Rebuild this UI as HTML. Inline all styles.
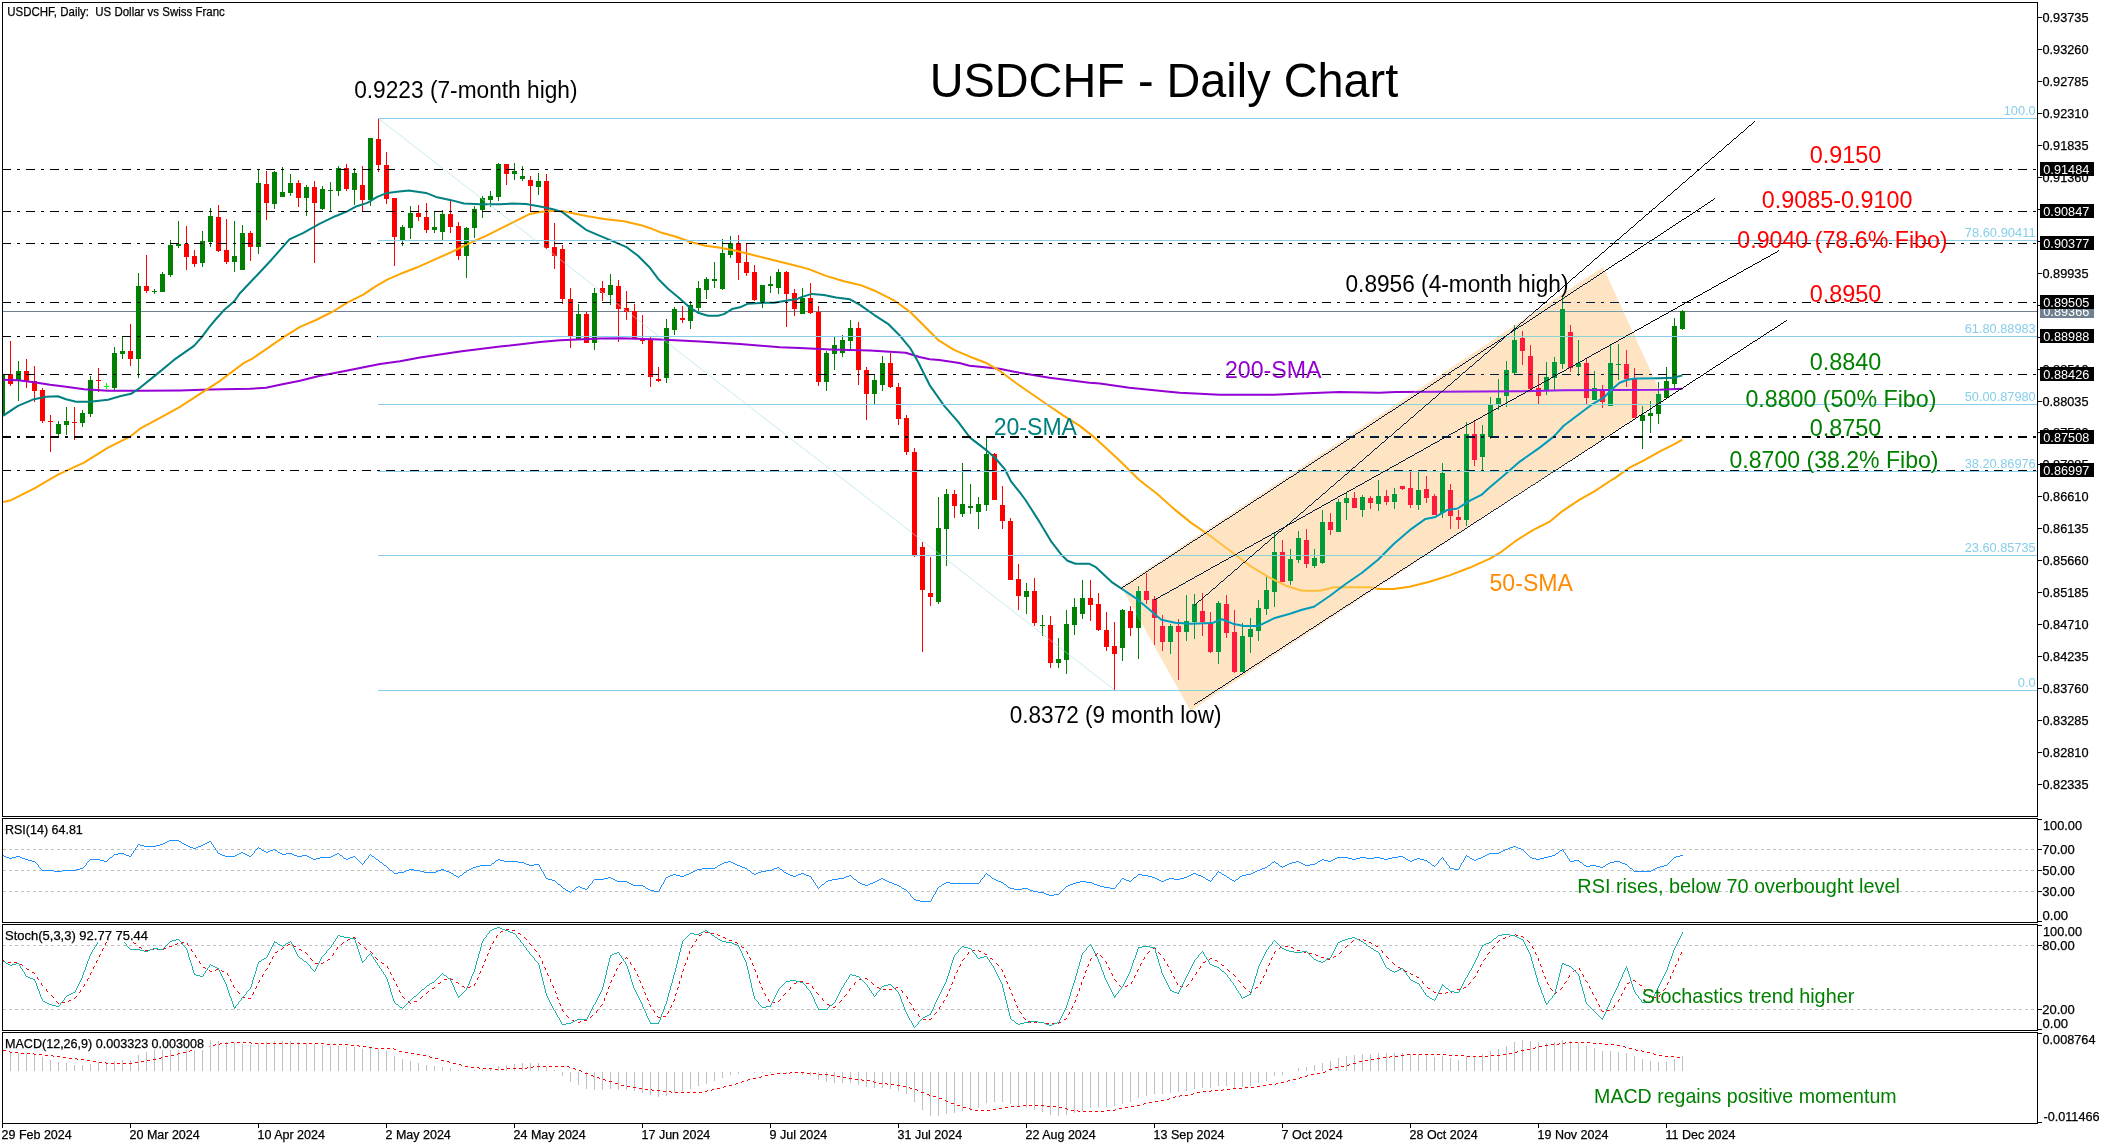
<!DOCTYPE html><html><head><meta charset="utf-8"><title>USDCHF - Daily Chart</title>
<style>html,body{margin:0;padding:0;background:#fff;}body{width:2107px;height:1147px;overflow:hidden;}svg{display:block;will-change:transform;}text{font-family:"Liberation Sans",sans-serif;}.m{stroke:#000;stroke-width:0.25px;}</style></head><body>
<svg width="2107" height="1147" viewBox="0 0 2107 1147">
<rect x="0" y="0" width="2107" height="1147" fill="#ffffff"/>
<defs><clipPath id="cm"><rect x="3" y="3" width="2034" height="813"/></clipPath>
<clipPath id="cr"><rect x="3" y="819" width="2034" height="103"/></clipPath>
<clipPath id="cs"><rect x="3" y="925" width="2034" height="105"/></clipPath>
<clipPath id="cd"><rect x="3" y="1033" width="2034" height="90"/></clipPath></defs>
<defs><clipPath id="cp"><polygon points="1121.0,586.5 1603.0,267.0 1663.5,399.0 1190.5,711.0"/></clipPath></defs>
<g clip-path="url(#cm)">
<rect x="3" y="311" width="2034" height="1" fill="#708090" shape-rendering="crispEdges"/>
<g shape-rendering="crispEdges">
<rect x="3" y="375" width="2" height="41" fill="#008000"/>
<path fill="#ff0000" d="M10 341h1v45h-1zM8 374h5v10h-5z"/>
<path fill="#008000" d="M18 361h1v40h-1zM16 371h5v10h-5z"/>
<path fill="#ff0000" d="M26 359h1v29h-1zM24 371h5v10h-5z"/>
<path fill="#ff0000" d="M34 366h1v36h-1zM32 381h5v10h-5z"/>
<path fill="#ff0000" d="M42 388h1v35h-1zM40 390h5v31h-5z"/>
<path fill="#ff0000" d="M50 415h1v37h-1zM48 421h5v1h-5z"/>
<path fill="#008000" d="M58 421h1v16h-1zM56 424h5v10h-5z"/>
<path fill="#008000" d="M66 407h1v28h-1zM64 421h5v4h-5z"/>
<path fill="#ff0000" d="M74 407h1v33h-1zM72 422h5v1h-5z"/>
<path fill="#008000" d="M82 410h1v17h-1zM80 413h5v10h-5z"/>
<path fill="#008000" d="M90 376h1v41h-1zM88 380h5v34h-5z"/>
<path fill="#ff0000" d="M98 368h1v24h-1zM96 380h5v1h-5z"/>
<path fill="#00ff00" d="M106 383h1v6h-1zM104 386h5v1h-5z"/>
<path fill="#008000" d="M114 347h1v43h-1zM112 353h5v35h-5z"/>
<path fill="#008000" d="M122 336h1v23h-1zM120 351h5v3h-5z"/>
<path fill="#ff0000" d="M130 324h1v42h-1zM128 351h5v8h-5z"/>
<path fill="#008000" d="M138 273h1v105h-1zM136 286h5v73h-5z"/>
<path fill="#ff0000" d="M146 255h1v38h-1zM144 286h5v5h-5z"/>
<path fill="#008000" d="M154 289h1v5h-1zM152 291h5v1h-5z"/>
<path fill="#008000" d="M162 272h1v20h-1zM160 274h5v18h-5z"/>
<path fill="#008000" d="M170 240h1v37h-1zM168 245h5v30h-5z"/>
<path fill="#008000" d="M178 221h1v27h-1zM176 244h5v2h-5z"/>
<path fill="#ff0000" d="M186 226h1v44h-1zM184 244h5v13h-5z"/>
<path fill="#ff0000" d="M194 250h1v17h-1zM192 256h5v8h-5z"/>
<path fill="#008000" d="M202 231h1v36h-1zM200 241h5v22h-5z"/>
<path fill="#008000" d="M210 208h1v39h-1zM208 216h5v26h-5z"/>
<path fill="#ff0000" d="M218 205h1v47h-1zM216 217h5v34h-5z"/>
<path fill="#ff0000" d="M226 219h1v45h-1zM224 250h5v12h-5z"/>
<path fill="#008000" d="M234 221h1v51h-1zM232 256h5v6h-5z"/>
<path fill="#008000" d="M242 225h1v45h-1zM240 233h5v37h-5z"/>
<path fill="#ff0000" d="M250 231h1v30h-1zM248 233h5v14h-5z"/>
<path fill="#008000" d="M258 170h1v84h-1zM256 183h5v64h-5z"/>
<path fill="#ff0000" d="M266 171h1v49h-1zM264 184h5v19h-5z"/>
<path fill="#008000" d="M274 171h1v38h-1zM272 172h5v32h-5z"/>
<path fill="#008000" d="M282 167h1v30h-1zM280 192h5v5h-5z"/>
<path fill="#008000" d="M290 174h1v22h-1zM288 183h5v10h-5z"/>
<path fill="#ff0000" d="M298 180h1v27h-1zM296 183h5v15h-5z"/>
<path fill="#008000" d="M306 185h1v31h-1zM304 187h5v11h-5z"/>
<path fill="#ff0000" d="M314 181h1v82h-1zM312 187h5v16h-5z"/>
<path fill="#008000" d="M322 186h1v24h-1zM320 189h5v20h-5z"/>
<path fill="#008000" d="M330 182h1v29h-1zM328 190h5v1h-5z"/>
<path fill="#008000" d="M338 166h1v30h-1zM336 168h5v23h-5z"/>
<path fill="#ff0000" d="M346 164h1v27h-1zM344 168h5v21h-5z"/>
<path fill="#008000" d="M354 168h1v37h-1zM352 173h5v17h-5z"/>
<path fill="#ff0000" d="M362 166h1v45h-1zM360 185h5v15h-5z"/>
<path fill="#008000" d="M370 138h1v68h-1zM368 138h5v62h-5z"/>
<path fill="#ff0000" d="M378 119h1v53h-1zM376 139h5v26h-5z"/>
<path fill="#ff0000" d="M386 152h1v52h-1zM384 165h5v34h-5z"/>
<path fill="#ff0000" d="M394 198h1v68h-1zM392 198h5v39h-5z"/>
<path fill="#008000" d="M402 225h1v21h-1zM400 227h5v13h-5z"/>
<path fill="#008000" d="M410 206h1v33h-1zM408 213h5v15h-5z"/>
<path fill="#ff0000" d="M418 205h1v16h-1zM416 213h5v4h-5z"/>
<path fill="#ff0000" d="M426 203h1v30h-1zM424 217h5v13h-5z"/>
<path fill="#008000" d="M434 211h1v22h-1zM432 227h5v3h-5z"/>
<path fill="#008000" d="M442 210h1v30h-1zM440 214h5v18h-5z"/>
<path fill="#ff0000" d="M450 201h1v32h-1zM448 214h5v13h-5z"/>
<path fill="#ff0000" d="M458 222h1v38h-1zM456 226h5v30h-5z"/>
<path fill="#008000" d="M466 227h1v51h-1zM464 228h5v28h-5z"/>
<path fill="#008000" d="M474 206h1v32h-1zM472 209h5v19h-5z"/>
<path fill="#008000" d="M482 196h1v22h-1zM480 198h5v12h-5z"/>
<path fill="#008000" d="M490 191h1v16h-1zM488 196h5v4h-5z"/>
<path fill="#008000" d="M498 163h1v38h-1zM496 164h5v33h-5z"/>
<path fill="#ff0000" d="M506 164h1v21h-1zM504 164h5v10h-5z"/>
<path fill="#008000" d="M514 163h1v17h-1zM512 171h5v3h-5z"/>
<path fill="#008000" d="M522 166h1v15h-1zM520 176h5v3h-5z"/>
<path fill="#ff0000" d="M530 176h1v35h-1zM528 180h5v6h-5z"/>
<path fill="#008000" d="M538 173h1v22h-1zM536 181h5v6h-5z"/>
<path fill="#ff0000" d="M546 174h1v75h-1zM544 181h5v67h-5z"/>
<path fill="#ff0000" d="M554 223h1v46h-1zM552 247h5v9h-5z"/>
<path fill="#ff0000" d="M562 245h1v59h-1zM560 249h5v50h-5z"/>
<path fill="#ff0000" d="M570 288h1v60h-1zM568 299h5v37h-5z"/>
<path fill="#008000" d="M578 304h1v35h-1zM576 314h5v25h-5z"/>
<path fill="#ff0000" d="M586 312h1v31h-1zM584 314h5v29h-5z"/>
<path fill="#008000" d="M594 288h1v62h-1zM592 293h5v50h-5z"/>
<path fill="#ff0000" d="M602 281h1v20h-1zM600 288h5v5h-5z"/>
<path fill="#008000" d="M610 274h1v31h-1zM608 285h5v10h-5z"/>
<path fill="#ff0000" d="M618 280h1v62h-1zM616 286h5v23h-5z"/>
<path fill="#ff0000" d="M626 291h1v29h-1zM624 308h5v4h-5z"/>
<path fill="#ff0000" d="M634 304h1v35h-1zM632 311h5v28h-5z"/>
<path fill="#ff0000" d="M642 315h1v29h-1zM640 339h5v2h-5z"/>
<path fill="#ff0000" d="M650 337h1v50h-1zM648 340h5v37h-5z"/>
<path fill="#ff0000" d="M658 367h1v15h-1zM656 379h5v2h-5z"/>
<path fill="#008000" d="M666 319h1v64h-1zM664 328h5v50h-5z"/>
<path fill="#008000" d="M674 307h1v28h-1zM672 309h5v21h-5z"/>
<path fill="#ff0000" d="M682 306h1v17h-1zM680 318h5v2h-5z"/>
<path fill="#008000" d="M690 301h1v28h-1zM688 305h5v16h-5z"/>
<path fill="#008000" d="M698 281h1v30h-1zM696 288h5v20h-5z"/>
<path fill="#008000" d="M706 277h1v22h-1zM704 279h5v11h-5z"/>
<path fill="#008000" d="M714 262h1v26h-1zM712 279h5v2h-5z"/>
<path fill="#008000" d="M722 239h1v51h-1zM720 253h5v36h-5z"/>
<path fill="#008000" d="M730 236h1v22h-1zM728 243h5v12h-5z"/>
<path fill="#ff0000" d="M738 235h1v45h-1zM736 243h5v20h-5z"/>
<path fill="#ff0000" d="M746 243h1v33h-1zM744 262h5v11h-5z"/>
<path fill="#ff0000" d="M754 265h1v36h-1zM752 272h5v28h-5z"/>
<path fill="#008000" d="M762 285h1v23h-1zM760 285h5v18h-5z"/>
<path fill="#008000" d="M770 276h1v17h-1zM768 284h5v2h-5z"/>
<path fill="#008000" d="M778 269h1v25h-1zM776 272h5v16h-5z"/>
<path fill="#ff0000" d="M786 271h1v56h-1zM784 272h5v22h-5z"/>
<path fill="#ff0000" d="M794 289h1v27h-1zM792 293h5v16h-5z"/>
<path fill="#008000" d="M802 288h1v26h-1zM800 298h5v16h-5z"/>
<path fill="#ff0000" d="M810 283h1v31h-1zM808 298h5v15h-5z"/>
<path fill="#ff0000" d="M818 306h1v80h-1zM816 312h5v70h-5z"/>
<path fill="#008000" d="M826 351h1v40h-1zM824 353h5v29h-5z"/>
<path fill="#008000" d="M834 337h1v33h-1zM832 345h5v9h-5z"/>
<path fill="#008000" d="M842 335h1v22h-1zM840 340h5v13h-5z"/>
<path fill="#008000" d="M850 320h1v29h-1zM848 328h5v13h-5z"/>
<path fill="#ff0000" d="M858 322h1v63h-1zM856 328h5v42h-5z"/>
<path fill="#ff0000" d="M866 367h1v53h-1zM864 370h5v24h-5z"/>
<path fill="#008000" d="M874 374h1v30h-1zM872 380h5v14h-5z"/>
<path fill="#008000" d="M882 356h1v35h-1zM880 363h5v22h-5z"/>
<path fill="#ff0000" d="M890 353h1v35h-1zM888 363h5v24h-5z"/>
<path fill="#ff0000" d="M898 383h1v42h-1zM896 387h5v32h-5z"/>
<path fill="#ff0000" d="M906 415h1v40h-1zM904 418h5v34h-5z"/>
<path fill="#ff0000" d="M914 448h1v109h-1zM912 452h5v103h-5z"/>
<path fill="#ff0000" d="M922 542h1v110h-1zM920 547h5v43h-5z"/>
<path fill="#ff0000" d="M930 557h1v49h-1zM928 593h5v4h-5z"/>
<path fill="#008000" d="M938 497h1v107h-1zM936 528h5v74h-5z"/>
<path fill="#008000" d="M946 489h1v77h-1zM944 494h5v35h-5z"/>
<path fill="#ff0000" d="M954 490h1v28h-1zM952 494h5v12h-5z"/>
<path fill="#008000" d="M962 463h1v54h-1zM960 504h5v10h-5z"/>
<path fill="#008000" d="M970 484h1v30h-1zM968 506h5v2h-5z"/>
<path fill="#008000" d="M978 497h1v32h-1zM976 504h5v8h-5z"/>
<path fill="#008000" d="M986 437h1v74h-1zM984 454h5v51h-5z"/>
<path fill="#ff0000" d="M994 453h1v47h-1zM992 454h5v46h-5z"/>
<path fill="#ff0000" d="M1002 486h1v43h-1zM1000 505h5v16h-5z"/>
<path fill="#ff0000" d="M1010 518h1v62h-1zM1008 521h5v59h-5z"/>
<path fill="#ff0000" d="M1018 564h1v46h-1zM1016 579h5v17h-5z"/>
<path fill="#008000" d="M1026 583h1v31h-1zM1024 591h5v6h-5z"/>
<path fill="#ff0000" d="M1034 578h1v48h-1zM1032 591h5v32h-5z"/>
<path fill="#008000" d="M1042 615h1v21h-1zM1040 625h5v1h-5z"/>
<path fill="#ff0000" d="M1050 616h1v52h-1zM1048 625h5v38h-5z"/>
<path fill="#008000" d="M1058 638h1v30h-1zM1056 659h5v4h-5z"/>
<path fill="#008000" d="M1066 610h1v64h-1zM1064 624h5v36h-5z"/>
<path fill="#008000" d="M1074 598h1v37h-1zM1072 607h5v18h-5z"/>
<path fill="#008000" d="M1082 580h1v39h-1zM1080 598h5v16h-5z"/>
<path fill="#ff0000" d="M1090 580h1v41h-1zM1088 598h5v7h-5z"/>
<path fill="#ff0000" d="M1098 593h1v38h-1zM1096 604h5v26h-5z"/>
<path fill="#ff0000" d="M1106 612h1v39h-1zM1104 630h5v17h-5z"/>
<path fill="#ff0000" d="M1114 622h1v68h-1zM1112 646h5v8h-5z"/>
<path fill="#008000" d="M1122 609h1v52h-1zM1120 610h5v38h-5z"/>
<path fill="#ff0000" d="M1130 606h1v30h-1zM1128 611h5v17h-5z"/>
<path fill="#008000" d="M1138 586h1v73h-1zM1136 591h5v37h-5z"/>
<path fill="#ff0000" d="M1146 573h1v31h-1zM1144 591h5v9h-5z"/>
<path fill="#ff0000" d="M1154 596h1v49h-1zM1152 599h5v19h-5z"/>
<path fill="#ff0000" d="M1162 615h1v36h-1zM1160 626h5v16h-5z"/>
<path fill="#008000" d="M1170 624h1v30h-1zM1168 626h5v16h-5z"/>
<path fill="#ff0000" d="M1178 619h1v61h-1zM1176 626h5v6h-5z"/>
<path fill="#008000" d="M1186 595h1v46h-1zM1184 621h5v11h-5z"/>
<path fill="#008000" d="M1194 594h1v45h-1zM1192 604h5v18h-5z"/>
<path fill="#ff0000" d="M1202 593h1v43h-1zM1200 611h5v11h-5z"/>
<path fill="#ff0000" d="M1210 612h1v41h-1zM1208 623h5v29h-5z"/>
<path fill="#008000" d="M1218 601h1v63h-1zM1216 603h5v49h-5z"/>
<path fill="#ff0000" d="M1226 595h1v43h-1zM1224 604h5v29h-5z"/>
<path fill="#ff0000" d="M1234 610h1v63h-1zM1232 632h5v40h-5z"/>
<path fill="#008000" d="M1242 623h1v49h-1zM1240 636h5v36h-5z"/>
<path fill="#008000" d="M1250 618h1v35h-1zM1248 629h5v8h-5z"/>
<path fill="#008000" d="M1258 600h1v41h-1zM1256 608h5v23h-5z"/>
<path fill="#008000" d="M1266 577h1v38h-1zM1264 590h5v19h-5z"/>
<path fill="#008000" d="M1274 533h1v74h-1zM1272 552h5v40h-5z"/>
<path fill="#ff0000" d="M1282 540h1v42h-1zM1280 552h5v30h-5z"/>
<path fill="#008000" d="M1290 549h1v36h-1zM1288 559h5v22h-5z"/>
<path fill="#008000" d="M1298 531h1v32h-1zM1296 538h5v22h-5z"/>
<path fill="#ff0000" d="M1306 529h1v39h-1zM1304 540h5v24h-5z"/>
<path fill="#008000" d="M1314 549h1v19h-1zM1312 558h5v8h-5z"/>
<path fill="#008000" d="M1322 510h1v54h-1zM1320 522h5v41h-5z"/>
<path fill="#ff0000" d="M1330 513h1v22h-1zM1328 522h5v8h-5z"/>
<path fill="#008000" d="M1338 499h1v33h-1zM1336 502h5v30h-5z"/>
<path fill="#008000" d="M1346 492h1v28h-1zM1344 498h5v5h-5z"/>
<path fill="#ff0000" d="M1354 492h1v16h-1zM1352 498h5v10h-5z"/>
<path fill="#008000" d="M1362 495h1v22h-1zM1360 497h5v13h-5z"/>
<path fill="#ff0000" d="M1370 496h1v13h-1zM1368 498h5v5h-5z"/>
<path fill="#008000" d="M1378 480h1v31h-1zM1376 496h5v8h-5z"/>
<path fill="#ff0000" d="M1386 490h1v15h-1zM1384 496h5v6h-5z"/>
<path fill="#008000" d="M1394 488h1v21h-1zM1392 494h5v8h-5z"/>
<path fill="#ff0000" d="M1402 486h1v4h-1zM1400 486h5v3h-5z"/>
<path fill="#ff0000" d="M1410 472h1v36h-1zM1408 488h5v17h-5z"/>
<path fill="#008000" d="M1418 472h1v38h-1zM1416 490h5v15h-5z"/>
<path fill="#ff0000" d="M1426 476h1v27h-1zM1424 489h5v9h-5z"/>
<path fill="#ff0000" d="M1434 494h1v21h-1zM1432 496h5v19h-5z"/>
<path fill="#008000" d="M1442 463h1v55h-1zM1440 473h5v40h-5z"/>
<path fill="#ff0000" d="M1450 484h1v45h-1zM1448 490h5v26h-5z"/>
<path fill="#ff0000" d="M1458 510h1v19h-1zM1456 517h5v3h-5z"/>
<path fill="#008000" d="M1466 422h1v104h-1zM1464 434h5v86h-5z"/>
<path fill="#ff0000" d="M1474 421h1v45h-1zM1472 434h5v26h-5z"/>
<path fill="#008000" d="M1482 425h1v46h-1zM1480 434h5v23h-5z"/>
<path fill="#008000" d="M1490 397h1v42h-1zM1488 405h5v32h-5z"/>
<path fill="#008000" d="M1498 379h1v31h-1zM1496 398h5v7h-5z"/>
<path fill="#008000" d="M1506 361h1v46h-1zM1504 370h5v26h-5z"/>
<path fill="#008000" d="M1514 325h1v49h-1zM1512 340h5v33h-5z"/>
<path fill="#ff0000" d="M1522 331h1v34h-1zM1520 338h5v13h-5z"/>
<path fill="#ff0000" d="M1530 345h1v44h-1zM1528 356h5v33h-5z"/>
<path fill="#ff0000" d="M1538 374h1v30h-1zM1536 388h5v8h-5z"/>
<path fill="#008000" d="M1546 362h1v33h-1zM1544 377h5v13h-5z"/>
<path fill="#008000" d="M1554 357h1v33h-1zM1552 362h5v16h-5z"/>
<path fill="#008000" d="M1562 297h1v72h-1zM1560 309h5v55h-5z"/>
<path fill="#ff0000" d="M1570 325h1v47h-1zM1568 332h5v36h-5z"/>
<path fill="#008000" d="M1578 340h1v36h-1zM1576 363h5v4h-5z"/>
<path fill="#ff0000" d="M1586 358h1v47h-1zM1584 363h5v35h-5z"/>
<path fill="#008000" d="M1594 371h1v29h-1zM1592 388h5v12h-5z"/>
<path fill="#ff0000" d="M1602 385h1v23h-1zM1600 390h5v12h-5z"/>
<path fill="#008000" d="M1610 344h1v62h-1zM1608 363h5v43h-5z"/>
<path fill="#008000" d="M1618 344h1v36h-1zM1616 364h5v1h-5z"/>
<path fill="#ff0000" d="M1626 350h1v37h-1zM1624 364h5v15h-5z"/>
<path fill="#ff0000" d="M1634 368h1v50h-1zM1632 378h5v40h-5z"/>
<path fill="#008000" d="M1642 406h1v43h-1zM1640 415h5v6h-5z"/>
<path fill="#008000" d="M1650 401h1v32h-1zM1648 413h5v3h-5z"/>
<path fill="#008000" d="M1658 382h1v42h-1zM1656 394h5v20h-5z"/>
<path fill="#008000" d="M1666 367h1v32h-1zM1664 381h5v17h-5z"/>
<path fill="#008000" d="M1674 318h1v71h-1zM1672 326h5v58h-5z"/>
<path fill="#008000" d="M1682 310h1v20h-1zM1680 311h5v18h-5z"/>
</g>
<polyline points="3.0,379.8 18.0,380.2 34.0,382.2 50.0,384.8 66.0,386.8 84.0,389.2 108.0,390.8 140.0,390.8 180.0,390.4 210.0,389.6 250.0,388.8 266.0,387.8 280.0,384.8 300.0,380.8 320.0,375.8 340.0,371.9 360.0,367.9 380.0,363.9 400.0,361.2 420.0,357.6 460.0,351.6 500.0,346.6 540.0,342.0 560.0,340.2 600.0,338.6 620.0,338.2 660.0,339.6 700.0,341.6 740.0,344.0 780.0,347.2 800.0,348.0 830.0,349.4 870.0,350.4 905.8,352.8 919.4,357.0 929.7,359.3 939.3,360.0 959.3,363.0 969.6,365.7 999.6,368.7 1019.5,372.7 1049.5,377.7 1089.4,382.7 1100.0,383.5 1129.3,387.7 1169.2,391.7 1179.8,392.7 1219.8,394.7 1273.7,394.7 1307.6,393.3 1339.5,392.1 1379.4,392.7 1395.4,392.1 1520.0,391.3 1563.7,390.3 1659.5,389.7 1682.4,388.7" fill="none" stroke="#9400d3" stroke-width="2" stroke-linejoin="round" />
<polyline points="3.0,502.0 10.0,500.6 34.0,488.6 58.0,474.7 84.0,462.7 108.0,447.7 130.0,436.7 140.0,428.7 160.0,417.8 180.0,406.8 200.0,393.8 220.0,380.8 244.0,362.9 252.0,358.9 268.0,347.9 284.0,336.9 300.0,326.9 316.0,320.0 332.0,312.0 347.3,302.7 363.3,294.7 375.2,286.7 387.2,279.7 403.2,272.7 416.0,267.8 434.0,259.8 452.0,251.8 468.0,243.8 486.0,235.8 502.0,227.8 518.0,219.9 530.0,213.9 540.0,211.9 550.0,210.9 562.0,210.9 574.0,213.5 588.0,216.3 604.0,218.9 624.0,221.3 640.0,224.9 652.0,228.8 660.0,232.2 676.0,236.8 690.0,241.8 704.0,245.4 720.0,247.8 736.0,250.8 752.0,254.8 768.0,258.8 780.0,261.8 794.0,265.2 808.0,268.9 826.0,275.9 844.0,281.3 860.0,284.9 876.0,291.3 894.0,300.3 910.0,311.8 926.0,327.8 938.0,339.8 954.0,349.8 970.0,356.7 985.6,362.7 999.6,370.7 1015.6,382.7 1031.5,393.7 1047.5,404.7 1063.5,415.6 1079.4,425.6 1093.4,436.6 1105.4,447.6 1117.4,458.5 1139.3,480.0 1157.3,494.0 1175.2,509.9 1191.2,522.9 1210.0,535.8 1230.0,550.8 1250.0,565.8 1270.0,577.8 1286.0,585.7 1302.0,590.7 1320.0,590.7 1334.0,587.3 1369.6,587.3 1379.6,589.1 1393.6,589.1 1409.6,586.7 1429.5,581.8 1449.5,575.4 1469.4,567.8 1489.4,558.8 1501.4,551.8 1517.3,539.8 1533.3,529.9 1549.3,521.9 1561.3,511.9 1579.2,499.9 1595.2,490.9 1610.0,481.0 1615.6,477.6 1629.5,467.6 1643.5,460.6 1659.5,451.6 1673.5,444.6 1682.4,439.6" fill="none" stroke="#ffa500" stroke-width="2" stroke-linejoin="round" />
<polyline points="3.0,415.8 18.0,405.8 34.0,399.2 46.0,396.8 58.0,396.2 66.0,399.2 76.0,401.8 90.0,401.8 108.0,399.8 120.0,396.2 131.0,393.8 140.0,387.8 156.0,374.9 174.0,359.9 194.0,345.9 202.0,336.9 209.6,326.6 216.0,319.0 223.6,310.6 234.5,301.0 239.5,293.7 257.5,274.7 271.5,259.7 289.4,239.4 303.4,232.8 319.4,223.8 335.3,216.2 347.3,211.4 355.3,206.8 367.3,202.9 377.2,196.9 387.2,192.9 399.2,191.5 409.2,190.5 412.0,190.9 426.0,192.9 436.0,196.9 450.0,199.9 464.0,203.5 480.0,204.3 500.0,204.3 512.0,203.5 526.0,203.9 540.0,206.5 552.0,208.9 562.0,211.9 574.0,220.9 586.0,229.8 600.0,235.8 612.0,240.8 626.0,246.8 638.0,255.8 650.0,267.8 658.0,278.7 668.0,288.7 680.0,298.7 690.0,307.7 698.0,312.7 708.0,315.7 718.0,315.7 724.0,314.1 732.0,309.1 740.0,307.3 748.0,303.7 760.0,302.9 774.0,302.7 786.0,300.7 798.0,298.7 802.0,296.9 812.0,293.9 824.0,294.9 836.0,297.5 850.0,299.3 860.0,304.9 874.0,314.8 888.0,323.8 900.0,335.8 910.0,347.8 918.0,361.7 924.0,373.7 930.0,385.7 944.0,405.6 958.0,421.6 970.0,437.6 985.6,449.6 995.6,458.5 1005.2,469.7 1011.2,481.7 1020.0,492.7 1025.5,500.0 1039.5,521.9 1051.5,541.9 1061.5,554.9 1067.5,560.8 1075.4,563.8 1089.4,563.8 1095.4,566.8 1111.4,581.8 1123.4,589.8 1135.3,597.8 1147.3,607.7 1161.3,619.7 1175.2,622.7 1191.2,623.7 1212.0,623.1 1222.0,619.3 1234.0,624.1 1244.0,626.1 1258.0,626.1 1274.0,618.3 1290.0,613.7 1302.0,609.7 1314.0,606.7 1330.0,595.7 1346.0,583.8 1362.0,572.8 1378.0,559.8 1394.0,543.8 1410.0,529.9 1425.5,518.9 1435.5,516.9 1447.5,509.9 1457.5,508.5 1469.4,500.9 1481.4,494.9 1487.8,489.0 1503.8,475.6 1519.8,461.6 1539.7,447.6 1553.7,436.6 1563.7,425.7 1579.6,413.7 1591.6,404.7 1603.6,397.7 1611.6,389.7 1619.6,382.8 1627.5,379.8 1635.5,378.4 1659.5,378.2 1673.5,377.8 1682.4,375.4" fill="none" stroke="#008080" stroke-width="2" stroke-linejoin="round" />
<g stroke="#000000" shape-rendering="crispEdges" stroke-dasharray="9 6 3 6">
<line x1="2" y1="169.5" x2="2037" y2="169.5" stroke-width="1"/>
<line x1="2" y1="211.5" x2="2037" y2="211.5" stroke-width="1"/>
<line x1="2" y1="243.5" x2="2037" y2="243.5" stroke-width="1"/>
<line x1="2" y1="302.5" x2="2037" y2="302.5" stroke-width="1"/>
<line x1="2" y1="336.5" x2="2037" y2="336.5" stroke-width="1"/>
<line x1="2" y1="374.5" x2="2037" y2="374.5" stroke-width="1"/>
<line x1="2" y1="470.5" x2="2037" y2="470.5" stroke-width="1"/>
<line x1="2" y1="437" x2="2037" y2="437" stroke-width="2"/>
</g>
<g shape-rendering="crispEdges" fill="#87ceeb">
<rect x="378" y="118" width="1659" height="1"/>
<rect x="378" y="240" width="1659" height="1"/>
<rect x="378" y="336" width="1659" height="1"/>
<rect x="378" y="404" width="1659" height="1"/>
<rect x="378" y="471" width="1659" height="1"/>
<rect x="378" y="555" width="1659" height="1"/>
<rect x="378" y="690" width="1659" height="1"/>
</g>
<line x1="378.5" y1="118.5" x2="1114.5" y2="690" stroke="#a8dce8" stroke-width="1" opacity="0.6"/>
<path shape-rendering="crispEdges" fill="#000000" d="M1121 588h1v1h-1zM1122 587h1v1h-1zM1123 586h2v1h-2zM1125 585h1v1h-1zM1126 584h2v1h-2zM1128 583h2v1h-2zM1130 582h1v1h-1zM1131 581h2v1h-2zM1133 580h1v1h-1zM1134 579h2v1h-2zM1136 578h1v1h-1zM1137 577h2v1h-2zM1139 576h1v1h-1zM1140 575h2v1h-2zM1142 574h1v1h-1zM1143 573h2v1h-2zM1145 572h1v1h-1zM1146 571h2v1h-2zM1148 570h1v1h-1zM1149 569h2v1h-2zM1151 568h1v1h-1zM1152 567h2v1h-2zM1154 566h1v1h-1zM1155 565h2v1h-2zM1157 564h1v1h-1zM1158 563h2v1h-2zM1160 562h2v1h-2zM1162 561h1v1h-1zM1163 560h2v1h-2zM1165 559h1v1h-1zM1166 558h2v1h-2zM1168 557h1v1h-1zM1169 556h2v1h-2zM1171 555h1v1h-1zM1172 554h2v1h-2zM1174 553h1v1h-1zM1175 552h2v1h-2zM1177 551h1v1h-1zM1178 550h2v1h-2zM1180 549h1v1h-1zM1181 548h2v1h-2zM1183 547h1v1h-1zM1184 546h2v1h-2zM1186 545h1v1h-1zM1187 544h2v1h-2zM1189 543h1v1h-1zM1190 542h2v1h-2zM1192 541h1v1h-1zM1193 540h2v1h-2zM1195 539h2v1h-2zM1197 538h1v1h-1zM1198 537h2v1h-2zM1200 536h1v1h-1zM1201 535h2v1h-2zM1203 534h1v1h-1zM1204 533h2v1h-2zM1206 532h1v1h-1zM1207 531h2v1h-2zM1209 530h1v1h-1zM1210 529h2v1h-2zM1212 528h1v1h-1zM1213 527h2v1h-2zM1215 526h1v1h-1zM1216 525h2v1h-2zM1218 524h1v1h-1zM1219 523h2v1h-2zM1221 522h1v1h-1zM1222 521h2v1h-2zM1224 520h1v1h-1zM1225 519h2v1h-2zM1227 518h2v1h-2zM1229 517h1v1h-1zM1230 516h2v1h-2zM1232 515h1v1h-1zM1233 514h2v1h-2zM1235 513h1v1h-1zM1236 512h2v1h-2zM1238 511h1v1h-1zM1239 510h2v1h-2zM1241 509h1v1h-1zM1242 508h2v1h-2zM1244 507h1v1h-1zM1245 506h2v1h-2zM1247 505h1v1h-1zM1248 504h2v1h-2zM1250 503h1v1h-1zM1251 502h2v1h-2zM1253 501h1v1h-1zM1254 500h2v1h-2zM1256 499h1v1h-1zM1257 498h2v1h-2zM1259 497h2v1h-2zM1261 496h1v1h-1zM1262 495h2v1h-2zM1264 494h1v1h-1zM1265 493h2v1h-2zM1267 492h1v1h-1zM1268 491h2v1h-2zM1270 490h1v1h-1zM1271 489h2v1h-2zM1273 488h1v1h-1zM1274 487h2v1h-2zM1276 486h1v1h-1zM1277 485h2v1h-2zM1279 484h1v1h-1zM1280 483h2v1h-2zM1282 482h1v1h-1zM1283 481h2v1h-2zM1285 480h1v1h-1zM1286 479h2v1h-2zM1288 478h1v1h-1zM1289 477h2v1h-2zM1291 476h2v1h-2zM1293 475h1v1h-1zM1294 474h2v1h-2zM1296 473h1v1h-1zM1297 472h2v1h-2zM1299 471h1v1h-1zM1300 470h2v1h-2zM1302 469h1v1h-1zM1303 468h2v1h-2zM1305 467h1v1h-1zM1306 466h2v1h-2zM1308 465h1v1h-1zM1309 464h2v1h-2zM1311 463h1v1h-1zM1312 462h2v1h-2zM1314 461h1v1h-1zM1315 460h2v1h-2zM1317 459h1v1h-1zM1318 458h2v1h-2zM1320 457h1v1h-1zM1321 456h2v1h-2zM1323 455h1v1h-1zM1324 454h2v1h-2zM1326 453h2v1h-2zM1328 452h1v1h-1zM1329 451h2v1h-2zM1331 450h1v1h-1zM1332 449h2v1h-2zM1334 448h1v1h-1zM1335 447h2v1h-2zM1337 446h1v1h-1zM1338 445h2v1h-2zM1340 444h1v1h-1zM1341 443h2v1h-2zM1343 442h1v1h-1zM1344 441h2v1h-2zM1346 440h1v1h-1zM1347 439h2v1h-2zM1349 438h1v1h-1zM1350 437h2v1h-2zM1352 436h1v1h-1zM1353 435h2v1h-2zM1355 434h1v1h-1zM1356 433h2v1h-2zM1358 432h2v1h-2zM1360 431h1v1h-1zM1361 430h2v1h-2zM1363 429h1v1h-1zM1364 428h2v1h-2zM1366 427h1v1h-1zM1367 426h2v1h-2zM1369 425h1v1h-1zM1370 424h2v1h-2zM1372 423h1v1h-1zM1373 422h2v1h-2zM1375 421h1v1h-1zM1376 420h2v1h-2zM1378 419h1v1h-1zM1379 418h2v1h-2zM1381 417h1v1h-1zM1382 416h2v1h-2zM1384 415h1v1h-1zM1385 414h2v1h-2zM1387 413h1v1h-1zM1388 412h2v1h-2zM1390 411h2v1h-2zM1392 410h1v1h-1zM1393 409h2v1h-2zM1395 408h1v1h-1zM1396 407h2v1h-2zM1398 406h1v1h-1zM1399 405h2v1h-2zM1401 404h1v1h-1zM1402 403h2v1h-2zM1404 402h1v1h-1zM1405 401h2v1h-2zM1407 400h1v1h-1zM1408 399h2v1h-2zM1410 398h1v1h-1zM1411 397h2v1h-2zM1413 396h1v1h-1zM1414 395h2v1h-2zM1416 394h1v1h-1zM1417 393h2v1h-2zM1419 392h1v1h-1zM1420 391h2v1h-2zM1422 390h2v1h-2zM1424 389h1v1h-1zM1425 388h2v1h-2zM1427 387h1v1h-1zM1428 386h2v1h-2zM1430 385h1v1h-1zM1431 384h2v1h-2zM1433 383h1v1h-1zM1434 382h2v1h-2zM1436 381h1v1h-1zM1437 380h2v1h-2zM1439 379h1v1h-1zM1440 378h2v1h-2zM1442 377h1v1h-1zM1443 376h2v1h-2zM1445 375h1v1h-1zM1446 374h2v1h-2zM1448 373h1v1h-1zM1449 372h2v1h-2zM1451 371h1v1h-1zM1452 370h2v1h-2zM1454 369h1v1h-1zM1455 368h2v1h-2zM1457 367h2v1h-2zM1459 366h1v1h-1zM1460 365h2v1h-2zM1462 364h1v1h-1zM1463 363h2v1h-2zM1465 362h1v1h-1zM1466 361h2v1h-2zM1468 360h1v1h-1zM1469 359h2v1h-2zM1471 358h1v1h-1zM1472 357h2v1h-2zM1474 356h1v1h-1zM1475 355h2v1h-2zM1477 354h1v1h-1zM1478 353h2v1h-2zM1480 352h1v1h-1zM1481 351h2v1h-2zM1483 350h1v1h-1zM1484 349h2v1h-2zM1486 348h1v1h-1zM1487 347h2v1h-2zM1489 346h2v1h-2zM1491 345h1v1h-1zM1492 344h2v1h-2zM1494 343h1v1h-1zM1495 342h2v1h-2zM1497 341h1v1h-1zM1498 340h2v1h-2zM1500 339h1v1h-1zM1501 338h2v1h-2zM1503 337h1v1h-1zM1504 336h2v1h-2zM1506 335h1v1h-1zM1507 334h2v1h-2zM1509 333h1v1h-1zM1510 332h2v1h-2zM1512 331h1v1h-1zM1513 330h2v1h-2zM1515 329h1v1h-1zM1516 328h2v1h-2zM1518 327h1v1h-1zM1519 326h2v1h-2zM1521 325h2v1h-2zM1523 324h1v1h-1zM1524 323h2v1h-2zM1526 322h1v1h-1zM1527 321h2v1h-2zM1529 320h1v1h-1zM1530 319h2v1h-2zM1532 318h1v1h-1zM1533 317h2v1h-2zM1535 316h1v1h-1zM1536 315h2v1h-2zM1538 314h1v1h-1zM1539 313h2v1h-2zM1541 312h1v1h-1zM1542 311h2v1h-2zM1544 310h1v1h-1zM1545 309h2v1h-2zM1547 308h1v1h-1zM1548 307h2v1h-2zM1550 306h1v1h-1zM1551 305h2v1h-2zM1553 304h2v1h-2zM1555 303h1v1h-1zM1556 302h2v1h-2zM1558 301h1v1h-1zM1559 300h2v1h-2zM1561 299h1v1h-1zM1562 298h2v1h-2zM1564 297h1v1h-1zM1565 296h2v1h-2zM1567 295h1v1h-1zM1568 294h2v1h-2zM1570 293h1v1h-1zM1571 292h2v1h-2zM1573 291h1v1h-1zM1574 290h2v1h-2zM1576 289h1v1h-1zM1577 288h2v1h-2zM1579 287h1v1h-1zM1580 286h2v1h-2zM1582 285h1v1h-1zM1583 284h2v1h-2zM1585 283h2v1h-2zM1587 282h1v1h-1zM1588 281h2v1h-2zM1590 280h1v1h-1zM1591 279h2v1h-2zM1593 278h1v1h-1zM1594 277h2v1h-2zM1596 276h1v1h-1zM1597 275h2v1h-2zM1599 274h1v1h-1zM1600 273h2v1h-2zM1602 272h1v1h-1zM1603 271h2v1h-2zM1605 270h1v1h-1zM1606 269h2v1h-2zM1608 268h1v1h-1zM1609 267h2v1h-2zM1611 266h1v1h-1zM1612 265h2v1h-2zM1614 264h1v1h-1zM1615 263h2v1h-2zM1617 262h1v1h-1zM1618 261h2v1h-2zM1620 260h2v1h-2zM1622 259h1v1h-1zM1623 258h2v1h-2zM1625 257h1v1h-1zM1626 256h2v1h-2zM1628 255h1v1h-1zM1629 254h2v1h-2zM1631 253h1v1h-1zM1632 252h2v1h-2zM1634 251h1v1h-1zM1635 250h2v1h-2zM1637 249h1v1h-1zM1638 248h2v1h-2zM1640 247h1v1h-1zM1641 246h2v1h-2zM1643 245h1v1h-1zM1644 244h2v1h-2zM1646 243h1v1h-1zM1647 242h2v1h-2zM1649 241h1v1h-1zM1650 240h2v1h-2zM1652 239h2v1h-2zM1654 238h1v1h-1zM1655 237h2v1h-2zM1657 236h1v1h-1zM1658 235h2v1h-2zM1660 234h1v1h-1zM1661 233h2v1h-2zM1663 232h1v1h-1zM1664 231h2v1h-2zM1666 230h1v1h-1zM1667 229h2v1h-2zM1669 228h1v1h-1zM1670 227h2v1h-2zM1672 226h1v1h-1zM1673 225h2v1h-2zM1675 224h1v1h-1zM1676 223h2v1h-2zM1678 222h1v1h-1zM1679 221h2v1h-2zM1681 220h1v1h-1zM1682 219h2v1h-2zM1684 218h2v1h-2zM1686 217h1v1h-1zM1687 216h2v1h-2zM1689 215h1v1h-1zM1690 214h2v1h-2zM1692 213h1v1h-1zM1693 212h2v1h-2zM1695 211h1v1h-1zM1696 210h2v1h-2zM1698 209h1v1h-1zM1699 208h2v1h-2zM1701 207h1v1h-1zM1702 206h2v1h-2zM1704 205h1v1h-1zM1705 204h2v1h-2zM1707 203h1v1h-1zM1708 202h2v1h-2zM1710 201h1v1h-1zM1711 200h2v1h-2zM1713 199h1v1h-1zM1714 198h1v1h-1zM1154 599h2v1h-2zM1156 598h2v1h-2zM1158 597h2v1h-2zM1160 596h1v1h-1zM1161 595h2v1h-2zM1163 594h2v1h-2zM1165 593h2v1h-2zM1167 592h2v1h-2zM1169 591h1v1h-1zM1170 590h2v1h-2zM1172 589h2v1h-2zM1174 588h2v1h-2zM1176 587h2v1h-2zM1178 586h1v1h-1zM1179 585h2v1h-2zM1181 584h2v1h-2zM1183 583h2v1h-2zM1185 582h1v1h-1zM1186 581h2v1h-2zM1188 580h2v1h-2zM1190 579h2v1h-2zM1192 578h2v1h-2zM1194 577h1v1h-1zM1195 576h2v1h-2zM1197 575h2v1h-2zM1199 574h2v1h-2zM1201 573h2v1h-2zM1203 572h1v1h-1zM1204 571h2v1h-2zM1206 570h2v1h-2zM1208 569h2v1h-2zM1210 568h1v1h-1zM1211 567h2v1h-2zM1213 566h2v1h-2zM1215 565h2v1h-2zM1217 564h2v1h-2zM1219 563h1v1h-1zM1220 562h2v1h-2zM1222 561h2v1h-2zM1224 560h2v1h-2zM1226 559h2v1h-2zM1228 558h1v1h-1zM1229 557h2v1h-2zM1231 556h2v1h-2zM1233 555h2v1h-2zM1235 554h2v1h-2zM1237 553h1v1h-1zM1238 552h2v1h-2zM1240 551h2v1h-2zM1242 550h2v1h-2zM1244 549h1v1h-1zM1245 548h2v1h-2zM1247 547h2v1h-2zM1249 546h2v1h-2zM1251 545h2v1h-2zM1253 544h1v1h-1zM1254 543h2v1h-2zM1256 542h2v1h-2zM1258 541h2v1h-2zM1260 540h2v1h-2zM1262 539h1v1h-1zM1263 538h2v1h-2zM1265 537h2v1h-2zM1267 536h2v1h-2zM1269 535h2v1h-2zM1271 534h1v1h-1zM1272 533h2v1h-2zM1274 532h2v1h-2zM1276 531h2v1h-2zM1278 530h1v1h-1zM1279 529h2v1h-2zM1281 528h2v1h-2zM1283 527h2v1h-2zM1285 526h2v1h-2zM1287 525h1v1h-1zM1288 524h2v1h-2zM1290 523h2v1h-2zM1292 522h2v1h-2zM1294 521h2v1h-2zM1296 520h1v1h-1zM1297 519h2v1h-2zM1299 518h2v1h-2zM1301 517h2v1h-2zM1303 516h2v1h-2zM1305 515h1v1h-1zM1306 514h2v1h-2zM1308 513h2v1h-2zM1310 512h2v1h-2zM1312 511h1v1h-1zM1313 510h2v1h-2zM1315 509h2v1h-2zM1317 508h2v1h-2zM1319 507h2v1h-2zM1321 506h1v1h-1zM1322 505h2v1h-2zM1324 504h2v1h-2zM1326 503h2v1h-2zM1328 502h2v1h-2zM1330 501h1v1h-1zM1331 500h2v1h-2zM1333 499h2v1h-2zM1335 498h2v1h-2zM1337 497h1v1h-1zM1338 496h2v1h-2zM1340 495h2v1h-2zM1342 494h2v1h-2zM1344 493h2v1h-2zM1346 492h1v1h-1zM1347 491h2v1h-2zM1349 490h2v1h-2zM1351 489h2v1h-2zM1353 488h2v1h-2zM1355 487h1v1h-1zM1356 486h2v1h-2zM1358 485h2v1h-2zM1360 484h2v1h-2zM1362 483h2v1h-2zM1364 482h1v1h-1zM1365 481h2v1h-2zM1367 480h2v1h-2zM1369 479h2v1h-2zM1371 478h1v1h-1zM1372 477h2v1h-2zM1374 476h2v1h-2zM1376 475h2v1h-2zM1378 474h2v1h-2zM1380 473h1v1h-1zM1381 472h2v1h-2zM1383 471h2v1h-2zM1385 470h2v1h-2zM1387 469h2v1h-2zM1389 468h1v1h-1zM1390 467h2v1h-2zM1392 466h2v1h-2zM1394 465h2v1h-2zM1396 464h2v1h-2zM1398 463h1v1h-1zM1399 462h2v1h-2zM1401 461h2v1h-2zM1403 460h2v1h-2zM1405 459h1v1h-1zM1406 458h2v1h-2zM1408 457h2v1h-2zM1410 456h2v1h-2zM1412 455h2v1h-2zM1414 454h1v1h-1zM1415 453h2v1h-2zM1417 452h2v1h-2zM1419 451h2v1h-2zM1421 450h2v1h-2zM1423 449h1v1h-1zM1424 448h2v1h-2zM1426 447h2v1h-2zM1428 446h2v1h-2zM1430 445h1v1h-1zM1431 444h2v1h-2zM1433 443h2v1h-2zM1435 442h2v1h-2zM1437 441h2v1h-2zM1439 440h1v1h-1zM1440 439h2v1h-2zM1442 438h2v1h-2zM1444 437h2v1h-2zM1446 436h2v1h-2zM1448 435h1v1h-1zM1449 434h2v1h-2zM1451 433h2v1h-2zM1453 432h2v1h-2zM1455 431h2v1h-2zM1457 430h1v1h-1zM1458 429h2v1h-2zM1460 428h2v1h-2zM1462 427h2v1h-2zM1464 426h1v1h-1zM1465 425h2v1h-2zM1467 424h2v1h-2zM1469 423h2v1h-2zM1471 422h2v1h-2zM1473 421h1v1h-1zM1474 420h2v1h-2zM1476 419h2v1h-2zM1478 418h2v1h-2zM1480 417h2v1h-2zM1482 416h1v1h-1zM1483 415h2v1h-2zM1485 414h2v1h-2zM1487 413h2v1h-2zM1489 412h2v1h-2zM1491 411h1v1h-1zM1492 410h2v1h-2zM1494 409h2v1h-2zM1496 408h2v1h-2zM1498 407h1v1h-1zM1499 406h2v1h-2zM1501 405h2v1h-2zM1503 404h2v1h-2zM1505 403h2v1h-2zM1507 402h1v1h-1zM1508 401h2v1h-2zM1510 400h2v1h-2zM1512 399h2v1h-2zM1514 398h2v1h-2zM1516 397h1v1h-1zM1517 396h2v1h-2zM1519 395h2v1h-2zM1521 394h2v1h-2zM1523 393h2v1h-2zM1525 392h1v1h-1zM1526 391h2v1h-2zM1528 390h2v1h-2zM1530 389h2v1h-2zM1532 388h1v1h-1zM1533 387h2v1h-2zM1535 386h2v1h-2zM1537 385h2v1h-2zM1539 384h2v1h-2zM1541 383h1v1h-1zM1542 382h2v1h-2zM1544 381h2v1h-2zM1546 380h2v1h-2zM1548 379h2v1h-2zM1550 378h1v1h-1zM1551 377h2v1h-2zM1553 376h2v1h-2zM1555 375h2v1h-2zM1557 374h1v1h-1zM1558 373h2v1h-2zM1560 372h2v1h-2zM1562 371h2v1h-2zM1564 370h2v1h-2zM1566 369h1v1h-1zM1567 368h2v1h-2zM1569 367h2v1h-2zM1571 366h2v1h-2zM1573 365h2v1h-2zM1575 364h1v1h-1zM1576 363h2v1h-2zM1578 362h2v1h-2zM1580 361h2v1h-2zM1582 360h2v1h-2zM1584 359h1v1h-1zM1585 358h2v1h-2zM1587 357h2v1h-2zM1589 356h2v1h-2zM1591 355h1v1h-1zM1592 354h2v1h-2zM1594 353h2v1h-2zM1596 352h2v1h-2zM1598 351h2v1h-2zM1600 350h1v1h-1zM1601 349h2v1h-2zM1603 348h2v1h-2zM1605 347h2v1h-2zM1607 346h2v1h-2zM1609 345h1v1h-1zM1610 344h2v1h-2zM1612 343h2v1h-2zM1614 342h2v1h-2zM1616 341h2v1h-2zM1618 340h1v1h-1zM1619 339h2v1h-2zM1621 338h2v1h-2zM1623 337h2v1h-2zM1625 336h1v1h-1zM1626 335h2v1h-2zM1628 334h2v1h-2zM1630 333h2v1h-2zM1632 332h2v1h-2zM1634 331h1v1h-1zM1635 330h2v1h-2zM1637 329h2v1h-2zM1639 328h2v1h-2zM1641 327h2v1h-2zM1643 326h1v1h-1zM1644 325h2v1h-2zM1646 324h2v1h-2zM1648 323h2v1h-2zM1650 322h1v1h-1zM1651 321h2v1h-2zM1653 320h2v1h-2zM1655 319h2v1h-2zM1657 318h2v1h-2zM1659 317h1v1h-1zM1660 316h2v1h-2zM1662 315h2v1h-2zM1664 314h2v1h-2zM1666 313h2v1h-2zM1668 312h1v1h-1zM1669 311h2v1h-2zM1671 310h2v1h-2zM1673 309h2v1h-2zM1675 308h2v1h-2zM1677 307h1v1h-1zM1678 306h2v1h-2zM1680 305h2v1h-2zM1682 304h2v1h-2zM1684 303h1v1h-1zM1685 302h2v1h-2zM1687 301h2v1h-2zM1689 300h2v1h-2zM1691 299h2v1h-2zM1693 298h1v1h-1zM1694 297h2v1h-2zM1696 296h2v1h-2zM1698 295h2v1h-2zM1700 294h2v1h-2zM1702 293h1v1h-1zM1703 292h2v1h-2zM1705 291h2v1h-2zM1707 290h2v1h-2zM1709 289h2v1h-2zM1711 288h1v1h-1zM1712 287h2v1h-2zM1714 286h2v1h-2zM1716 285h2v1h-2zM1718 284h1v1h-1zM1719 283h2v1h-2zM1721 282h2v1h-2zM1723 281h2v1h-2zM1725 280h2v1h-2zM1727 279h1v1h-1zM1728 278h2v1h-2zM1730 277h2v1h-2zM1732 276h2v1h-2zM1734 275h2v1h-2zM1736 274h1v1h-1zM1737 273h2v1h-2zM1739 272h2v1h-2zM1741 271h2v1h-2zM1743 270h1v1h-1zM1744 269h2v1h-2zM1746 268h2v1h-2zM1748 267h2v1h-2zM1750 266h2v1h-2zM1752 265h1v1h-1zM1753 264h2v1h-2zM1755 263h2v1h-2zM1757 262h2v1h-2zM1759 261h2v1h-2zM1761 260h1v1h-1zM1762 259h2v1h-2zM1764 258h2v1h-2zM1766 257h2v1h-2zM1768 256h2v1h-2zM1770 255h1v1h-1zM1771 254h2v1h-2zM1773 253h2v1h-2zM1775 252h2v1h-2zM1777 251h1v1h-1zM1778 250h1v1h-1zM1194 605h1v1h-1zM1195 604h1v1h-1zM1196 603h1v1h-1zM1197 602h1v1h-1zM1198 601h1v1h-1zM1199 600h2v1h-2zM1201 599h1v1h-1zM1202 598h1v1h-1zM1203 597h1v1h-1zM1204 596h1v1h-1zM1205 595h1v1h-1zM1206 594h2v1h-2zM1208 593h1v1h-1zM1209 592h1v1h-1zM1210 591h1v1h-1zM1211 590h1v1h-1zM1212 589h1v1h-1zM1213 588h2v1h-2zM1215 587h1v1h-1zM1216 586h1v1h-1zM1217 585h1v1h-1zM1218 584h1v1h-1zM1219 583h1v1h-1zM1220 582h1v1h-1zM1221 581h2v1h-2zM1223 580h1v1h-1zM1224 579h1v1h-1zM1225 578h1v1h-1zM1226 577h1v1h-1zM1227 576h1v1h-1zM1228 575h2v1h-2zM1230 574h1v1h-1zM1231 573h1v1h-1zM1232 572h1v1h-1zM1233 571h1v1h-1zM1234 570h1v1h-1zM1235 569h2v1h-2zM1237 568h1v1h-1zM1238 567h1v1h-1zM1239 566h1v1h-1zM1240 565h1v1h-1zM1241 564h1v1h-1zM1242 563h1v1h-1zM1243 562h2v1h-2zM1245 561h1v1h-1zM1246 560h1v1h-1zM1247 559h1v1h-1zM1248 558h1v1h-1zM1249 557h1v1h-1zM1250 556h2v1h-2zM1252 555h1v1h-1zM1253 554h1v1h-1zM1254 553h1v1h-1zM1255 552h1v1h-1zM1256 551h1v1h-1zM1257 550h2v1h-2zM1259 549h1v1h-1zM1260 548h1v1h-1zM1261 547h1v1h-1zM1262 546h1v1h-1zM1263 545h1v1h-1zM1264 544h1v1h-1zM1265 543h2v1h-2zM1267 542h1v1h-1zM1268 541h1v1h-1zM1269 540h1v1h-1zM1270 539h1v1h-1zM1271 538h1v1h-1zM1272 537h2v1h-2zM1274 536h1v1h-1zM1275 535h1v1h-1zM1276 534h1v1h-1zM1277 533h1v1h-1zM1278 532h1v1h-1zM1279 531h2v1h-2zM1281 530h1v1h-1zM1282 529h1v1h-1zM1283 528h1v1h-1zM1284 527h1v1h-1zM1285 526h1v1h-1zM1286 525h1v1h-1zM1287 524h2v1h-2zM1289 523h1v1h-1zM1290 522h1v1h-1zM1291 521h1v1h-1zM1292 520h1v1h-1zM1293 519h1v1h-1zM1294 518h2v1h-2zM1296 517h1v1h-1zM1297 516h1v1h-1zM1298 515h1v1h-1zM1299 514h1v1h-1zM1300 513h1v1h-1zM1301 512h2v1h-2zM1303 511h1v1h-1zM1304 510h1v1h-1zM1305 509h1v1h-1zM1306 508h1v1h-1zM1307 507h1v1h-1zM1308 506h1v1h-1zM1309 505h2v1h-2zM1311 504h1v1h-1zM1312 503h1v1h-1zM1313 502h1v1h-1zM1314 501h1v1h-1zM1315 500h1v1h-1zM1316 499h2v1h-2zM1318 498h1v1h-1zM1319 497h1v1h-1zM1320 496h1v1h-1zM1321 495h1v1h-1zM1322 494h1v1h-1zM1323 493h2v1h-2zM1325 492h1v1h-1zM1326 491h1v1h-1zM1327 490h1v1h-1zM1328 489h1v1h-1zM1329 488h1v1h-1zM1330 487h1v1h-1zM1331 486h2v1h-2zM1333 485h1v1h-1zM1334 484h1v1h-1zM1335 483h1v1h-1zM1336 482h1v1h-1zM1337 481h1v1h-1zM1338 480h2v1h-2zM1340 479h1v1h-1zM1341 478h1v1h-1zM1342 477h1v1h-1zM1343 476h1v1h-1zM1344 475h1v1h-1zM1345 474h2v1h-2zM1347 473h1v1h-1zM1348 472h1v1h-1zM1349 471h1v1h-1zM1350 470h1v1h-1zM1351 469h1v1h-1zM1352 468h1v1h-1zM1353 467h2v1h-2zM1355 466h1v1h-1zM1356 465h1v1h-1zM1357 464h1v1h-1zM1358 463h1v1h-1zM1359 462h1v1h-1zM1360 461h2v1h-2zM1362 460h1v1h-1zM1363 459h1v1h-1zM1364 458h1v1h-1zM1365 457h1v1h-1zM1366 456h1v1h-1zM1367 455h2v1h-2zM1369 454h1v1h-1zM1370 453h1v1h-1zM1371 452h1v1h-1zM1372 451h1v1h-1zM1373 450h1v1h-1zM1374 449h1v1h-1zM1375 448h2v1h-2zM1377 447h1v1h-1zM1378 446h1v1h-1zM1379 445h1v1h-1zM1380 444h1v1h-1zM1381 443h1v1h-1zM1382 442h2v1h-2zM1384 441h1v1h-1zM1385 440h1v1h-1zM1386 439h1v1h-1zM1387 438h1v1h-1zM1388 437h1v1h-1zM1389 436h2v1h-2zM1391 435h1v1h-1zM1392 434h1v1h-1zM1393 433h1v1h-1zM1394 432h1v1h-1zM1395 431h1v1h-1zM1396 430h1v1h-1zM1397 429h2v1h-2zM1399 428h1v1h-1zM1400 427h1v1h-1zM1401 426h1v1h-1zM1402 425h1v1h-1zM1403 424h1v1h-1zM1404 423h2v1h-2zM1406 422h1v1h-1zM1407 421h1v1h-1zM1408 420h1v1h-1zM1409 419h1v1h-1zM1410 418h1v1h-1zM1411 417h2v1h-2zM1413 416h1v1h-1zM1414 415h1v1h-1zM1415 414h1v1h-1zM1416 413h1v1h-1zM1417 412h1v1h-1zM1418 411h1v1h-1zM1419 410h2v1h-2zM1421 409h1v1h-1zM1422 408h1v1h-1zM1423 407h1v1h-1zM1424 406h1v1h-1zM1425 405h1v1h-1zM1426 404h2v1h-2zM1428 403h1v1h-1zM1429 402h1v1h-1zM1430 401h1v1h-1zM1431 400h1v1h-1zM1432 399h1v1h-1zM1433 398h2v1h-2zM1435 397h1v1h-1zM1436 396h1v1h-1zM1437 395h1v1h-1zM1438 394h1v1h-1zM1439 393h1v1h-1zM1440 392h1v1h-1zM1441 391h2v1h-2zM1443 390h1v1h-1zM1444 389h1v1h-1zM1445 388h1v1h-1zM1446 387h1v1h-1zM1447 386h1v1h-1zM1448 385h2v1h-2zM1450 384h1v1h-1zM1451 383h1v1h-1zM1452 382h1v1h-1zM1453 381h1v1h-1zM1454 380h1v1h-1zM1455 379h2v1h-2zM1457 378h1v1h-1zM1458 377h1v1h-1zM1459 376h1v1h-1zM1460 375h1v1h-1zM1461 374h1v1h-1zM1462 373h1v1h-1zM1463 372h2v1h-2zM1465 371h1v1h-1zM1466 370h1v1h-1zM1467 369h1v1h-1zM1468 368h1v1h-1zM1469 367h1v1h-1zM1470 366h2v1h-2zM1472 365h1v1h-1zM1473 364h1v1h-1zM1474 363h1v1h-1zM1475 362h1v1h-1zM1476 361h1v1h-1zM1477 360h2v1h-2zM1479 359h1v1h-1zM1480 358h1v1h-1zM1481 357h1v1h-1zM1482 356h1v1h-1zM1483 355h1v1h-1zM1484 354h1v1h-1zM1485 353h2v1h-2zM1487 352h1v1h-1zM1488 351h1v1h-1zM1489 350h1v1h-1zM1490 349h1v1h-1zM1491 348h1v1h-1zM1492 347h2v1h-2zM1494 346h1v1h-1zM1495 345h1v1h-1zM1496 344h1v1h-1zM1497 343h1v1h-1zM1498 342h1v1h-1zM1499 341h2v1h-2zM1501 340h1v1h-1zM1502 339h1v1h-1zM1503 338h1v1h-1zM1504 337h1v1h-1zM1505 336h1v1h-1zM1506 335h1v1h-1zM1507 334h2v1h-2zM1509 333h1v1h-1zM1510 332h1v1h-1zM1511 331h1v1h-1zM1512 330h1v1h-1zM1513 329h1v1h-1zM1514 328h2v1h-2zM1516 327h1v1h-1zM1517 326h1v1h-1zM1518 325h1v1h-1zM1519 324h1v1h-1zM1520 323h1v1h-1zM1521 322h2v1h-2zM1523 321h1v1h-1zM1524 320h1v1h-1zM1525 319h1v1h-1zM1526 318h1v1h-1zM1527 317h1v1h-1zM1528 316h1v1h-1zM1529 315h2v1h-2zM1531 314h1v1h-1zM1532 313h1v1h-1zM1533 312h1v1h-1zM1534 311h1v1h-1zM1535 310h1v1h-1zM1536 309h2v1h-2zM1538 308h1v1h-1zM1539 307h1v1h-1zM1540 306h1v1h-1zM1541 305h1v1h-1zM1542 304h1v1h-1zM1543 303h2v1h-2zM1545 302h1v1h-1zM1546 301h1v1h-1zM1547 300h1v1h-1zM1548 299h1v1h-1zM1549 298h1v1h-1zM1550 297h1v1h-1zM1551 296h2v1h-2zM1553 295h1v1h-1zM1554 294h1v1h-1zM1555 293h1v1h-1zM1556 292h1v1h-1zM1557 291h1v1h-1zM1558 290h2v1h-2zM1560 289h1v1h-1zM1561 288h1v1h-1zM1562 287h1v1h-1zM1563 286h1v1h-1zM1564 285h1v1h-1zM1565 284h2v1h-2zM1567 283h1v1h-1zM1568 282h1v1h-1zM1569 281h1v1h-1zM1570 280h1v1h-1zM1571 279h1v1h-1zM1572 278h1v1h-1zM1573 277h2v1h-2zM1575 276h1v1h-1zM1576 275h1v1h-1zM1577 274h1v1h-1zM1578 273h1v1h-1zM1579 272h1v1h-1zM1580 271h2v1h-2zM1582 270h1v1h-1zM1583 269h1v1h-1zM1584 268h1v1h-1zM1585 267h1v1h-1zM1586 266h1v1h-1zM1587 265h2v1h-2zM1589 264h1v1h-1zM1590 263h1v1h-1zM1591 262h1v1h-1zM1592 261h1v1h-1zM1593 260h1v1h-1zM1594 259h1v1h-1zM1595 258h2v1h-2zM1597 257h1v1h-1zM1598 256h1v1h-1zM1599 255h1v1h-1zM1600 254h1v1h-1zM1601 253h1v1h-1zM1602 252h2v1h-2zM1604 251h1v1h-1zM1605 250h1v1h-1zM1606 249h1v1h-1zM1607 248h1v1h-1zM1608 247h1v1h-1zM1609 246h2v1h-2zM1611 245h1v1h-1zM1612 244h1v1h-1zM1613 243h1v1h-1zM1614 242h1v1h-1zM1615 241h1v1h-1zM1616 240h1v1h-1zM1617 239h2v1h-2zM1619 238h1v1h-1zM1620 237h1v1h-1zM1621 236h1v1h-1zM1622 235h1v1h-1zM1623 234h1v1h-1zM1624 233h2v1h-2zM1626 232h1v1h-1zM1627 231h1v1h-1zM1628 230h1v1h-1zM1629 229h1v1h-1zM1630 228h1v1h-1zM1631 227h2v1h-2zM1633 226h1v1h-1zM1634 225h1v1h-1zM1635 224h1v1h-1zM1636 223h1v1h-1zM1637 222h1v1h-1zM1638 221h1v1h-1zM1639 220h2v1h-2zM1641 219h1v1h-1zM1642 218h1v1h-1zM1643 217h1v1h-1zM1644 216h1v1h-1zM1645 215h1v1h-1zM1646 214h2v1h-2zM1648 213h1v1h-1zM1649 212h1v1h-1zM1650 211h1v1h-1zM1651 210h1v1h-1zM1652 209h1v1h-1zM1653 208h2v1h-2zM1655 207h1v1h-1zM1656 206h1v1h-1zM1657 205h1v1h-1zM1658 204h1v1h-1zM1659 203h1v1h-1zM1660 202h1v1h-1zM1661 201h2v1h-2zM1663 200h1v1h-1zM1664 199h1v1h-1zM1665 198h1v1h-1zM1666 197h1v1h-1zM1667 196h1v1h-1zM1668 195h2v1h-2zM1670 194h1v1h-1zM1671 193h1v1h-1zM1672 192h1v1h-1zM1673 191h1v1h-1zM1674 190h1v1h-1zM1675 189h2v1h-2zM1677 188h1v1h-1zM1678 187h1v1h-1zM1679 186h1v1h-1zM1680 185h1v1h-1zM1681 184h1v1h-1zM1682 183h1v1h-1zM1683 182h2v1h-2zM1685 181h1v1h-1zM1686 180h1v1h-1zM1687 179h1v1h-1zM1688 178h1v1h-1zM1689 177h1v1h-1zM1690 176h2v1h-2zM1692 175h1v1h-1zM1693 174h1v1h-1zM1694 173h1v1h-1zM1695 172h1v1h-1zM1696 171h1v1h-1zM1697 170h2v1h-2zM1699 169h1v1h-1zM1700 168h1v1h-1zM1701 167h1v1h-1zM1702 166h1v1h-1zM1703 165h1v1h-1zM1704 164h1v1h-1zM1705 163h2v1h-2zM1707 162h1v1h-1zM1708 161h1v1h-1zM1709 160h1v1h-1zM1710 159h1v1h-1zM1711 158h1v1h-1zM1712 157h2v1h-2zM1714 156h1v1h-1zM1715 155h1v1h-1zM1716 154h1v1h-1zM1717 153h1v1h-1zM1718 152h1v1h-1zM1719 151h2v1h-2zM1721 150h1v1h-1zM1722 149h1v1h-1zM1723 148h1v1h-1zM1724 147h1v1h-1zM1725 146h1v1h-1zM1726 145h1v1h-1zM1727 144h2v1h-2zM1729 143h1v1h-1zM1730 142h1v1h-1zM1731 141h1v1h-1zM1732 140h1v1h-1zM1733 139h1v1h-1zM1734 138h2v1h-2zM1736 137h1v1h-1zM1737 136h1v1h-1zM1738 135h1v1h-1zM1739 134h1v1h-1zM1740 133h1v1h-1zM1741 132h2v1h-2zM1743 131h1v1h-1zM1744 130h1v1h-1zM1745 129h1v1h-1zM1746 128h1v1h-1zM1747 127h1v1h-1zM1748 126h1v1h-1zM1749 125h2v1h-2zM1751 124h1v1h-1zM1752 123h1v1h-1zM1753 122h1v1h-1zM1754 121h1v1h-1zM1194 704h1v1h-1zM1195 703h2v1h-2zM1197 702h1v1h-1zM1198 701h2v1h-2zM1200 700h2v1h-2zM1202 699h1v1h-1zM1203 698h2v1h-2zM1205 697h1v1h-1zM1206 696h2v1h-2zM1208 695h1v1h-1zM1209 694h2v1h-2zM1211 693h1v1h-1zM1212 692h2v1h-2zM1214 691h1v1h-1zM1215 690h2v1h-2zM1217 689h1v1h-1zM1218 688h2v1h-2zM1220 687h2v1h-2zM1222 686h1v1h-1zM1223 685h2v1h-2zM1225 684h1v1h-1zM1226 683h2v1h-2zM1228 682h1v1h-1zM1229 681h2v1h-2zM1231 680h1v1h-1zM1232 679h2v1h-2zM1234 678h1v1h-1zM1235 677h2v1h-2zM1237 676h2v1h-2zM1239 675h1v1h-1zM1240 674h2v1h-2zM1242 673h1v1h-1zM1243 672h2v1h-2zM1245 671h1v1h-1zM1246 670h2v1h-2zM1248 669h1v1h-1zM1249 668h2v1h-2zM1251 667h1v1h-1zM1252 666h2v1h-2zM1254 665h1v1h-1zM1255 664h2v1h-2zM1257 663h2v1h-2zM1259 662h1v1h-1zM1260 661h2v1h-2zM1262 660h1v1h-1zM1263 659h2v1h-2zM1265 658h1v1h-1zM1266 657h2v1h-2zM1268 656h1v1h-1zM1269 655h2v1h-2zM1271 654h1v1h-1zM1272 653h2v1h-2zM1274 652h2v1h-2zM1276 651h1v1h-1zM1277 650h2v1h-2zM1279 649h1v1h-1zM1280 648h2v1h-2zM1282 647h1v1h-1zM1283 646h2v1h-2zM1285 645h1v1h-1zM1286 644h2v1h-2zM1288 643h1v1h-1zM1289 642h2v1h-2zM1291 641h1v1h-1zM1292 640h2v1h-2zM1294 639h2v1h-2zM1296 638h1v1h-1zM1297 637h2v1h-2zM1299 636h1v1h-1zM1300 635h2v1h-2zM1302 634h1v1h-1zM1303 633h2v1h-2zM1305 632h1v1h-1zM1306 631h2v1h-2zM1308 630h1v1h-1zM1309 629h2v1h-2zM1311 628h2v1h-2zM1313 627h1v1h-1zM1314 626h2v1h-2zM1316 625h1v1h-1zM1317 624h2v1h-2zM1319 623h1v1h-1zM1320 622h2v1h-2zM1322 621h1v1h-1zM1323 620h2v1h-2zM1325 619h1v1h-1zM1326 618h2v1h-2zM1328 617h1v1h-1zM1329 616h2v1h-2zM1331 615h2v1h-2zM1333 614h1v1h-1zM1334 613h2v1h-2zM1336 612h1v1h-1zM1337 611h2v1h-2zM1339 610h1v1h-1zM1340 609h2v1h-2zM1342 608h1v1h-1zM1343 607h2v1h-2zM1345 606h1v1h-1zM1346 605h2v1h-2zM1348 604h2v1h-2zM1350 603h1v1h-1zM1351 602h2v1h-2zM1353 601h1v1h-1zM1354 600h2v1h-2zM1356 599h1v1h-1zM1357 598h2v1h-2zM1359 597h1v1h-1zM1360 596h2v1h-2zM1362 595h1v1h-1zM1363 594h2v1h-2zM1365 593h1v1h-1zM1366 592h2v1h-2zM1368 591h2v1h-2zM1370 590h1v1h-1zM1371 589h2v1h-2zM1373 588h1v1h-1zM1374 587h2v1h-2zM1376 586h1v1h-1zM1377 585h2v1h-2zM1379 584h1v1h-1zM1380 583h2v1h-2zM1382 582h1v1h-1zM1383 581h2v1h-2zM1385 580h2v1h-2zM1387 579h1v1h-1zM1388 578h2v1h-2zM1390 577h1v1h-1zM1391 576h2v1h-2zM1393 575h1v1h-1zM1394 574h2v1h-2zM1396 573h1v1h-1zM1397 572h2v1h-2zM1399 571h1v1h-1zM1400 570h2v1h-2zM1402 569h1v1h-1zM1403 568h2v1h-2zM1405 567h2v1h-2zM1407 566h1v1h-1zM1408 565h2v1h-2zM1410 564h1v1h-1zM1411 563h2v1h-2zM1413 562h1v1h-1zM1414 561h2v1h-2zM1416 560h1v1h-1zM1417 559h2v1h-2zM1419 558h1v1h-1zM1420 557h2v1h-2zM1422 556h2v1h-2zM1424 555h1v1h-1zM1425 554h2v1h-2zM1427 553h1v1h-1zM1428 552h2v1h-2zM1430 551h1v1h-1zM1431 550h2v1h-2zM1433 549h1v1h-1zM1434 548h2v1h-2zM1436 547h1v1h-1zM1437 546h2v1h-2zM1439 545h1v1h-1zM1440 544h2v1h-2zM1442 543h2v1h-2zM1444 542h1v1h-1zM1445 541h2v1h-2zM1447 540h1v1h-1zM1448 539h2v1h-2zM1450 538h1v1h-1zM1451 537h2v1h-2zM1453 536h1v1h-1zM1454 535h2v1h-2zM1456 534h1v1h-1zM1457 533h2v1h-2zM1459 532h2v1h-2zM1461 531h1v1h-1zM1462 530h2v1h-2zM1464 529h1v1h-1zM1465 528h2v1h-2zM1467 527h1v1h-1zM1468 526h2v1h-2zM1470 525h1v1h-1zM1471 524h2v1h-2zM1473 523h1v1h-1zM1474 522h2v1h-2zM1476 521h1v1h-1zM1477 520h2v1h-2zM1479 519h2v1h-2zM1481 518h1v1h-1zM1482 517h2v1h-2zM1484 516h1v1h-1zM1485 515h2v1h-2zM1487 514h1v1h-1zM1488 513h2v1h-2zM1490 512h1v1h-1zM1491 511h2v1h-2zM1493 510h1v1h-1zM1494 509h2v1h-2zM1496 508h2v1h-2zM1498 507h1v1h-1zM1499 506h2v1h-2zM1501 505h1v1h-1zM1502 504h2v1h-2zM1504 503h1v1h-1zM1505 502h2v1h-2zM1507 501h1v1h-1zM1508 500h2v1h-2zM1510 499h1v1h-1zM1511 498h2v1h-2zM1513 497h1v1h-1zM1514 496h2v1h-2zM1516 495h2v1h-2zM1518 494h1v1h-1zM1519 493h2v1h-2zM1521 492h1v1h-1zM1522 491h2v1h-2zM1524 490h1v1h-1zM1525 489h2v1h-2zM1527 488h1v1h-1zM1528 487h2v1h-2zM1530 486h1v1h-1zM1531 485h2v1h-2zM1533 484h2v1h-2zM1535 483h1v1h-1zM1536 482h2v1h-2zM1538 481h1v1h-1zM1539 480h2v1h-2zM1541 479h1v1h-1zM1542 478h2v1h-2zM1544 477h1v1h-1zM1545 476h2v1h-2zM1547 475h1v1h-1zM1548 474h2v1h-2zM1550 473h1v1h-1zM1551 472h2v1h-2zM1553 471h2v1h-2zM1555 470h1v1h-1zM1556 469h2v1h-2zM1558 468h1v1h-1zM1559 467h2v1h-2zM1561 466h1v1h-1zM1562 465h2v1h-2zM1564 464h1v1h-1zM1565 463h2v1h-2zM1567 462h1v1h-1zM1568 461h2v1h-2zM1570 460h2v1h-2zM1572 459h1v1h-1zM1573 458h2v1h-2zM1575 457h1v1h-1zM1576 456h2v1h-2zM1578 455h1v1h-1zM1579 454h2v1h-2zM1581 453h1v1h-1zM1582 452h2v1h-2zM1584 451h1v1h-1zM1585 450h2v1h-2zM1587 449h1v1h-1zM1588 448h2v1h-2zM1590 447h2v1h-2zM1592 446h1v1h-1zM1593 445h2v1h-2zM1595 444h1v1h-1zM1596 443h2v1h-2zM1598 442h1v1h-1zM1599 441h2v1h-2zM1601 440h1v1h-1zM1602 439h2v1h-2zM1604 438h1v1h-1zM1605 437h2v1h-2zM1607 436h2v1h-2zM1609 435h1v1h-1zM1610 434h2v1h-2zM1612 433h1v1h-1zM1613 432h2v1h-2zM1615 431h1v1h-1zM1616 430h2v1h-2zM1618 429h1v1h-1zM1619 428h2v1h-2zM1621 427h1v1h-1zM1622 426h2v1h-2zM1624 425h1v1h-1zM1625 424h2v1h-2zM1627 423h2v1h-2zM1629 422h1v1h-1zM1630 421h2v1h-2zM1632 420h1v1h-1zM1633 419h2v1h-2zM1635 418h1v1h-1zM1636 417h2v1h-2zM1638 416h1v1h-1zM1639 415h2v1h-2zM1641 414h1v1h-1zM1642 413h2v1h-2zM1644 412h2v1h-2zM1646 411h1v1h-1zM1647 410h2v1h-2zM1649 409h1v1h-1zM1650 408h2v1h-2zM1652 407h1v1h-1zM1653 406h2v1h-2zM1655 405h1v1h-1zM1656 404h2v1h-2zM1658 403h1v1h-1zM1659 402h2v1h-2zM1661 401h2v1h-2zM1663 400h1v1h-1zM1664 399h2v1h-2zM1666 398h1v1h-1zM1667 397h2v1h-2zM1669 396h1v1h-1zM1670 395h2v1h-2zM1672 394h1v1h-1zM1673 393h2v1h-2zM1675 392h1v1h-1zM1676 391h2v1h-2zM1678 390h1v1h-1zM1679 389h2v1h-2zM1681 388h2v1h-2zM1683 387h1v1h-1zM1684 386h2v1h-2zM1686 385h1v1h-1zM1687 384h2v1h-2zM1689 383h1v1h-1zM1690 382h2v1h-2zM1692 381h1v1h-1zM1693 380h2v1h-2zM1695 379h1v1h-1zM1696 378h2v1h-2zM1698 377h2v1h-2zM1700 376h1v1h-1zM1701 375h2v1h-2zM1703 374h1v1h-1zM1704 373h2v1h-2zM1706 372h1v1h-1zM1707 371h2v1h-2zM1709 370h1v1h-1zM1710 369h2v1h-2zM1712 368h1v1h-1zM1713 367h2v1h-2zM1715 366h1v1h-1zM1716 365h2v1h-2zM1718 364h2v1h-2zM1720 363h1v1h-1zM1721 362h2v1h-2zM1723 361h1v1h-1zM1724 360h2v1h-2zM1726 359h1v1h-1zM1727 358h2v1h-2zM1729 357h1v1h-1zM1730 356h2v1h-2zM1732 355h1v1h-1zM1733 354h2v1h-2zM1735 353h2v1h-2zM1737 352h1v1h-1zM1738 351h2v1h-2zM1740 350h1v1h-1zM1741 349h2v1h-2zM1743 348h1v1h-1zM1744 347h2v1h-2zM1746 346h1v1h-1zM1747 345h2v1h-2zM1749 344h1v1h-1zM1750 343h2v1h-2zM1752 342h1v1h-1zM1753 341h2v1h-2zM1755 340h2v1h-2zM1757 339h1v1h-1zM1758 338h2v1h-2zM1760 337h1v1h-1zM1761 336h2v1h-2zM1763 335h1v1h-1zM1764 334h2v1h-2zM1766 333h1v1h-1zM1767 332h2v1h-2zM1769 331h1v1h-1zM1770 330h2v1h-2zM1772 329h2v1h-2zM1774 328h1v1h-1zM1775 327h2v1h-2zM1777 326h1v1h-1zM1778 325h2v1h-2zM1780 324h1v1h-1zM1781 323h2v1h-2zM1783 322h1v1h-1zM1784 321h2v1h-2zM1786 320h1v1h-1z"/>
<g clip-path="url(#cp)">
<rect x="1100" y="250" width="600" height="480" fill="#ffe4c4"/>
<rect x="3" y="311" width="2034" height="1" fill="#709bab" shape-rendering="crispEdges"/>
<g shape-rendering="crispEdges">
<rect x="3" y="375" width="2" height="41" fill="#009b3b"/>
<path fill="#ff1b3b" d="M10 341h1v45h-1zM8 374h5v10h-5z"/>
<path fill="#009b3b" d="M18 361h1v40h-1zM16 371h5v10h-5z"/>
<path fill="#ff1b3b" d="M26 359h1v29h-1zM24 371h5v10h-5z"/>
<path fill="#ff1b3b" d="M34 366h1v36h-1zM32 381h5v10h-5z"/>
<path fill="#ff1b3b" d="M42 388h1v35h-1zM40 390h5v31h-5z"/>
<path fill="#ff1b3b" d="M50 415h1v37h-1zM48 421h5v1h-5z"/>
<path fill="#009b3b" d="M58 421h1v16h-1zM56 424h5v10h-5z"/>
<path fill="#009b3b" d="M66 407h1v28h-1zM64 421h5v4h-5z"/>
<path fill="#ff1b3b" d="M74 407h1v33h-1zM72 422h5v1h-5z"/>
<path fill="#009b3b" d="M82 410h1v17h-1zM80 413h5v10h-5z"/>
<path fill="#009b3b" d="M90 376h1v41h-1zM88 380h5v34h-5z"/>
<path fill="#ff1b3b" d="M98 368h1v24h-1zM96 380h5v1h-5z"/>
<path fill="#00e43b" d="M106 383h1v6h-1zM104 386h5v1h-5z"/>
<path fill="#009b3b" d="M114 347h1v43h-1zM112 353h5v35h-5z"/>
<path fill="#009b3b" d="M122 336h1v23h-1zM120 351h5v3h-5z"/>
<path fill="#ff1b3b" d="M130 324h1v42h-1zM128 351h5v8h-5z"/>
<path fill="#009b3b" d="M138 273h1v105h-1zM136 286h5v73h-5z"/>
<path fill="#ff1b3b" d="M146 255h1v38h-1zM144 286h5v5h-5z"/>
<path fill="#009b3b" d="M154 289h1v5h-1zM152 291h5v1h-5z"/>
<path fill="#009b3b" d="M162 272h1v20h-1zM160 274h5v18h-5z"/>
<path fill="#009b3b" d="M170 240h1v37h-1zM168 245h5v30h-5z"/>
<path fill="#009b3b" d="M178 221h1v27h-1zM176 244h5v2h-5z"/>
<path fill="#ff1b3b" d="M186 226h1v44h-1zM184 244h5v13h-5z"/>
<path fill="#ff1b3b" d="M194 250h1v17h-1zM192 256h5v8h-5z"/>
<path fill="#009b3b" d="M202 231h1v36h-1zM200 241h5v22h-5z"/>
<path fill="#009b3b" d="M210 208h1v39h-1zM208 216h5v26h-5z"/>
<path fill="#ff1b3b" d="M218 205h1v47h-1zM216 217h5v34h-5z"/>
<path fill="#ff1b3b" d="M226 219h1v45h-1zM224 250h5v12h-5z"/>
<path fill="#009b3b" d="M234 221h1v51h-1zM232 256h5v6h-5z"/>
<path fill="#009b3b" d="M242 225h1v45h-1zM240 233h5v37h-5z"/>
<path fill="#ff1b3b" d="M250 231h1v30h-1zM248 233h5v14h-5z"/>
<path fill="#009b3b" d="M258 170h1v84h-1zM256 183h5v64h-5z"/>
<path fill="#ff1b3b" d="M266 171h1v49h-1zM264 184h5v19h-5z"/>
<path fill="#009b3b" d="M274 171h1v38h-1zM272 172h5v32h-5z"/>
<path fill="#009b3b" d="M282 167h1v30h-1zM280 192h5v5h-5z"/>
<path fill="#009b3b" d="M290 174h1v22h-1zM288 183h5v10h-5z"/>
<path fill="#ff1b3b" d="M298 180h1v27h-1zM296 183h5v15h-5z"/>
<path fill="#009b3b" d="M306 185h1v31h-1zM304 187h5v11h-5z"/>
<path fill="#ff1b3b" d="M314 181h1v82h-1zM312 187h5v16h-5z"/>
<path fill="#009b3b" d="M322 186h1v24h-1zM320 189h5v20h-5z"/>
<path fill="#009b3b" d="M330 182h1v29h-1zM328 190h5v1h-5z"/>
<path fill="#009b3b" d="M338 166h1v30h-1zM336 168h5v23h-5z"/>
<path fill="#ff1b3b" d="M346 164h1v27h-1zM344 168h5v21h-5z"/>
<path fill="#009b3b" d="M354 168h1v37h-1zM352 173h5v17h-5z"/>
<path fill="#ff1b3b" d="M362 166h1v45h-1zM360 185h5v15h-5z"/>
<path fill="#009b3b" d="M370 138h1v68h-1zM368 138h5v62h-5z"/>
<path fill="#ff1b3b" d="M378 119h1v53h-1zM376 139h5v26h-5z"/>
<path fill="#ff1b3b" d="M386 152h1v52h-1zM384 165h5v34h-5z"/>
<path fill="#ff1b3b" d="M394 198h1v68h-1zM392 198h5v39h-5z"/>
<path fill="#009b3b" d="M402 225h1v21h-1zM400 227h5v13h-5z"/>
<path fill="#009b3b" d="M410 206h1v33h-1zM408 213h5v15h-5z"/>
<path fill="#ff1b3b" d="M418 205h1v16h-1zM416 213h5v4h-5z"/>
<path fill="#ff1b3b" d="M426 203h1v30h-1zM424 217h5v13h-5z"/>
<path fill="#009b3b" d="M434 211h1v22h-1zM432 227h5v3h-5z"/>
<path fill="#009b3b" d="M442 210h1v30h-1zM440 214h5v18h-5z"/>
<path fill="#ff1b3b" d="M450 201h1v32h-1zM448 214h5v13h-5z"/>
<path fill="#ff1b3b" d="M458 222h1v38h-1zM456 226h5v30h-5z"/>
<path fill="#009b3b" d="M466 227h1v51h-1zM464 228h5v28h-5z"/>
<path fill="#009b3b" d="M474 206h1v32h-1zM472 209h5v19h-5z"/>
<path fill="#009b3b" d="M482 196h1v22h-1zM480 198h5v12h-5z"/>
<path fill="#009b3b" d="M490 191h1v16h-1zM488 196h5v4h-5z"/>
<path fill="#009b3b" d="M498 163h1v38h-1zM496 164h5v33h-5z"/>
<path fill="#ff1b3b" d="M506 164h1v21h-1zM504 164h5v10h-5z"/>
<path fill="#009b3b" d="M514 163h1v17h-1zM512 171h5v3h-5z"/>
<path fill="#009b3b" d="M522 166h1v15h-1zM520 176h5v3h-5z"/>
<path fill="#ff1b3b" d="M530 176h1v35h-1zM528 180h5v6h-5z"/>
<path fill="#009b3b" d="M538 173h1v22h-1zM536 181h5v6h-5z"/>
<path fill="#ff1b3b" d="M546 174h1v75h-1zM544 181h5v67h-5z"/>
<path fill="#ff1b3b" d="M554 223h1v46h-1zM552 247h5v9h-5z"/>
<path fill="#ff1b3b" d="M562 245h1v59h-1zM560 249h5v50h-5z"/>
<path fill="#ff1b3b" d="M570 288h1v60h-1zM568 299h5v37h-5z"/>
<path fill="#009b3b" d="M578 304h1v35h-1zM576 314h5v25h-5z"/>
<path fill="#ff1b3b" d="M586 312h1v31h-1zM584 314h5v29h-5z"/>
<path fill="#009b3b" d="M594 288h1v62h-1zM592 293h5v50h-5z"/>
<path fill="#ff1b3b" d="M602 281h1v20h-1zM600 288h5v5h-5z"/>
<path fill="#009b3b" d="M610 274h1v31h-1zM608 285h5v10h-5z"/>
<path fill="#ff1b3b" d="M618 280h1v62h-1zM616 286h5v23h-5z"/>
<path fill="#ff1b3b" d="M626 291h1v29h-1zM624 308h5v4h-5z"/>
<path fill="#ff1b3b" d="M634 304h1v35h-1zM632 311h5v28h-5z"/>
<path fill="#ff1b3b" d="M642 315h1v29h-1zM640 339h5v2h-5z"/>
<path fill="#ff1b3b" d="M650 337h1v50h-1zM648 340h5v37h-5z"/>
<path fill="#ff1b3b" d="M658 367h1v15h-1zM656 379h5v2h-5z"/>
<path fill="#009b3b" d="M666 319h1v64h-1zM664 328h5v50h-5z"/>
<path fill="#009b3b" d="M674 307h1v28h-1zM672 309h5v21h-5z"/>
<path fill="#ff1b3b" d="M682 306h1v17h-1zM680 318h5v2h-5z"/>
<path fill="#009b3b" d="M690 301h1v28h-1zM688 305h5v16h-5z"/>
<path fill="#009b3b" d="M698 281h1v30h-1zM696 288h5v20h-5z"/>
<path fill="#009b3b" d="M706 277h1v22h-1zM704 279h5v11h-5z"/>
<path fill="#009b3b" d="M714 262h1v26h-1zM712 279h5v2h-5z"/>
<path fill="#009b3b" d="M722 239h1v51h-1zM720 253h5v36h-5z"/>
<path fill="#009b3b" d="M730 236h1v22h-1zM728 243h5v12h-5z"/>
<path fill="#ff1b3b" d="M738 235h1v45h-1zM736 243h5v20h-5z"/>
<path fill="#ff1b3b" d="M746 243h1v33h-1zM744 262h5v11h-5z"/>
<path fill="#ff1b3b" d="M754 265h1v36h-1zM752 272h5v28h-5z"/>
<path fill="#009b3b" d="M762 285h1v23h-1zM760 285h5v18h-5z"/>
<path fill="#009b3b" d="M770 276h1v17h-1zM768 284h5v2h-5z"/>
<path fill="#009b3b" d="M778 269h1v25h-1zM776 272h5v16h-5z"/>
<path fill="#ff1b3b" d="M786 271h1v56h-1zM784 272h5v22h-5z"/>
<path fill="#ff1b3b" d="M794 289h1v27h-1zM792 293h5v16h-5z"/>
<path fill="#009b3b" d="M802 288h1v26h-1zM800 298h5v16h-5z"/>
<path fill="#ff1b3b" d="M810 283h1v31h-1zM808 298h5v15h-5z"/>
<path fill="#ff1b3b" d="M818 306h1v80h-1zM816 312h5v70h-5z"/>
<path fill="#009b3b" d="M826 351h1v40h-1zM824 353h5v29h-5z"/>
<path fill="#009b3b" d="M834 337h1v33h-1zM832 345h5v9h-5z"/>
<path fill="#009b3b" d="M842 335h1v22h-1zM840 340h5v13h-5z"/>
<path fill="#009b3b" d="M850 320h1v29h-1zM848 328h5v13h-5z"/>
<path fill="#ff1b3b" d="M858 322h1v63h-1zM856 328h5v42h-5z"/>
<path fill="#ff1b3b" d="M866 367h1v53h-1zM864 370h5v24h-5z"/>
<path fill="#009b3b" d="M874 374h1v30h-1zM872 380h5v14h-5z"/>
<path fill="#009b3b" d="M882 356h1v35h-1zM880 363h5v22h-5z"/>
<path fill="#ff1b3b" d="M890 353h1v35h-1zM888 363h5v24h-5z"/>
<path fill="#ff1b3b" d="M898 383h1v42h-1zM896 387h5v32h-5z"/>
<path fill="#ff1b3b" d="M906 415h1v40h-1zM904 418h5v34h-5z"/>
<path fill="#ff1b3b" d="M914 448h1v109h-1zM912 452h5v103h-5z"/>
<path fill="#ff1b3b" d="M922 542h1v110h-1zM920 547h5v43h-5z"/>
<path fill="#ff1b3b" d="M930 557h1v49h-1zM928 593h5v4h-5z"/>
<path fill="#009b3b" d="M938 497h1v107h-1zM936 528h5v74h-5z"/>
<path fill="#009b3b" d="M946 489h1v77h-1zM944 494h5v35h-5z"/>
<path fill="#ff1b3b" d="M954 490h1v28h-1zM952 494h5v12h-5z"/>
<path fill="#009b3b" d="M962 463h1v54h-1zM960 504h5v10h-5z"/>
<path fill="#009b3b" d="M970 484h1v30h-1zM968 506h5v2h-5z"/>
<path fill="#009b3b" d="M978 497h1v32h-1zM976 504h5v8h-5z"/>
<path fill="#009b3b" d="M986 437h1v74h-1zM984 454h5v51h-5z"/>
<path fill="#ff1b3b" d="M994 453h1v47h-1zM992 454h5v46h-5z"/>
<path fill="#ff1b3b" d="M1002 486h1v43h-1zM1000 505h5v16h-5z"/>
<path fill="#ff1b3b" d="M1010 518h1v62h-1zM1008 521h5v59h-5z"/>
<path fill="#ff1b3b" d="M1018 564h1v46h-1zM1016 579h5v17h-5z"/>
<path fill="#009b3b" d="M1026 583h1v31h-1zM1024 591h5v6h-5z"/>
<path fill="#ff1b3b" d="M1034 578h1v48h-1zM1032 591h5v32h-5z"/>
<path fill="#009b3b" d="M1042 615h1v21h-1zM1040 625h5v1h-5z"/>
<path fill="#ff1b3b" d="M1050 616h1v52h-1zM1048 625h5v38h-5z"/>
<path fill="#009b3b" d="M1058 638h1v30h-1zM1056 659h5v4h-5z"/>
<path fill="#009b3b" d="M1066 610h1v64h-1zM1064 624h5v36h-5z"/>
<path fill="#009b3b" d="M1074 598h1v37h-1zM1072 607h5v18h-5z"/>
<path fill="#009b3b" d="M1082 580h1v39h-1zM1080 598h5v16h-5z"/>
<path fill="#ff1b3b" d="M1090 580h1v41h-1zM1088 598h5v7h-5z"/>
<path fill="#ff1b3b" d="M1098 593h1v38h-1zM1096 604h5v26h-5z"/>
<path fill="#ff1b3b" d="M1106 612h1v39h-1zM1104 630h5v17h-5z"/>
<path fill="#ff1b3b" d="M1114 622h1v68h-1zM1112 646h5v8h-5z"/>
<path fill="#009b3b" d="M1122 609h1v52h-1zM1120 610h5v38h-5z"/>
<path fill="#ff1b3b" d="M1130 606h1v30h-1zM1128 611h5v17h-5z"/>
<path fill="#009b3b" d="M1138 586h1v73h-1zM1136 591h5v37h-5z"/>
<path fill="#ff1b3b" d="M1146 573h1v31h-1zM1144 591h5v9h-5z"/>
<path fill="#ff1b3b" d="M1154 596h1v49h-1zM1152 599h5v19h-5z"/>
<path fill="#ff1b3b" d="M1162 615h1v36h-1zM1160 626h5v16h-5z"/>
<path fill="#009b3b" d="M1170 624h1v30h-1zM1168 626h5v16h-5z"/>
<path fill="#ff1b3b" d="M1178 619h1v61h-1zM1176 626h5v6h-5z"/>
<path fill="#009b3b" d="M1186 595h1v46h-1zM1184 621h5v11h-5z"/>
<path fill="#009b3b" d="M1194 594h1v45h-1zM1192 604h5v18h-5z"/>
<path fill="#ff1b3b" d="M1202 593h1v43h-1zM1200 611h5v11h-5z"/>
<path fill="#ff1b3b" d="M1210 612h1v41h-1zM1208 623h5v29h-5z"/>
<path fill="#009b3b" d="M1218 601h1v63h-1zM1216 603h5v49h-5z"/>
<path fill="#ff1b3b" d="M1226 595h1v43h-1zM1224 604h5v29h-5z"/>
<path fill="#ff1b3b" d="M1234 610h1v63h-1zM1232 632h5v40h-5z"/>
<path fill="#009b3b" d="M1242 623h1v49h-1zM1240 636h5v36h-5z"/>
<path fill="#009b3b" d="M1250 618h1v35h-1zM1248 629h5v8h-5z"/>
<path fill="#009b3b" d="M1258 600h1v41h-1zM1256 608h5v23h-5z"/>
<path fill="#009b3b" d="M1266 577h1v38h-1zM1264 590h5v19h-5z"/>
<path fill="#009b3b" d="M1274 533h1v74h-1zM1272 552h5v40h-5z"/>
<path fill="#ff1b3b" d="M1282 540h1v42h-1zM1280 552h5v30h-5z"/>
<path fill="#009b3b" d="M1290 549h1v36h-1zM1288 559h5v22h-5z"/>
<path fill="#009b3b" d="M1298 531h1v32h-1zM1296 538h5v22h-5z"/>
<path fill="#ff1b3b" d="M1306 529h1v39h-1zM1304 540h5v24h-5z"/>
<path fill="#009b3b" d="M1314 549h1v19h-1zM1312 558h5v8h-5z"/>
<path fill="#009b3b" d="M1322 510h1v54h-1zM1320 522h5v41h-5z"/>
<path fill="#ff1b3b" d="M1330 513h1v22h-1zM1328 522h5v8h-5z"/>
<path fill="#009b3b" d="M1338 499h1v33h-1zM1336 502h5v30h-5z"/>
<path fill="#009b3b" d="M1346 492h1v28h-1zM1344 498h5v5h-5z"/>
<path fill="#ff1b3b" d="M1354 492h1v16h-1zM1352 498h5v10h-5z"/>
<path fill="#009b3b" d="M1362 495h1v22h-1zM1360 497h5v13h-5z"/>
<path fill="#ff1b3b" d="M1370 496h1v13h-1zM1368 498h5v5h-5z"/>
<path fill="#009b3b" d="M1378 480h1v31h-1zM1376 496h5v8h-5z"/>
<path fill="#ff1b3b" d="M1386 490h1v15h-1zM1384 496h5v6h-5z"/>
<path fill="#009b3b" d="M1394 488h1v21h-1zM1392 494h5v8h-5z"/>
<path fill="#ff1b3b" d="M1402 486h1v4h-1zM1400 486h5v3h-5z"/>
<path fill="#ff1b3b" d="M1410 472h1v36h-1zM1408 488h5v17h-5z"/>
<path fill="#009b3b" d="M1418 472h1v38h-1zM1416 490h5v15h-5z"/>
<path fill="#ff1b3b" d="M1426 476h1v27h-1zM1424 489h5v9h-5z"/>
<path fill="#ff1b3b" d="M1434 494h1v21h-1zM1432 496h5v19h-5z"/>
<path fill="#009b3b" d="M1442 463h1v55h-1zM1440 473h5v40h-5z"/>
<path fill="#ff1b3b" d="M1450 484h1v45h-1zM1448 490h5v26h-5z"/>
<path fill="#ff1b3b" d="M1458 510h1v19h-1zM1456 517h5v3h-5z"/>
<path fill="#009b3b" d="M1466 422h1v104h-1zM1464 434h5v86h-5z"/>
<path fill="#ff1b3b" d="M1474 421h1v45h-1zM1472 434h5v26h-5z"/>
<path fill="#009b3b" d="M1482 425h1v46h-1zM1480 434h5v23h-5z"/>
<path fill="#009b3b" d="M1490 397h1v42h-1zM1488 405h5v32h-5z"/>
<path fill="#009b3b" d="M1498 379h1v31h-1zM1496 398h5v7h-5z"/>
<path fill="#009b3b" d="M1506 361h1v46h-1zM1504 370h5v26h-5z"/>
<path fill="#009b3b" d="M1514 325h1v49h-1zM1512 340h5v33h-5z"/>
<path fill="#ff1b3b" d="M1522 331h1v34h-1zM1520 338h5v13h-5z"/>
<path fill="#ff1b3b" d="M1530 345h1v44h-1zM1528 356h5v33h-5z"/>
<path fill="#ff1b3b" d="M1538 374h1v30h-1zM1536 388h5v8h-5z"/>
<path fill="#009b3b" d="M1546 362h1v33h-1zM1544 377h5v13h-5z"/>
<path fill="#009b3b" d="M1554 357h1v33h-1zM1552 362h5v16h-5z"/>
<path fill="#009b3b" d="M1562 297h1v72h-1zM1560 309h5v55h-5z"/>
<path fill="#ff1b3b" d="M1570 325h1v47h-1zM1568 332h5v36h-5z"/>
<path fill="#009b3b" d="M1578 340h1v36h-1zM1576 363h5v4h-5z"/>
<path fill="#ff1b3b" d="M1586 358h1v47h-1zM1584 363h5v35h-5z"/>
<path fill="#009b3b" d="M1594 371h1v29h-1zM1592 388h5v12h-5z"/>
<path fill="#ff1b3b" d="M1602 385h1v23h-1zM1600 390h5v12h-5z"/>
<path fill="#009b3b" d="M1610 344h1v62h-1zM1608 363h5v43h-5z"/>
<path fill="#009b3b" d="M1618 344h1v36h-1zM1616 364h5v1h-5z"/>
<path fill="#ff1b3b" d="M1626 350h1v37h-1zM1624 364h5v15h-5z"/>
<path fill="#ff1b3b" d="M1634 368h1v50h-1zM1632 378h5v40h-5z"/>
<path fill="#009b3b" d="M1642 406h1v43h-1zM1640 415h5v6h-5z"/>
<path fill="#009b3b" d="M1650 401h1v32h-1zM1648 413h5v3h-5z"/>
<path fill="#009b3b" d="M1658 382h1v42h-1zM1656 394h5v20h-5z"/>
<path fill="#009b3b" d="M1666 367h1v32h-1zM1664 381h5v17h-5z"/>
<path fill="#009b3b" d="M1674 318h1v71h-1zM1672 326h5v58h-5z"/>
<path fill="#009b3b" d="M1682 310h1v20h-1zM1680 311h5v18h-5z"/>
</g>
<polyline points="3.0,379.8 18.0,380.2 34.0,382.2 50.0,384.8 66.0,386.8 84.0,389.2 108.0,390.8 140.0,390.8 180.0,390.4 210.0,389.6 250.0,388.8 266.0,387.8 280.0,384.8 300.0,380.8 320.0,375.8 340.0,371.9 360.0,367.9 380.0,363.9 400.0,361.2 420.0,357.6 460.0,351.6 500.0,346.6 540.0,342.0 560.0,340.2 600.0,338.6 620.0,338.2 660.0,339.6 700.0,341.6 740.0,344.0 780.0,347.2 800.0,348.0 830.0,349.4 870.0,350.4 905.8,352.8 919.4,357.0 929.7,359.3 939.3,360.0 959.3,363.0 969.6,365.7 999.6,368.7 1019.5,372.7 1049.5,377.7 1089.4,382.7 1100.0,383.5 1129.3,387.7 1169.2,391.7 1179.8,392.7 1219.8,394.7 1273.7,394.7 1307.6,393.3 1339.5,392.1 1379.4,392.7 1395.4,392.1 1520.0,391.3 1563.7,390.3 1659.5,389.7 1682.4,388.7" fill="none" stroke="#941be8" stroke-width="2" stroke-linejoin="round" />
<polyline points="3.0,502.0 10.0,500.6 34.0,488.6 58.0,474.7 84.0,462.7 108.0,447.7 130.0,436.7 140.0,428.7 160.0,417.8 180.0,406.8 200.0,393.8 220.0,380.8 244.0,362.9 252.0,358.9 268.0,347.9 284.0,336.9 300.0,326.9 316.0,320.0 332.0,312.0 347.3,302.7 363.3,294.7 375.2,286.7 387.2,279.7 403.2,272.7 416.0,267.8 434.0,259.8 452.0,251.8 468.0,243.8 486.0,235.8 502.0,227.8 518.0,219.9 530.0,213.9 540.0,211.9 550.0,210.9 562.0,210.9 574.0,213.5 588.0,216.3 604.0,218.9 624.0,221.3 640.0,224.9 652.0,228.8 660.0,232.2 676.0,236.8 690.0,241.8 704.0,245.4 720.0,247.8 736.0,250.8 752.0,254.8 768.0,258.8 780.0,261.8 794.0,265.2 808.0,268.9 826.0,275.9 844.0,281.3 860.0,284.9 876.0,291.3 894.0,300.3 910.0,311.8 926.0,327.8 938.0,339.8 954.0,349.8 970.0,356.7 985.6,362.7 999.6,370.7 1015.6,382.7 1031.5,393.7 1047.5,404.7 1063.5,415.6 1079.4,425.6 1093.4,436.6 1105.4,447.6 1117.4,458.5 1139.3,480.0 1157.3,494.0 1175.2,509.9 1191.2,522.9 1210.0,535.8 1230.0,550.8 1250.0,565.8 1270.0,577.8 1286.0,585.7 1302.0,590.7 1320.0,590.7 1334.0,587.3 1369.6,587.3 1379.6,589.1 1393.6,589.1 1409.6,586.7 1429.5,581.8 1449.5,575.4 1469.4,567.8 1489.4,558.8 1501.4,551.8 1517.3,539.8 1533.3,529.9 1549.3,521.9 1561.3,511.9 1579.2,499.9 1595.2,490.9 1610.0,481.0 1615.6,477.6 1629.5,467.6 1643.5,460.6 1659.5,451.6 1673.5,444.6 1682.4,439.6" fill="none" stroke="#ffbe3b" stroke-width="2" stroke-linejoin="round" />
<polyline points="3.0,415.8 18.0,405.8 34.0,399.2 46.0,396.8 58.0,396.2 66.0,399.2 76.0,401.8 90.0,401.8 108.0,399.8 120.0,396.2 131.0,393.8 140.0,387.8 156.0,374.9 174.0,359.9 194.0,345.9 202.0,336.9 209.6,326.6 216.0,319.0 223.6,310.6 234.5,301.0 239.5,293.7 257.5,274.7 271.5,259.7 289.4,239.4 303.4,232.8 319.4,223.8 335.3,216.2 347.3,211.4 355.3,206.8 367.3,202.9 377.2,196.9 387.2,192.9 399.2,191.5 409.2,190.5 412.0,190.9 426.0,192.9 436.0,196.9 450.0,199.9 464.0,203.5 480.0,204.3 500.0,204.3 512.0,203.5 526.0,203.9 540.0,206.5 552.0,208.9 562.0,211.9 574.0,220.9 586.0,229.8 600.0,235.8 612.0,240.8 626.0,246.8 638.0,255.8 650.0,267.8 658.0,278.7 668.0,288.7 680.0,298.7 690.0,307.7 698.0,312.7 708.0,315.7 718.0,315.7 724.0,314.1 732.0,309.1 740.0,307.3 748.0,303.7 760.0,302.9 774.0,302.7 786.0,300.7 798.0,298.7 802.0,296.9 812.0,293.9 824.0,294.9 836.0,297.5 850.0,299.3 860.0,304.9 874.0,314.8 888.0,323.8 900.0,335.8 910.0,347.8 918.0,361.7 924.0,373.7 930.0,385.7 944.0,405.6 958.0,421.6 970.0,437.6 985.6,449.6 995.6,458.5 1005.2,469.7 1011.2,481.7 1020.0,492.7 1025.5,500.0 1039.5,521.9 1051.5,541.9 1061.5,554.9 1067.5,560.8 1075.4,563.8 1089.4,563.8 1095.4,566.8 1111.4,581.8 1123.4,589.8 1135.3,597.8 1147.3,607.7 1161.3,619.7 1175.2,622.7 1191.2,623.7 1212.0,623.1 1222.0,619.3 1234.0,624.1 1244.0,626.1 1258.0,626.1 1274.0,618.3 1290.0,613.7 1302.0,609.7 1314.0,606.7 1330.0,595.7 1346.0,583.8 1362.0,572.8 1378.0,559.8 1394.0,543.8 1410.0,529.9 1425.5,518.9 1435.5,516.9 1447.5,509.9 1457.5,508.5 1469.4,500.9 1481.4,494.9 1487.8,489.0 1503.8,475.6 1519.8,461.6 1539.7,447.6 1553.7,436.6 1563.7,425.7 1579.6,413.7 1591.6,404.7 1603.6,397.7 1611.6,389.7 1619.6,382.8 1627.5,379.8 1635.5,378.4 1659.5,378.2 1673.5,377.8 1682.4,375.4" fill="none" stroke="#009bbb" stroke-width="2" stroke-linejoin="round" />
<g stroke="#001b3b" shape-rendering="crispEdges" stroke-dasharray="9 6 3 6">
<line x1="2" y1="169.5" x2="2037" y2="169.5" stroke-width="1"/>
<line x1="2" y1="211.5" x2="2037" y2="211.5" stroke-width="1"/>
<line x1="2" y1="243.5" x2="2037" y2="243.5" stroke-width="1"/>
<line x1="2" y1="302.5" x2="2037" y2="302.5" stroke-width="1"/>
<line x1="2" y1="336.5" x2="2037" y2="336.5" stroke-width="1"/>
<line x1="2" y1="374.5" x2="2037" y2="374.5" stroke-width="1"/>
<line x1="2" y1="470.5" x2="2037" y2="470.5" stroke-width="1"/>
<line x1="2" y1="437" x2="2037" y2="437" stroke-width="2"/>
</g>
<g shape-rendering="crispEdges" fill="#87d5d0">
<rect x="378" y="118" width="1659" height="1"/>
<rect x="378" y="240" width="1659" height="1"/>
<rect x="378" y="336" width="1659" height="1"/>
<rect x="378" y="404" width="1659" height="1"/>
<rect x="378" y="471" width="1659" height="1"/>
<rect x="378" y="555" width="1659" height="1"/>
<rect x="378" y="690" width="1659" height="1"/>
</g>
<line x1="378.5" y1="118.5" x2="1114.5" y2="690" stroke="#a8c7d3" stroke-width="1" opacity="0.6"/>
<path shape-rendering="crispEdges" fill="#001b3b" d="M1121 588h1v1h-1zM1122 587h1v1h-1zM1123 586h2v1h-2zM1125 585h1v1h-1zM1126 584h2v1h-2zM1128 583h2v1h-2zM1130 582h1v1h-1zM1131 581h2v1h-2zM1133 580h1v1h-1zM1134 579h2v1h-2zM1136 578h1v1h-1zM1137 577h2v1h-2zM1139 576h1v1h-1zM1140 575h2v1h-2zM1142 574h1v1h-1zM1143 573h2v1h-2zM1145 572h1v1h-1zM1146 571h2v1h-2zM1148 570h1v1h-1zM1149 569h2v1h-2zM1151 568h1v1h-1zM1152 567h2v1h-2zM1154 566h1v1h-1zM1155 565h2v1h-2zM1157 564h1v1h-1zM1158 563h2v1h-2zM1160 562h2v1h-2zM1162 561h1v1h-1zM1163 560h2v1h-2zM1165 559h1v1h-1zM1166 558h2v1h-2zM1168 557h1v1h-1zM1169 556h2v1h-2zM1171 555h1v1h-1zM1172 554h2v1h-2zM1174 553h1v1h-1zM1175 552h2v1h-2zM1177 551h1v1h-1zM1178 550h2v1h-2zM1180 549h1v1h-1zM1181 548h2v1h-2zM1183 547h1v1h-1zM1184 546h2v1h-2zM1186 545h1v1h-1zM1187 544h2v1h-2zM1189 543h1v1h-1zM1190 542h2v1h-2zM1192 541h1v1h-1zM1193 540h2v1h-2zM1195 539h2v1h-2zM1197 538h1v1h-1zM1198 537h2v1h-2zM1200 536h1v1h-1zM1201 535h2v1h-2zM1203 534h1v1h-1zM1204 533h2v1h-2zM1206 532h1v1h-1zM1207 531h2v1h-2zM1209 530h1v1h-1zM1210 529h2v1h-2zM1212 528h1v1h-1zM1213 527h2v1h-2zM1215 526h1v1h-1zM1216 525h2v1h-2zM1218 524h1v1h-1zM1219 523h2v1h-2zM1221 522h1v1h-1zM1222 521h2v1h-2zM1224 520h1v1h-1zM1225 519h2v1h-2zM1227 518h2v1h-2zM1229 517h1v1h-1zM1230 516h2v1h-2zM1232 515h1v1h-1zM1233 514h2v1h-2zM1235 513h1v1h-1zM1236 512h2v1h-2zM1238 511h1v1h-1zM1239 510h2v1h-2zM1241 509h1v1h-1zM1242 508h2v1h-2zM1244 507h1v1h-1zM1245 506h2v1h-2zM1247 505h1v1h-1zM1248 504h2v1h-2zM1250 503h1v1h-1zM1251 502h2v1h-2zM1253 501h1v1h-1zM1254 500h2v1h-2zM1256 499h1v1h-1zM1257 498h2v1h-2zM1259 497h2v1h-2zM1261 496h1v1h-1zM1262 495h2v1h-2zM1264 494h1v1h-1zM1265 493h2v1h-2zM1267 492h1v1h-1zM1268 491h2v1h-2zM1270 490h1v1h-1zM1271 489h2v1h-2zM1273 488h1v1h-1zM1274 487h2v1h-2zM1276 486h1v1h-1zM1277 485h2v1h-2zM1279 484h1v1h-1zM1280 483h2v1h-2zM1282 482h1v1h-1zM1283 481h2v1h-2zM1285 480h1v1h-1zM1286 479h2v1h-2zM1288 478h1v1h-1zM1289 477h2v1h-2zM1291 476h2v1h-2zM1293 475h1v1h-1zM1294 474h2v1h-2zM1296 473h1v1h-1zM1297 472h2v1h-2zM1299 471h1v1h-1zM1300 470h2v1h-2zM1302 469h1v1h-1zM1303 468h2v1h-2zM1305 467h1v1h-1zM1306 466h2v1h-2zM1308 465h1v1h-1zM1309 464h2v1h-2zM1311 463h1v1h-1zM1312 462h2v1h-2zM1314 461h1v1h-1zM1315 460h2v1h-2zM1317 459h1v1h-1zM1318 458h2v1h-2zM1320 457h1v1h-1zM1321 456h2v1h-2zM1323 455h1v1h-1zM1324 454h2v1h-2zM1326 453h2v1h-2zM1328 452h1v1h-1zM1329 451h2v1h-2zM1331 450h1v1h-1zM1332 449h2v1h-2zM1334 448h1v1h-1zM1335 447h2v1h-2zM1337 446h1v1h-1zM1338 445h2v1h-2zM1340 444h1v1h-1zM1341 443h2v1h-2zM1343 442h1v1h-1zM1344 441h2v1h-2zM1346 440h1v1h-1zM1347 439h2v1h-2zM1349 438h1v1h-1zM1350 437h2v1h-2zM1352 436h1v1h-1zM1353 435h2v1h-2zM1355 434h1v1h-1zM1356 433h2v1h-2zM1358 432h2v1h-2zM1360 431h1v1h-1zM1361 430h2v1h-2zM1363 429h1v1h-1zM1364 428h2v1h-2zM1366 427h1v1h-1zM1367 426h2v1h-2zM1369 425h1v1h-1zM1370 424h2v1h-2zM1372 423h1v1h-1zM1373 422h2v1h-2zM1375 421h1v1h-1zM1376 420h2v1h-2zM1378 419h1v1h-1zM1379 418h2v1h-2zM1381 417h1v1h-1zM1382 416h2v1h-2zM1384 415h1v1h-1zM1385 414h2v1h-2zM1387 413h1v1h-1zM1388 412h2v1h-2zM1390 411h2v1h-2zM1392 410h1v1h-1zM1393 409h2v1h-2zM1395 408h1v1h-1zM1396 407h2v1h-2zM1398 406h1v1h-1zM1399 405h2v1h-2zM1401 404h1v1h-1zM1402 403h2v1h-2zM1404 402h1v1h-1zM1405 401h2v1h-2zM1407 400h1v1h-1zM1408 399h2v1h-2zM1410 398h1v1h-1zM1411 397h2v1h-2zM1413 396h1v1h-1zM1414 395h2v1h-2zM1416 394h1v1h-1zM1417 393h2v1h-2zM1419 392h1v1h-1zM1420 391h2v1h-2zM1422 390h2v1h-2zM1424 389h1v1h-1zM1425 388h2v1h-2zM1427 387h1v1h-1zM1428 386h2v1h-2zM1430 385h1v1h-1zM1431 384h2v1h-2zM1433 383h1v1h-1zM1434 382h2v1h-2zM1436 381h1v1h-1zM1437 380h2v1h-2zM1439 379h1v1h-1zM1440 378h2v1h-2zM1442 377h1v1h-1zM1443 376h2v1h-2zM1445 375h1v1h-1zM1446 374h2v1h-2zM1448 373h1v1h-1zM1449 372h2v1h-2zM1451 371h1v1h-1zM1452 370h2v1h-2zM1454 369h1v1h-1zM1455 368h2v1h-2zM1457 367h2v1h-2zM1459 366h1v1h-1zM1460 365h2v1h-2zM1462 364h1v1h-1zM1463 363h2v1h-2zM1465 362h1v1h-1zM1466 361h2v1h-2zM1468 360h1v1h-1zM1469 359h2v1h-2zM1471 358h1v1h-1zM1472 357h2v1h-2zM1474 356h1v1h-1zM1475 355h2v1h-2zM1477 354h1v1h-1zM1478 353h2v1h-2zM1480 352h1v1h-1zM1481 351h2v1h-2zM1483 350h1v1h-1zM1484 349h2v1h-2zM1486 348h1v1h-1zM1487 347h2v1h-2zM1489 346h2v1h-2zM1491 345h1v1h-1zM1492 344h2v1h-2zM1494 343h1v1h-1zM1495 342h2v1h-2zM1497 341h1v1h-1zM1498 340h2v1h-2zM1500 339h1v1h-1zM1501 338h2v1h-2zM1503 337h1v1h-1zM1504 336h2v1h-2zM1506 335h1v1h-1zM1507 334h2v1h-2zM1509 333h1v1h-1zM1510 332h2v1h-2zM1512 331h1v1h-1zM1513 330h2v1h-2zM1515 329h1v1h-1zM1516 328h2v1h-2zM1518 327h1v1h-1zM1519 326h2v1h-2zM1521 325h2v1h-2zM1523 324h1v1h-1zM1524 323h2v1h-2zM1526 322h1v1h-1zM1527 321h2v1h-2zM1529 320h1v1h-1zM1530 319h2v1h-2zM1532 318h1v1h-1zM1533 317h2v1h-2zM1535 316h1v1h-1zM1536 315h2v1h-2zM1538 314h1v1h-1zM1539 313h2v1h-2zM1541 312h1v1h-1zM1542 311h2v1h-2zM1544 310h1v1h-1zM1545 309h2v1h-2zM1547 308h1v1h-1zM1548 307h2v1h-2zM1550 306h1v1h-1zM1551 305h2v1h-2zM1553 304h2v1h-2zM1555 303h1v1h-1zM1556 302h2v1h-2zM1558 301h1v1h-1zM1559 300h2v1h-2zM1561 299h1v1h-1zM1562 298h2v1h-2zM1564 297h1v1h-1zM1565 296h2v1h-2zM1567 295h1v1h-1zM1568 294h2v1h-2zM1570 293h1v1h-1zM1571 292h2v1h-2zM1573 291h1v1h-1zM1574 290h2v1h-2zM1576 289h1v1h-1zM1577 288h2v1h-2zM1579 287h1v1h-1zM1580 286h2v1h-2zM1582 285h1v1h-1zM1583 284h2v1h-2zM1585 283h2v1h-2zM1587 282h1v1h-1zM1588 281h2v1h-2zM1590 280h1v1h-1zM1591 279h2v1h-2zM1593 278h1v1h-1zM1594 277h2v1h-2zM1596 276h1v1h-1zM1597 275h2v1h-2zM1599 274h1v1h-1zM1600 273h2v1h-2zM1602 272h1v1h-1zM1603 271h2v1h-2zM1605 270h1v1h-1zM1606 269h2v1h-2zM1608 268h1v1h-1zM1609 267h2v1h-2zM1611 266h1v1h-1zM1612 265h2v1h-2zM1614 264h1v1h-1zM1615 263h2v1h-2zM1617 262h1v1h-1zM1618 261h2v1h-2zM1620 260h2v1h-2zM1622 259h1v1h-1zM1623 258h2v1h-2zM1625 257h1v1h-1zM1626 256h2v1h-2zM1628 255h1v1h-1zM1629 254h2v1h-2zM1631 253h1v1h-1zM1632 252h2v1h-2zM1634 251h1v1h-1zM1635 250h2v1h-2zM1637 249h1v1h-1zM1638 248h2v1h-2zM1640 247h1v1h-1zM1641 246h2v1h-2zM1643 245h1v1h-1zM1644 244h2v1h-2zM1646 243h1v1h-1zM1647 242h2v1h-2zM1649 241h1v1h-1zM1650 240h2v1h-2zM1652 239h2v1h-2zM1654 238h1v1h-1zM1655 237h2v1h-2zM1657 236h1v1h-1zM1658 235h2v1h-2zM1660 234h1v1h-1zM1661 233h2v1h-2zM1663 232h1v1h-1zM1664 231h2v1h-2zM1666 230h1v1h-1zM1667 229h2v1h-2zM1669 228h1v1h-1zM1670 227h2v1h-2zM1672 226h1v1h-1zM1673 225h2v1h-2zM1675 224h1v1h-1zM1676 223h2v1h-2zM1678 222h1v1h-1zM1679 221h2v1h-2zM1681 220h1v1h-1zM1682 219h2v1h-2zM1684 218h2v1h-2zM1686 217h1v1h-1zM1687 216h2v1h-2zM1689 215h1v1h-1zM1690 214h2v1h-2zM1692 213h1v1h-1zM1693 212h2v1h-2zM1695 211h1v1h-1zM1696 210h2v1h-2zM1698 209h1v1h-1zM1699 208h2v1h-2zM1701 207h1v1h-1zM1702 206h2v1h-2zM1704 205h1v1h-1zM1705 204h2v1h-2zM1707 203h1v1h-1zM1708 202h2v1h-2zM1710 201h1v1h-1zM1711 200h2v1h-2zM1713 199h1v1h-1zM1714 198h1v1h-1zM1154 599h2v1h-2zM1156 598h2v1h-2zM1158 597h2v1h-2zM1160 596h1v1h-1zM1161 595h2v1h-2zM1163 594h2v1h-2zM1165 593h2v1h-2zM1167 592h2v1h-2zM1169 591h1v1h-1zM1170 590h2v1h-2zM1172 589h2v1h-2zM1174 588h2v1h-2zM1176 587h2v1h-2zM1178 586h1v1h-1zM1179 585h2v1h-2zM1181 584h2v1h-2zM1183 583h2v1h-2zM1185 582h1v1h-1zM1186 581h2v1h-2zM1188 580h2v1h-2zM1190 579h2v1h-2zM1192 578h2v1h-2zM1194 577h1v1h-1zM1195 576h2v1h-2zM1197 575h2v1h-2zM1199 574h2v1h-2zM1201 573h2v1h-2zM1203 572h1v1h-1zM1204 571h2v1h-2zM1206 570h2v1h-2zM1208 569h2v1h-2zM1210 568h1v1h-1zM1211 567h2v1h-2zM1213 566h2v1h-2zM1215 565h2v1h-2zM1217 564h2v1h-2zM1219 563h1v1h-1zM1220 562h2v1h-2zM1222 561h2v1h-2zM1224 560h2v1h-2zM1226 559h2v1h-2zM1228 558h1v1h-1zM1229 557h2v1h-2zM1231 556h2v1h-2zM1233 555h2v1h-2zM1235 554h2v1h-2zM1237 553h1v1h-1zM1238 552h2v1h-2zM1240 551h2v1h-2zM1242 550h2v1h-2zM1244 549h1v1h-1zM1245 548h2v1h-2zM1247 547h2v1h-2zM1249 546h2v1h-2zM1251 545h2v1h-2zM1253 544h1v1h-1zM1254 543h2v1h-2zM1256 542h2v1h-2zM1258 541h2v1h-2zM1260 540h2v1h-2zM1262 539h1v1h-1zM1263 538h2v1h-2zM1265 537h2v1h-2zM1267 536h2v1h-2zM1269 535h2v1h-2zM1271 534h1v1h-1zM1272 533h2v1h-2zM1274 532h2v1h-2zM1276 531h2v1h-2zM1278 530h1v1h-1zM1279 529h2v1h-2zM1281 528h2v1h-2zM1283 527h2v1h-2zM1285 526h2v1h-2zM1287 525h1v1h-1zM1288 524h2v1h-2zM1290 523h2v1h-2zM1292 522h2v1h-2zM1294 521h2v1h-2zM1296 520h1v1h-1zM1297 519h2v1h-2zM1299 518h2v1h-2zM1301 517h2v1h-2zM1303 516h2v1h-2zM1305 515h1v1h-1zM1306 514h2v1h-2zM1308 513h2v1h-2zM1310 512h2v1h-2zM1312 511h1v1h-1zM1313 510h2v1h-2zM1315 509h2v1h-2zM1317 508h2v1h-2zM1319 507h2v1h-2zM1321 506h1v1h-1zM1322 505h2v1h-2zM1324 504h2v1h-2zM1326 503h2v1h-2zM1328 502h2v1h-2zM1330 501h1v1h-1zM1331 500h2v1h-2zM1333 499h2v1h-2zM1335 498h2v1h-2zM1337 497h1v1h-1zM1338 496h2v1h-2zM1340 495h2v1h-2zM1342 494h2v1h-2zM1344 493h2v1h-2zM1346 492h1v1h-1zM1347 491h2v1h-2zM1349 490h2v1h-2zM1351 489h2v1h-2zM1353 488h2v1h-2zM1355 487h1v1h-1zM1356 486h2v1h-2zM1358 485h2v1h-2zM1360 484h2v1h-2zM1362 483h2v1h-2zM1364 482h1v1h-1zM1365 481h2v1h-2zM1367 480h2v1h-2zM1369 479h2v1h-2zM1371 478h1v1h-1zM1372 477h2v1h-2zM1374 476h2v1h-2zM1376 475h2v1h-2zM1378 474h2v1h-2zM1380 473h1v1h-1zM1381 472h2v1h-2zM1383 471h2v1h-2zM1385 470h2v1h-2zM1387 469h2v1h-2zM1389 468h1v1h-1zM1390 467h2v1h-2zM1392 466h2v1h-2zM1394 465h2v1h-2zM1396 464h2v1h-2zM1398 463h1v1h-1zM1399 462h2v1h-2zM1401 461h2v1h-2zM1403 460h2v1h-2zM1405 459h1v1h-1zM1406 458h2v1h-2zM1408 457h2v1h-2zM1410 456h2v1h-2zM1412 455h2v1h-2zM1414 454h1v1h-1zM1415 453h2v1h-2zM1417 452h2v1h-2zM1419 451h2v1h-2zM1421 450h2v1h-2zM1423 449h1v1h-1zM1424 448h2v1h-2zM1426 447h2v1h-2zM1428 446h2v1h-2zM1430 445h1v1h-1zM1431 444h2v1h-2zM1433 443h2v1h-2zM1435 442h2v1h-2zM1437 441h2v1h-2zM1439 440h1v1h-1zM1440 439h2v1h-2zM1442 438h2v1h-2zM1444 437h2v1h-2zM1446 436h2v1h-2zM1448 435h1v1h-1zM1449 434h2v1h-2zM1451 433h2v1h-2zM1453 432h2v1h-2zM1455 431h2v1h-2zM1457 430h1v1h-1zM1458 429h2v1h-2zM1460 428h2v1h-2zM1462 427h2v1h-2zM1464 426h1v1h-1zM1465 425h2v1h-2zM1467 424h2v1h-2zM1469 423h2v1h-2zM1471 422h2v1h-2zM1473 421h1v1h-1zM1474 420h2v1h-2zM1476 419h2v1h-2zM1478 418h2v1h-2zM1480 417h2v1h-2zM1482 416h1v1h-1zM1483 415h2v1h-2zM1485 414h2v1h-2zM1487 413h2v1h-2zM1489 412h2v1h-2zM1491 411h1v1h-1zM1492 410h2v1h-2zM1494 409h2v1h-2zM1496 408h2v1h-2zM1498 407h1v1h-1zM1499 406h2v1h-2zM1501 405h2v1h-2zM1503 404h2v1h-2zM1505 403h2v1h-2zM1507 402h1v1h-1zM1508 401h2v1h-2zM1510 400h2v1h-2zM1512 399h2v1h-2zM1514 398h2v1h-2zM1516 397h1v1h-1zM1517 396h2v1h-2zM1519 395h2v1h-2zM1521 394h2v1h-2zM1523 393h2v1h-2zM1525 392h1v1h-1zM1526 391h2v1h-2zM1528 390h2v1h-2zM1530 389h2v1h-2zM1532 388h1v1h-1zM1533 387h2v1h-2zM1535 386h2v1h-2zM1537 385h2v1h-2zM1539 384h2v1h-2zM1541 383h1v1h-1zM1542 382h2v1h-2zM1544 381h2v1h-2zM1546 380h2v1h-2zM1548 379h2v1h-2zM1550 378h1v1h-1zM1551 377h2v1h-2zM1553 376h2v1h-2zM1555 375h2v1h-2zM1557 374h1v1h-1zM1558 373h2v1h-2zM1560 372h2v1h-2zM1562 371h2v1h-2zM1564 370h2v1h-2zM1566 369h1v1h-1zM1567 368h2v1h-2zM1569 367h2v1h-2zM1571 366h2v1h-2zM1573 365h2v1h-2zM1575 364h1v1h-1zM1576 363h2v1h-2zM1578 362h2v1h-2zM1580 361h2v1h-2zM1582 360h2v1h-2zM1584 359h1v1h-1zM1585 358h2v1h-2zM1587 357h2v1h-2zM1589 356h2v1h-2zM1591 355h1v1h-1zM1592 354h2v1h-2zM1594 353h2v1h-2zM1596 352h2v1h-2zM1598 351h2v1h-2zM1600 350h1v1h-1zM1601 349h2v1h-2zM1603 348h2v1h-2zM1605 347h2v1h-2zM1607 346h2v1h-2zM1609 345h1v1h-1zM1610 344h2v1h-2zM1612 343h2v1h-2zM1614 342h2v1h-2zM1616 341h2v1h-2zM1618 340h1v1h-1zM1619 339h2v1h-2zM1621 338h2v1h-2zM1623 337h2v1h-2zM1625 336h1v1h-1zM1626 335h2v1h-2zM1628 334h2v1h-2zM1630 333h2v1h-2zM1632 332h2v1h-2zM1634 331h1v1h-1zM1635 330h2v1h-2zM1637 329h2v1h-2zM1639 328h2v1h-2zM1641 327h2v1h-2zM1643 326h1v1h-1zM1644 325h2v1h-2zM1646 324h2v1h-2zM1648 323h2v1h-2zM1650 322h1v1h-1zM1651 321h2v1h-2zM1653 320h2v1h-2zM1655 319h2v1h-2zM1657 318h2v1h-2zM1659 317h1v1h-1zM1660 316h2v1h-2zM1662 315h2v1h-2zM1664 314h2v1h-2zM1666 313h2v1h-2zM1668 312h1v1h-1zM1669 311h2v1h-2zM1671 310h2v1h-2zM1673 309h2v1h-2zM1675 308h2v1h-2zM1677 307h1v1h-1zM1678 306h2v1h-2zM1680 305h2v1h-2zM1682 304h2v1h-2zM1684 303h1v1h-1zM1685 302h2v1h-2zM1687 301h2v1h-2zM1689 300h2v1h-2zM1691 299h2v1h-2zM1693 298h1v1h-1zM1694 297h2v1h-2zM1696 296h2v1h-2zM1698 295h2v1h-2zM1700 294h2v1h-2zM1702 293h1v1h-1zM1703 292h2v1h-2zM1705 291h2v1h-2zM1707 290h2v1h-2zM1709 289h2v1h-2zM1711 288h1v1h-1zM1712 287h2v1h-2zM1714 286h2v1h-2zM1716 285h2v1h-2zM1718 284h1v1h-1zM1719 283h2v1h-2zM1721 282h2v1h-2zM1723 281h2v1h-2zM1725 280h2v1h-2zM1727 279h1v1h-1zM1728 278h2v1h-2zM1730 277h2v1h-2zM1732 276h2v1h-2zM1734 275h2v1h-2zM1736 274h1v1h-1zM1737 273h2v1h-2zM1739 272h2v1h-2zM1741 271h2v1h-2zM1743 270h1v1h-1zM1744 269h2v1h-2zM1746 268h2v1h-2zM1748 267h2v1h-2zM1750 266h2v1h-2zM1752 265h1v1h-1zM1753 264h2v1h-2zM1755 263h2v1h-2zM1757 262h2v1h-2zM1759 261h2v1h-2zM1761 260h1v1h-1zM1762 259h2v1h-2zM1764 258h2v1h-2zM1766 257h2v1h-2zM1768 256h2v1h-2zM1770 255h1v1h-1zM1771 254h2v1h-2zM1773 253h2v1h-2zM1775 252h2v1h-2zM1777 251h1v1h-1zM1778 250h1v1h-1zM1194 605h1v1h-1zM1195 604h1v1h-1zM1196 603h1v1h-1zM1197 602h1v1h-1zM1198 601h1v1h-1zM1199 600h2v1h-2zM1201 599h1v1h-1zM1202 598h1v1h-1zM1203 597h1v1h-1zM1204 596h1v1h-1zM1205 595h1v1h-1zM1206 594h2v1h-2zM1208 593h1v1h-1zM1209 592h1v1h-1zM1210 591h1v1h-1zM1211 590h1v1h-1zM1212 589h1v1h-1zM1213 588h2v1h-2zM1215 587h1v1h-1zM1216 586h1v1h-1zM1217 585h1v1h-1zM1218 584h1v1h-1zM1219 583h1v1h-1zM1220 582h1v1h-1zM1221 581h2v1h-2zM1223 580h1v1h-1zM1224 579h1v1h-1zM1225 578h1v1h-1zM1226 577h1v1h-1zM1227 576h1v1h-1zM1228 575h2v1h-2zM1230 574h1v1h-1zM1231 573h1v1h-1zM1232 572h1v1h-1zM1233 571h1v1h-1zM1234 570h1v1h-1zM1235 569h2v1h-2zM1237 568h1v1h-1zM1238 567h1v1h-1zM1239 566h1v1h-1zM1240 565h1v1h-1zM1241 564h1v1h-1zM1242 563h1v1h-1zM1243 562h2v1h-2zM1245 561h1v1h-1zM1246 560h1v1h-1zM1247 559h1v1h-1zM1248 558h1v1h-1zM1249 557h1v1h-1zM1250 556h2v1h-2zM1252 555h1v1h-1zM1253 554h1v1h-1zM1254 553h1v1h-1zM1255 552h1v1h-1zM1256 551h1v1h-1zM1257 550h2v1h-2zM1259 549h1v1h-1zM1260 548h1v1h-1zM1261 547h1v1h-1zM1262 546h1v1h-1zM1263 545h1v1h-1zM1264 544h1v1h-1zM1265 543h2v1h-2zM1267 542h1v1h-1zM1268 541h1v1h-1zM1269 540h1v1h-1zM1270 539h1v1h-1zM1271 538h1v1h-1zM1272 537h2v1h-2zM1274 536h1v1h-1zM1275 535h1v1h-1zM1276 534h1v1h-1zM1277 533h1v1h-1zM1278 532h1v1h-1zM1279 531h2v1h-2zM1281 530h1v1h-1zM1282 529h1v1h-1zM1283 528h1v1h-1zM1284 527h1v1h-1zM1285 526h1v1h-1zM1286 525h1v1h-1zM1287 524h2v1h-2zM1289 523h1v1h-1zM1290 522h1v1h-1zM1291 521h1v1h-1zM1292 520h1v1h-1zM1293 519h1v1h-1zM1294 518h2v1h-2zM1296 517h1v1h-1zM1297 516h1v1h-1zM1298 515h1v1h-1zM1299 514h1v1h-1zM1300 513h1v1h-1zM1301 512h2v1h-2zM1303 511h1v1h-1zM1304 510h1v1h-1zM1305 509h1v1h-1zM1306 508h1v1h-1zM1307 507h1v1h-1zM1308 506h1v1h-1zM1309 505h2v1h-2zM1311 504h1v1h-1zM1312 503h1v1h-1zM1313 502h1v1h-1zM1314 501h1v1h-1zM1315 500h1v1h-1zM1316 499h2v1h-2zM1318 498h1v1h-1zM1319 497h1v1h-1zM1320 496h1v1h-1zM1321 495h1v1h-1zM1322 494h1v1h-1zM1323 493h2v1h-2zM1325 492h1v1h-1zM1326 491h1v1h-1zM1327 490h1v1h-1zM1328 489h1v1h-1zM1329 488h1v1h-1zM1330 487h1v1h-1zM1331 486h2v1h-2zM1333 485h1v1h-1zM1334 484h1v1h-1zM1335 483h1v1h-1zM1336 482h1v1h-1zM1337 481h1v1h-1zM1338 480h2v1h-2zM1340 479h1v1h-1zM1341 478h1v1h-1zM1342 477h1v1h-1zM1343 476h1v1h-1zM1344 475h1v1h-1zM1345 474h2v1h-2zM1347 473h1v1h-1zM1348 472h1v1h-1zM1349 471h1v1h-1zM1350 470h1v1h-1zM1351 469h1v1h-1zM1352 468h1v1h-1zM1353 467h2v1h-2zM1355 466h1v1h-1zM1356 465h1v1h-1zM1357 464h1v1h-1zM1358 463h1v1h-1zM1359 462h1v1h-1zM1360 461h2v1h-2zM1362 460h1v1h-1zM1363 459h1v1h-1zM1364 458h1v1h-1zM1365 457h1v1h-1zM1366 456h1v1h-1zM1367 455h2v1h-2zM1369 454h1v1h-1zM1370 453h1v1h-1zM1371 452h1v1h-1zM1372 451h1v1h-1zM1373 450h1v1h-1zM1374 449h1v1h-1zM1375 448h2v1h-2zM1377 447h1v1h-1zM1378 446h1v1h-1zM1379 445h1v1h-1zM1380 444h1v1h-1zM1381 443h1v1h-1zM1382 442h2v1h-2zM1384 441h1v1h-1zM1385 440h1v1h-1zM1386 439h1v1h-1zM1387 438h1v1h-1zM1388 437h1v1h-1zM1389 436h2v1h-2zM1391 435h1v1h-1zM1392 434h1v1h-1zM1393 433h1v1h-1zM1394 432h1v1h-1zM1395 431h1v1h-1zM1396 430h1v1h-1zM1397 429h2v1h-2zM1399 428h1v1h-1zM1400 427h1v1h-1zM1401 426h1v1h-1zM1402 425h1v1h-1zM1403 424h1v1h-1zM1404 423h2v1h-2zM1406 422h1v1h-1zM1407 421h1v1h-1zM1408 420h1v1h-1zM1409 419h1v1h-1zM1410 418h1v1h-1zM1411 417h2v1h-2zM1413 416h1v1h-1zM1414 415h1v1h-1zM1415 414h1v1h-1zM1416 413h1v1h-1zM1417 412h1v1h-1zM1418 411h1v1h-1zM1419 410h2v1h-2zM1421 409h1v1h-1zM1422 408h1v1h-1zM1423 407h1v1h-1zM1424 406h1v1h-1zM1425 405h1v1h-1zM1426 404h2v1h-2zM1428 403h1v1h-1zM1429 402h1v1h-1zM1430 401h1v1h-1zM1431 400h1v1h-1zM1432 399h1v1h-1zM1433 398h2v1h-2zM1435 397h1v1h-1zM1436 396h1v1h-1zM1437 395h1v1h-1zM1438 394h1v1h-1zM1439 393h1v1h-1zM1440 392h1v1h-1zM1441 391h2v1h-2zM1443 390h1v1h-1zM1444 389h1v1h-1zM1445 388h1v1h-1zM1446 387h1v1h-1zM1447 386h1v1h-1zM1448 385h2v1h-2zM1450 384h1v1h-1zM1451 383h1v1h-1zM1452 382h1v1h-1zM1453 381h1v1h-1zM1454 380h1v1h-1zM1455 379h2v1h-2zM1457 378h1v1h-1zM1458 377h1v1h-1zM1459 376h1v1h-1zM1460 375h1v1h-1zM1461 374h1v1h-1zM1462 373h1v1h-1zM1463 372h2v1h-2zM1465 371h1v1h-1zM1466 370h1v1h-1zM1467 369h1v1h-1zM1468 368h1v1h-1zM1469 367h1v1h-1zM1470 366h2v1h-2zM1472 365h1v1h-1zM1473 364h1v1h-1zM1474 363h1v1h-1zM1475 362h1v1h-1zM1476 361h1v1h-1zM1477 360h2v1h-2zM1479 359h1v1h-1zM1480 358h1v1h-1zM1481 357h1v1h-1zM1482 356h1v1h-1zM1483 355h1v1h-1zM1484 354h1v1h-1zM1485 353h2v1h-2zM1487 352h1v1h-1zM1488 351h1v1h-1zM1489 350h1v1h-1zM1490 349h1v1h-1zM1491 348h1v1h-1zM1492 347h2v1h-2zM1494 346h1v1h-1zM1495 345h1v1h-1zM1496 344h1v1h-1zM1497 343h1v1h-1zM1498 342h1v1h-1zM1499 341h2v1h-2zM1501 340h1v1h-1zM1502 339h1v1h-1zM1503 338h1v1h-1zM1504 337h1v1h-1zM1505 336h1v1h-1zM1506 335h1v1h-1zM1507 334h2v1h-2zM1509 333h1v1h-1zM1510 332h1v1h-1zM1511 331h1v1h-1zM1512 330h1v1h-1zM1513 329h1v1h-1zM1514 328h2v1h-2zM1516 327h1v1h-1zM1517 326h1v1h-1zM1518 325h1v1h-1zM1519 324h1v1h-1zM1520 323h1v1h-1zM1521 322h2v1h-2zM1523 321h1v1h-1zM1524 320h1v1h-1zM1525 319h1v1h-1zM1526 318h1v1h-1zM1527 317h1v1h-1zM1528 316h1v1h-1zM1529 315h2v1h-2zM1531 314h1v1h-1zM1532 313h1v1h-1zM1533 312h1v1h-1zM1534 311h1v1h-1zM1535 310h1v1h-1zM1536 309h2v1h-2zM1538 308h1v1h-1zM1539 307h1v1h-1zM1540 306h1v1h-1zM1541 305h1v1h-1zM1542 304h1v1h-1zM1543 303h2v1h-2zM1545 302h1v1h-1zM1546 301h1v1h-1zM1547 300h1v1h-1zM1548 299h1v1h-1zM1549 298h1v1h-1zM1550 297h1v1h-1zM1551 296h2v1h-2zM1553 295h1v1h-1zM1554 294h1v1h-1zM1555 293h1v1h-1zM1556 292h1v1h-1zM1557 291h1v1h-1zM1558 290h2v1h-2zM1560 289h1v1h-1zM1561 288h1v1h-1zM1562 287h1v1h-1zM1563 286h1v1h-1zM1564 285h1v1h-1zM1565 284h2v1h-2zM1567 283h1v1h-1zM1568 282h1v1h-1zM1569 281h1v1h-1zM1570 280h1v1h-1zM1571 279h1v1h-1zM1572 278h1v1h-1zM1573 277h2v1h-2zM1575 276h1v1h-1zM1576 275h1v1h-1zM1577 274h1v1h-1zM1578 273h1v1h-1zM1579 272h1v1h-1zM1580 271h2v1h-2zM1582 270h1v1h-1zM1583 269h1v1h-1zM1584 268h1v1h-1zM1585 267h1v1h-1zM1586 266h1v1h-1zM1587 265h2v1h-2zM1589 264h1v1h-1zM1590 263h1v1h-1zM1591 262h1v1h-1zM1592 261h1v1h-1zM1593 260h1v1h-1zM1594 259h1v1h-1zM1595 258h2v1h-2zM1597 257h1v1h-1zM1598 256h1v1h-1zM1599 255h1v1h-1zM1600 254h1v1h-1zM1601 253h1v1h-1zM1602 252h2v1h-2zM1604 251h1v1h-1zM1605 250h1v1h-1zM1606 249h1v1h-1zM1607 248h1v1h-1zM1608 247h1v1h-1zM1609 246h2v1h-2zM1611 245h1v1h-1zM1612 244h1v1h-1zM1613 243h1v1h-1zM1614 242h1v1h-1zM1615 241h1v1h-1zM1616 240h1v1h-1zM1617 239h2v1h-2zM1619 238h1v1h-1zM1620 237h1v1h-1zM1621 236h1v1h-1zM1622 235h1v1h-1zM1623 234h1v1h-1zM1624 233h2v1h-2zM1626 232h1v1h-1zM1627 231h1v1h-1zM1628 230h1v1h-1zM1629 229h1v1h-1zM1630 228h1v1h-1zM1631 227h2v1h-2zM1633 226h1v1h-1zM1634 225h1v1h-1zM1635 224h1v1h-1zM1636 223h1v1h-1zM1637 222h1v1h-1zM1638 221h1v1h-1zM1639 220h2v1h-2zM1641 219h1v1h-1zM1642 218h1v1h-1zM1643 217h1v1h-1zM1644 216h1v1h-1zM1645 215h1v1h-1zM1646 214h2v1h-2zM1648 213h1v1h-1zM1649 212h1v1h-1zM1650 211h1v1h-1zM1651 210h1v1h-1zM1652 209h1v1h-1zM1653 208h2v1h-2zM1655 207h1v1h-1zM1656 206h1v1h-1zM1657 205h1v1h-1zM1658 204h1v1h-1zM1659 203h1v1h-1zM1660 202h1v1h-1zM1661 201h2v1h-2zM1663 200h1v1h-1zM1664 199h1v1h-1zM1665 198h1v1h-1zM1666 197h1v1h-1zM1667 196h1v1h-1zM1668 195h2v1h-2zM1670 194h1v1h-1zM1671 193h1v1h-1zM1672 192h1v1h-1zM1673 191h1v1h-1zM1674 190h1v1h-1zM1675 189h2v1h-2zM1677 188h1v1h-1zM1678 187h1v1h-1zM1679 186h1v1h-1zM1680 185h1v1h-1zM1681 184h1v1h-1zM1682 183h1v1h-1zM1683 182h2v1h-2zM1685 181h1v1h-1zM1686 180h1v1h-1zM1687 179h1v1h-1zM1688 178h1v1h-1zM1689 177h1v1h-1zM1690 176h2v1h-2zM1692 175h1v1h-1zM1693 174h1v1h-1zM1694 173h1v1h-1zM1695 172h1v1h-1zM1696 171h1v1h-1zM1697 170h2v1h-2zM1699 169h1v1h-1zM1700 168h1v1h-1zM1701 167h1v1h-1zM1702 166h1v1h-1zM1703 165h1v1h-1zM1704 164h1v1h-1zM1705 163h2v1h-2zM1707 162h1v1h-1zM1708 161h1v1h-1zM1709 160h1v1h-1zM1710 159h1v1h-1zM1711 158h1v1h-1zM1712 157h2v1h-2zM1714 156h1v1h-1zM1715 155h1v1h-1zM1716 154h1v1h-1zM1717 153h1v1h-1zM1718 152h1v1h-1zM1719 151h2v1h-2zM1721 150h1v1h-1zM1722 149h1v1h-1zM1723 148h1v1h-1zM1724 147h1v1h-1zM1725 146h1v1h-1zM1726 145h1v1h-1zM1727 144h2v1h-2zM1729 143h1v1h-1zM1730 142h1v1h-1zM1731 141h1v1h-1zM1732 140h1v1h-1zM1733 139h1v1h-1zM1734 138h2v1h-2zM1736 137h1v1h-1zM1737 136h1v1h-1zM1738 135h1v1h-1zM1739 134h1v1h-1zM1740 133h1v1h-1zM1741 132h2v1h-2zM1743 131h1v1h-1zM1744 130h1v1h-1zM1745 129h1v1h-1zM1746 128h1v1h-1zM1747 127h1v1h-1zM1748 126h1v1h-1zM1749 125h2v1h-2zM1751 124h1v1h-1zM1752 123h1v1h-1zM1753 122h1v1h-1zM1754 121h1v1h-1zM1194 704h1v1h-1zM1195 703h2v1h-2zM1197 702h1v1h-1zM1198 701h2v1h-2zM1200 700h2v1h-2zM1202 699h1v1h-1zM1203 698h2v1h-2zM1205 697h1v1h-1zM1206 696h2v1h-2zM1208 695h1v1h-1zM1209 694h2v1h-2zM1211 693h1v1h-1zM1212 692h2v1h-2zM1214 691h1v1h-1zM1215 690h2v1h-2zM1217 689h1v1h-1zM1218 688h2v1h-2zM1220 687h2v1h-2zM1222 686h1v1h-1zM1223 685h2v1h-2zM1225 684h1v1h-1zM1226 683h2v1h-2zM1228 682h1v1h-1zM1229 681h2v1h-2zM1231 680h1v1h-1zM1232 679h2v1h-2zM1234 678h1v1h-1zM1235 677h2v1h-2zM1237 676h2v1h-2zM1239 675h1v1h-1zM1240 674h2v1h-2zM1242 673h1v1h-1zM1243 672h2v1h-2zM1245 671h1v1h-1zM1246 670h2v1h-2zM1248 669h1v1h-1zM1249 668h2v1h-2zM1251 667h1v1h-1zM1252 666h2v1h-2zM1254 665h1v1h-1zM1255 664h2v1h-2zM1257 663h2v1h-2zM1259 662h1v1h-1zM1260 661h2v1h-2zM1262 660h1v1h-1zM1263 659h2v1h-2zM1265 658h1v1h-1zM1266 657h2v1h-2zM1268 656h1v1h-1zM1269 655h2v1h-2zM1271 654h1v1h-1zM1272 653h2v1h-2zM1274 652h2v1h-2zM1276 651h1v1h-1zM1277 650h2v1h-2zM1279 649h1v1h-1zM1280 648h2v1h-2zM1282 647h1v1h-1zM1283 646h2v1h-2zM1285 645h1v1h-1zM1286 644h2v1h-2zM1288 643h1v1h-1zM1289 642h2v1h-2zM1291 641h1v1h-1zM1292 640h2v1h-2zM1294 639h2v1h-2zM1296 638h1v1h-1zM1297 637h2v1h-2zM1299 636h1v1h-1zM1300 635h2v1h-2zM1302 634h1v1h-1zM1303 633h2v1h-2zM1305 632h1v1h-1zM1306 631h2v1h-2zM1308 630h1v1h-1zM1309 629h2v1h-2zM1311 628h2v1h-2zM1313 627h1v1h-1zM1314 626h2v1h-2zM1316 625h1v1h-1zM1317 624h2v1h-2zM1319 623h1v1h-1zM1320 622h2v1h-2zM1322 621h1v1h-1zM1323 620h2v1h-2zM1325 619h1v1h-1zM1326 618h2v1h-2zM1328 617h1v1h-1zM1329 616h2v1h-2zM1331 615h2v1h-2zM1333 614h1v1h-1zM1334 613h2v1h-2zM1336 612h1v1h-1zM1337 611h2v1h-2zM1339 610h1v1h-1zM1340 609h2v1h-2zM1342 608h1v1h-1zM1343 607h2v1h-2zM1345 606h1v1h-1zM1346 605h2v1h-2zM1348 604h2v1h-2zM1350 603h1v1h-1zM1351 602h2v1h-2zM1353 601h1v1h-1zM1354 600h2v1h-2zM1356 599h1v1h-1zM1357 598h2v1h-2zM1359 597h1v1h-1zM1360 596h2v1h-2zM1362 595h1v1h-1zM1363 594h2v1h-2zM1365 593h1v1h-1zM1366 592h2v1h-2zM1368 591h2v1h-2zM1370 590h1v1h-1zM1371 589h2v1h-2zM1373 588h1v1h-1zM1374 587h2v1h-2zM1376 586h1v1h-1zM1377 585h2v1h-2zM1379 584h1v1h-1zM1380 583h2v1h-2zM1382 582h1v1h-1zM1383 581h2v1h-2zM1385 580h2v1h-2zM1387 579h1v1h-1zM1388 578h2v1h-2zM1390 577h1v1h-1zM1391 576h2v1h-2zM1393 575h1v1h-1zM1394 574h2v1h-2zM1396 573h1v1h-1zM1397 572h2v1h-2zM1399 571h1v1h-1zM1400 570h2v1h-2zM1402 569h1v1h-1zM1403 568h2v1h-2zM1405 567h2v1h-2zM1407 566h1v1h-1zM1408 565h2v1h-2zM1410 564h1v1h-1zM1411 563h2v1h-2zM1413 562h1v1h-1zM1414 561h2v1h-2zM1416 560h1v1h-1zM1417 559h2v1h-2zM1419 558h1v1h-1zM1420 557h2v1h-2zM1422 556h2v1h-2zM1424 555h1v1h-1zM1425 554h2v1h-2zM1427 553h1v1h-1zM1428 552h2v1h-2zM1430 551h1v1h-1zM1431 550h2v1h-2zM1433 549h1v1h-1zM1434 548h2v1h-2zM1436 547h1v1h-1zM1437 546h2v1h-2zM1439 545h1v1h-1zM1440 544h2v1h-2zM1442 543h2v1h-2zM1444 542h1v1h-1zM1445 541h2v1h-2zM1447 540h1v1h-1zM1448 539h2v1h-2zM1450 538h1v1h-1zM1451 537h2v1h-2zM1453 536h1v1h-1zM1454 535h2v1h-2zM1456 534h1v1h-1zM1457 533h2v1h-2zM1459 532h2v1h-2zM1461 531h1v1h-1zM1462 530h2v1h-2zM1464 529h1v1h-1zM1465 528h2v1h-2zM1467 527h1v1h-1zM1468 526h2v1h-2zM1470 525h1v1h-1zM1471 524h2v1h-2zM1473 523h1v1h-1zM1474 522h2v1h-2zM1476 521h1v1h-1zM1477 520h2v1h-2zM1479 519h2v1h-2zM1481 518h1v1h-1zM1482 517h2v1h-2zM1484 516h1v1h-1zM1485 515h2v1h-2zM1487 514h1v1h-1zM1488 513h2v1h-2zM1490 512h1v1h-1zM1491 511h2v1h-2zM1493 510h1v1h-1zM1494 509h2v1h-2zM1496 508h2v1h-2zM1498 507h1v1h-1zM1499 506h2v1h-2zM1501 505h1v1h-1zM1502 504h2v1h-2zM1504 503h1v1h-1zM1505 502h2v1h-2zM1507 501h1v1h-1zM1508 500h2v1h-2zM1510 499h1v1h-1zM1511 498h2v1h-2zM1513 497h1v1h-1zM1514 496h2v1h-2zM1516 495h2v1h-2zM1518 494h1v1h-1zM1519 493h2v1h-2zM1521 492h1v1h-1zM1522 491h2v1h-2zM1524 490h1v1h-1zM1525 489h2v1h-2zM1527 488h1v1h-1zM1528 487h2v1h-2zM1530 486h1v1h-1zM1531 485h2v1h-2zM1533 484h2v1h-2zM1535 483h1v1h-1zM1536 482h2v1h-2zM1538 481h1v1h-1zM1539 480h2v1h-2zM1541 479h1v1h-1zM1542 478h2v1h-2zM1544 477h1v1h-1zM1545 476h2v1h-2zM1547 475h1v1h-1zM1548 474h2v1h-2zM1550 473h1v1h-1zM1551 472h2v1h-2zM1553 471h2v1h-2zM1555 470h1v1h-1zM1556 469h2v1h-2zM1558 468h1v1h-1zM1559 467h2v1h-2zM1561 466h1v1h-1zM1562 465h2v1h-2zM1564 464h1v1h-1zM1565 463h2v1h-2zM1567 462h1v1h-1zM1568 461h2v1h-2zM1570 460h2v1h-2zM1572 459h1v1h-1zM1573 458h2v1h-2zM1575 457h1v1h-1zM1576 456h2v1h-2zM1578 455h1v1h-1zM1579 454h2v1h-2zM1581 453h1v1h-1zM1582 452h2v1h-2zM1584 451h1v1h-1zM1585 450h2v1h-2zM1587 449h1v1h-1zM1588 448h2v1h-2zM1590 447h2v1h-2zM1592 446h1v1h-1zM1593 445h2v1h-2zM1595 444h1v1h-1zM1596 443h2v1h-2zM1598 442h1v1h-1zM1599 441h2v1h-2zM1601 440h1v1h-1zM1602 439h2v1h-2zM1604 438h1v1h-1zM1605 437h2v1h-2zM1607 436h2v1h-2zM1609 435h1v1h-1zM1610 434h2v1h-2zM1612 433h1v1h-1zM1613 432h2v1h-2zM1615 431h1v1h-1zM1616 430h2v1h-2zM1618 429h1v1h-1zM1619 428h2v1h-2zM1621 427h1v1h-1zM1622 426h2v1h-2zM1624 425h1v1h-1zM1625 424h2v1h-2zM1627 423h2v1h-2zM1629 422h1v1h-1zM1630 421h2v1h-2zM1632 420h1v1h-1zM1633 419h2v1h-2zM1635 418h1v1h-1zM1636 417h2v1h-2zM1638 416h1v1h-1zM1639 415h2v1h-2zM1641 414h1v1h-1zM1642 413h2v1h-2zM1644 412h2v1h-2zM1646 411h1v1h-1zM1647 410h2v1h-2zM1649 409h1v1h-1zM1650 408h2v1h-2zM1652 407h1v1h-1zM1653 406h2v1h-2zM1655 405h1v1h-1zM1656 404h2v1h-2zM1658 403h1v1h-1zM1659 402h2v1h-2zM1661 401h2v1h-2zM1663 400h1v1h-1zM1664 399h2v1h-2zM1666 398h1v1h-1zM1667 397h2v1h-2zM1669 396h1v1h-1zM1670 395h2v1h-2zM1672 394h1v1h-1zM1673 393h2v1h-2zM1675 392h1v1h-1zM1676 391h2v1h-2zM1678 390h1v1h-1zM1679 389h2v1h-2zM1681 388h2v1h-2zM1683 387h1v1h-1zM1684 386h2v1h-2zM1686 385h1v1h-1zM1687 384h2v1h-2zM1689 383h1v1h-1zM1690 382h2v1h-2zM1692 381h1v1h-1zM1693 380h2v1h-2zM1695 379h1v1h-1zM1696 378h2v1h-2zM1698 377h2v1h-2zM1700 376h1v1h-1zM1701 375h2v1h-2zM1703 374h1v1h-1zM1704 373h2v1h-2zM1706 372h1v1h-1zM1707 371h2v1h-2zM1709 370h1v1h-1zM1710 369h2v1h-2zM1712 368h1v1h-1zM1713 367h2v1h-2zM1715 366h1v1h-1zM1716 365h2v1h-2zM1718 364h2v1h-2zM1720 363h1v1h-1zM1721 362h2v1h-2zM1723 361h1v1h-1zM1724 360h2v1h-2zM1726 359h1v1h-1zM1727 358h2v1h-2zM1729 357h1v1h-1zM1730 356h2v1h-2zM1732 355h1v1h-1zM1733 354h2v1h-2zM1735 353h2v1h-2zM1737 352h1v1h-1zM1738 351h2v1h-2zM1740 350h1v1h-1zM1741 349h2v1h-2zM1743 348h1v1h-1zM1744 347h2v1h-2zM1746 346h1v1h-1zM1747 345h2v1h-2zM1749 344h1v1h-1zM1750 343h2v1h-2zM1752 342h1v1h-1zM1753 341h2v1h-2zM1755 340h2v1h-2zM1757 339h1v1h-1zM1758 338h2v1h-2zM1760 337h1v1h-1zM1761 336h2v1h-2zM1763 335h1v1h-1zM1764 334h2v1h-2zM1766 333h1v1h-1zM1767 332h2v1h-2zM1769 331h1v1h-1zM1770 330h2v1h-2zM1772 329h2v1h-2zM1774 328h1v1h-1zM1775 327h2v1h-2zM1777 326h1v1h-1zM1778 325h2v1h-2zM1780 324h1v1h-1zM1781 323h2v1h-2zM1783 322h1v1h-1zM1784 321h2v1h-2zM1786 320h1v1h-1z"/>
</g>
</g>
<g fill="none" stroke="#000" stroke-width="1" shape-rendering="crispEdges">
<rect x="2.5" y="2.5" width="2035" height="814"/>
<rect x="2.5" y="818.5" width="2035" height="104"/>
<rect x="2.5" y="924.5" width="2035" height="106"/>
<rect x="2.5" y="1032.5" width="2035" height="91"/>
</g>
<g shape-rendering="crispEdges" fill="#000">
<rect x="2038" y="17" width="4" height="1"/>
<rect x="2038" y="49" width="4" height="1"/>
<rect x="2038" y="81" width="4" height="1"/>
<rect x="2038" y="113" width="4" height="1"/>
<rect x="2038" y="145" width="4" height="1"/>
<rect x="2038" y="177" width="4" height="1"/>
<rect x="2038" y="209" width="4" height="1"/>
<rect x="2038" y="241" width="4" height="1"/>
<rect x="2038" y="273" width="4" height="1"/>
<rect x="2038" y="305" width="4" height="1"/>
<rect x="2038" y="337" width="4" height="1"/>
<rect x="2038" y="369" width="4" height="1"/>
<rect x="2038" y="401" width="4" height="1"/>
<rect x="2038" y="432" width="4" height="1"/>
<rect x="2038" y="464" width="4" height="1"/>
<rect x="2038" y="496" width="4" height="1"/>
<rect x="2038" y="528" width="4" height="1"/>
<rect x="2038" y="560" width="4" height="1"/>
<rect x="2038" y="592" width="4" height="1"/>
<rect x="2038" y="624" width="4" height="1"/>
<rect x="2038" y="656" width="4" height="1"/>
<rect x="2038" y="688" width="4" height="1"/>
<rect x="2038" y="720" width="4" height="1"/>
<rect x="2038" y="752" width="4" height="1"/>
<rect x="2038" y="784" width="4" height="1"/>
</g>
<text class="m" x="2042.5" y="22" font-size="12.5px" fill="#000" textLength="46.0" lengthAdjust="spacingAndGlyphs">0.93735</text>
<text class="m" x="2042.5" y="54" font-size="12.5px" fill="#000" textLength="46.0" lengthAdjust="spacingAndGlyphs">0.93260</text>
<text class="m" x="2042.5" y="86" font-size="12.5px" fill="#000" textLength="46.0" lengthAdjust="spacingAndGlyphs">0.92785</text>
<text class="m" x="2042.5" y="118" font-size="12.5px" fill="#000" textLength="46.0" lengthAdjust="spacingAndGlyphs">0.92310</text>
<text class="m" x="2042.5" y="150" font-size="12.5px" fill="#000" textLength="46.0" lengthAdjust="spacingAndGlyphs">0.91835</text>
<text class="m" x="2042.5" y="182" font-size="12.5px" fill="#000" textLength="46.0" lengthAdjust="spacingAndGlyphs">0.91360</text>
<text class="m" x="2042.5" y="214" font-size="12.5px" fill="#000" textLength="46.0" lengthAdjust="spacingAndGlyphs">0.90885</text>
<text class="m" x="2042.5" y="246" font-size="12.5px" fill="#000" textLength="46.0" lengthAdjust="spacingAndGlyphs">0.90410</text>
<text class="m" x="2042.5" y="278" font-size="12.5px" fill="#000" textLength="46.0" lengthAdjust="spacingAndGlyphs">0.89935</text>
<text class="m" x="2042.5" y="310" font-size="12.5px" fill="#000" textLength="46.0" lengthAdjust="spacingAndGlyphs">0.89460</text>
<text class="m" x="2042.5" y="342" font-size="12.5px" fill="#000" textLength="46.0" lengthAdjust="spacingAndGlyphs">0.88985</text>
<text class="m" x="2042.5" y="374" font-size="12.5px" fill="#000" textLength="46.0" lengthAdjust="spacingAndGlyphs">0.88510</text>
<text class="m" x="2042.5" y="406" font-size="12.5px" fill="#000" textLength="46.0" lengthAdjust="spacingAndGlyphs">0.88035</text>
<text class="m" x="2042.5" y="437" font-size="12.5px" fill="#000" textLength="46.0" lengthAdjust="spacingAndGlyphs">0.87560</text>
<text class="m" x="2042.5" y="469" font-size="12.5px" fill="#000" textLength="46.0" lengthAdjust="spacingAndGlyphs">0.87085</text>
<text class="m" x="2042.5" y="501" font-size="12.5px" fill="#000" textLength="46.0" lengthAdjust="spacingAndGlyphs">0.86610</text>
<text class="m" x="2042.5" y="533" font-size="12.5px" fill="#000" textLength="46.0" lengthAdjust="spacingAndGlyphs">0.86135</text>
<text class="m" x="2042.5" y="565" font-size="12.5px" fill="#000" textLength="46.0" lengthAdjust="spacingAndGlyphs">0.85660</text>
<text class="m" x="2042.5" y="597" font-size="12.5px" fill="#000" textLength="46.0" lengthAdjust="spacingAndGlyphs">0.85185</text>
<text class="m" x="2042.5" y="629" font-size="12.5px" fill="#000" textLength="46.0" lengthAdjust="spacingAndGlyphs">0.84710</text>
<text class="m" x="2042.5" y="661" font-size="12.5px" fill="#000" textLength="46.0" lengthAdjust="spacingAndGlyphs">0.84235</text>
<text class="m" x="2042.5" y="693" font-size="12.5px" fill="#000" textLength="46.0" lengthAdjust="spacingAndGlyphs">0.83760</text>
<text class="m" x="2042.5" y="725" font-size="12.5px" fill="#000" textLength="46.0" lengthAdjust="spacingAndGlyphs">0.83285</text>
<text class="m" x="2042.5" y="757" font-size="12.5px" fill="#000" textLength="46.0" lengthAdjust="spacingAndGlyphs">0.82810</text>
<text class="m" x="2042.5" y="789" font-size="12.5px" fill="#000" textLength="46.0" lengthAdjust="spacingAndGlyphs">0.82335</text>
<rect x="2040" y="304" width="54" height="14" fill="#708090" shape-rendering="crispEdges"/>
<text x="2043.3" y="316" font-size="12.5px" fill="#fff" textLength="46" lengthAdjust="spacingAndGlyphs">0.89366</text>
<rect x="2040" y="162" width="54" height="14" fill="#000" shape-rendering="crispEdges"/>
<text x="2043.3" y="174" font-size="12.5px" fill="#fff" textLength="46" lengthAdjust="spacingAndGlyphs">0.91484</text>
<rect x="2040" y="204" width="54" height="14" fill="#000" shape-rendering="crispEdges"/>
<text x="2043.3" y="216" font-size="12.5px" fill="#fff" textLength="46" lengthAdjust="spacingAndGlyphs">0.90847</text>
<rect x="2040" y="236" width="54" height="14" fill="#000" shape-rendering="crispEdges"/>
<text x="2043.3" y="248" font-size="12.5px" fill="#fff" textLength="46" lengthAdjust="spacingAndGlyphs">0.90377</text>
<rect x="2040" y="295" width="54" height="14" fill="#000" shape-rendering="crispEdges"/>
<text x="2043.3" y="307" font-size="12.5px" fill="#fff" textLength="46" lengthAdjust="spacingAndGlyphs">0.89505</text>
<rect x="2040" y="329" width="54" height="14" fill="#000" shape-rendering="crispEdges"/>
<text x="2043.3" y="341" font-size="12.5px" fill="#fff" textLength="46" lengthAdjust="spacingAndGlyphs">0.88988</text>
<rect x="2040" y="367" width="54" height="14" fill="#000" shape-rendering="crispEdges"/>
<text x="2043.3" y="379" font-size="12.5px" fill="#fff" textLength="46" lengthAdjust="spacingAndGlyphs">0.88426</text>
<rect x="2040" y="430" width="54" height="14" fill="#000" shape-rendering="crispEdges"/>
<text x="2043.3" y="442" font-size="12.5px" fill="#fff" textLength="46" lengthAdjust="spacingAndGlyphs">0.87508</text>
<rect x="2040" y="463" width="54" height="14" fill="#000" shape-rendering="crispEdges"/>
<text x="2043.3" y="475" font-size="12.5px" fill="#fff" textLength="46" lengthAdjust="spacingAndGlyphs">0.86997</text>
<text x="2003.7" y="115" font-size="12.5px" fill="#87ceeb" textLength="32" lengthAdjust="spacingAndGlyphs">100.0</text>
<text x="1964.7" y="237" font-size="12.5px" fill="#87ceeb" textLength="71" lengthAdjust="spacingAndGlyphs">78.60.90411</text>
<text x="1964.7" y="333" font-size="12.5px" fill="#87ceeb" textLength="71" lengthAdjust="spacingAndGlyphs">61.80.88983</text>
<text x="1964.7" y="401" font-size="12.5px" fill="#87ceeb" textLength="71" lengthAdjust="spacingAndGlyphs">50.00.87980</text>
<text x="1964.7" y="468" font-size="12.5px" fill="#87ceeb" textLength="71" lengthAdjust="spacingAndGlyphs">38.20.86976</text>
<text x="1964.7" y="552" font-size="12.5px" fill="#87ceeb" textLength="71" lengthAdjust="spacingAndGlyphs">23.60.85735</text>
<text x="2017.7" y="687" font-size="12.5px" fill="#87ceeb" textLength="18" lengthAdjust="spacingAndGlyphs">0.0</text>
<g stroke="#c0c0c0" stroke-width="1" stroke-dasharray="3 3" shape-rendering="crispEdges">
<line x1="3" y1="849.5" x2="2037" y2="849.5"/>
<line x1="3" y1="870.5" x2="2037" y2="870.5"/>
<line x1="3" y1="891.5" x2="2037" y2="891.5"/>
<line x1="3" y1="945.5" x2="2037" y2="945.5"/>
<line x1="3" y1="1009.5" x2="2037" y2="1009.5"/>
</g>
<g shape-rendering="crispEdges" fill="#000">
<rect x="2038" y="819" width="4" height="1"/>
<rect x="2038" y="849" width="4" height="1"/>
<rect x="2038" y="870" width="4" height="1"/>
<rect x="2038" y="891" width="4" height="1"/>
<rect x="2038" y="921" width="4" height="1"/>
<rect x="2038" y="925" width="4" height="1"/>
<rect x="2038" y="945" width="4" height="1"/>
<rect x="2038" y="1009" width="4" height="1"/>
<rect x="2038" y="1029" width="4" height="1"/>
<rect x="2038" y="1033" width="4" height="1"/>
<rect x="2038" y="1122" width="4" height="1"/>
</g>
<text x="2043.0" y="830" class="m" font-size="12.5px" fill="#000" textLength="39.0" lengthAdjust="spacingAndGlyphs">100.00</text>
<text x="2042.3" y="854" class="m" font-size="12.5px" fill="#000" textLength="32.5" lengthAdjust="spacingAndGlyphs">70.00</text>
<text x="2042.3" y="875" class="m" font-size="12.5px" fill="#000" textLength="32.5" lengthAdjust="spacingAndGlyphs">50.00</text>
<text x="2042.3" y="896" class="m" font-size="12.5px" fill="#000" textLength="32.5" lengthAdjust="spacingAndGlyphs">30.00</text>
<text x="2042.5" y="920" class="m" font-size="12.5px" fill="#000" textLength="25.5" lengthAdjust="spacingAndGlyphs">0.00</text>
<text x="2043.0" y="936" class="m" font-size="12.5px" fill="#000" textLength="39.0" lengthAdjust="spacingAndGlyphs">100.00</text>
<text x="2042.3" y="950" class="m" font-size="12.5px" fill="#000" textLength="32.5" lengthAdjust="spacingAndGlyphs">80.00</text>
<text x="2042.3" y="1014" class="m" font-size="12.5px" fill="#000" textLength="32.5" lengthAdjust="spacingAndGlyphs">20.00</text>
<text x="2042.5" y="1028" class="m" font-size="12.5px" fill="#000" textLength="25.5" lengthAdjust="spacingAndGlyphs">0.00</text>
<text x="2042.5" y="1044" class="m" font-size="12.5px" fill="#000" textLength="53.0" lengthAdjust="spacingAndGlyphs">0.008764</text>
<text x="2043.5" y="1121" class="m" font-size="12.5px" fill="#000" textLength="56.0" lengthAdjust="spacingAndGlyphs">-0.011466</text>
<g clip-path="url(#cr)">
<path shape-rendering="crispEdges" fill="#1e90ff" d="M2 855h2v1h-2zM4 856h2v1h-2zM6 857h3v1h-3zM9 858h3v1h-3zM12 857h4v1h-4zM16 856h4v1h-4zM20 857h2v1h-2zM22 858h3v1h-3zM25 859h3v1h-3zM28 860h4v1h-4zM32 861h3v1h-3zM35 862h1v1h-1zM36 863h1v1h-1zM37 864h1v1h-1zM38 865h1v2h-1zM39 867h1v1h-1zM40 868h1v1h-1zM41 869h1v1h-1zM42 870h12v1h-12zM54 871h8v1h-8zM62 870h14v1h-14zM76 869h4v1h-4zM80 868h3v1h-3zM83 867h1v1h-1zM84 866h1v1h-1zM85 865h1v1h-1zM86 863h1v2h-1zM87 862h1v1h-1zM88 861h1v1h-1zM89 860h1v1h-1zM90 859h10v1h-10zM100 860h4v1h-4zM104 861h3v1h-3zM107 860h1v1h-1zM108 859h1v1h-1zM109 858h1v1h-1zM110 857h2v1h-2zM112 856h1v1h-1zM113 855h1v1h-1zM114 854h4v1h-4zM118 853h6v1h-6zM124 854h2v1h-2zM126 855h3v1h-3zM129 856h2v1h-2zM131 854h1v2h-1zM132 853h1v1h-1zM133 851h1v2h-1zM134 850h1v1h-1zM135 848h1v2h-1zM136 847h1v1h-1zM137 845h1v2h-1zM138 844h2v1h-2zM140 845h4v1h-4zM144 846h12v1h-12zM156 845h4v1h-4zM160 844h3v1h-3zM163 843h2v1h-2zM165 842h2v1h-2zM167 841h2v1h-2zM169 840h10v1h-10zM179 841h2v1h-2zM181 842h1v1h-1zM182 843h2v1h-2zM184 844h2v1h-2zM186 845h2v1h-2zM188 846h2v1h-2zM190 847h3v1h-3zM193 848h3v1h-3zM196 847h2v1h-2zM198 846h3v1h-3zM201 845h2v1h-2zM203 844h2v1h-2zM205 843h2v1h-2zM207 842h2v1h-2zM209 841h2v1h-2zM211 842h1v2h-1zM212 844h1v1h-1zM213 845h1v2h-1zM214 847h1v1h-1zM215 848h1v2h-1zM216 850h1v1h-1zM217 851h1v2h-1zM218 853h2v1h-2zM220 854h2v1h-2zM222 855h3v1h-3zM225 856h10v1h-10zM235 855h2v1h-2zM237 854h2v1h-2zM239 853h2v1h-2zM241 852h2v1h-2zM243 853h2v1h-2zM245 854h2v1h-2zM247 855h2v1h-2zM249 856h2v1h-2zM251 855h1v1h-1zM252 854h1v1h-1zM253 853h1v1h-1zM254 851h1v2h-1zM255 850h1v1h-1zM256 849h1v1h-1zM257 848h1v1h-1zM258 847h1v1h-1zM259 848h2v1h-2zM261 849h1v1h-1zM262 850h2v1h-2zM264 851h2v1h-2zM266 852h2v1h-2zM268 851h2v1h-2zM270 850h3v1h-3zM273 849h2v1h-2zM275 850h2v1h-2zM277 851h1v1h-1zM278 852h2v1h-2zM280 853h2v1h-2zM282 854h4v1h-4zM286 853h6v1h-6zM292 854h2v1h-2zM294 855h3v1h-3zM297 856h5v1h-5zM302 855h5v1h-5zM307 856h2v1h-2zM309 857h2v1h-2zM311 858h2v1h-2zM313 859h3v1h-3zM316 858h4v1h-4zM320 857h11v1h-11zM331 856h2v1h-2zM333 855h2v1h-2zM335 854h2v1h-2zM337 853h2v1h-2zM339 854h1v1h-1zM340 855h2v1h-2zM342 856h1v1h-1zM343 857h1v1h-1zM344 858h2v1h-2zM346 859h2v1h-2zM348 858h2v1h-2zM350 857h3v1h-3zM353 856h2v1h-2zM355 857h1v1h-1zM356 858h1v1h-1zM357 859h1v1h-1zM358 860h1v1h-1zM359 861h1v1h-1zM360 862h1v1h-1zM361 863h1v1h-1zM362 864h1v1h-1zM363 863h1v1h-1zM364 861h1v2h-1zM365 860h1v1h-1zM366 859h1v1h-1zM367 858h1v1h-1zM368 856h1v2h-1zM369 855h1v1h-1zM370 854h1v1h-1zM371 855h1v1h-1zM372 856h2v1h-2zM374 857h1v1h-1zM375 858h1v1h-1zM376 859h2v1h-2zM378 860h1v1h-1zM379 861h1v1h-1zM380 862h2v1h-2zM382 863h1v1h-1zM383 864h1v1h-1zM384 865h2v1h-2zM386 866h1v1h-1zM387 867h1v1h-1zM388 868h1v1h-1zM389 869h1v1h-1zM390 870h2v1h-2zM392 871h1v1h-1zM393 872h1v1h-1zM394 873h4v1h-4zM398 872h6v1h-6zM404 871h2v1h-2zM406 870h3v1h-3zM409 869h5v1h-5zM414 870h6v1h-6zM420 871h4v1h-4zM424 872h12v1h-12zM436 871h2v1h-2zM438 870h3v1h-3zM441 869h3v1h-3zM444 870h2v1h-2zM446 871h3v1h-3zM449 872h2v1h-2zM451 873h2v1h-2zM453 874h1v1h-1zM454 875h2v1h-2zM456 876h2v1h-2zM458 877h1v1h-1zM459 876h1v1h-1zM460 875h2v1h-2zM462 874h1v1h-1zM463 873h1v1h-1zM464 872h2v1h-2zM466 871h1v1h-1zM467 870h2v1h-2zM469 869h2v1h-2zM471 868h2v1h-2zM473 867h3v1h-3zM476 866h4v1h-4zM480 865h11v1h-11zM491 864h1v1h-1zM492 863h2v1h-2zM494 862h1v1h-1zM495 861h1v1h-1zM496 860h2v1h-2zM498 859h2v1h-2zM500 860h4v1h-4zM504 861h14v1h-14zM518 862h6v1h-6zM524 863h2v1h-2zM526 864h3v1h-3zM529 865h5v1h-5zM534 864h5v1h-5zM539 865h1v2h-1zM540 867h1v2h-1zM541 869h1v2h-1zM542 871h1v1h-1zM543 872h1v2h-1zM544 874h1v2h-1zM545 876h1v2h-1zM546 878h2v1h-2zM548 879h4v1h-4zM552 880h3v1h-3zM555 881h1v1h-1zM556 882h1v1h-1zM557 883h1v1h-1zM558 884h2v1h-2zM560 885h1v1h-1zM561 886h1v1h-1zM562 887h1v1h-1zM563 888h2v1h-2zM565 889h1v1h-1zM566 890h2v1h-2zM568 891h2v1h-2zM570 892h1v1h-1zM571 891h1v1h-1zM572 890h2v1h-2zM574 889h1v1h-1zM575 888h1v1h-1zM576 887h2v1h-2zM578 886h2v1h-2zM580 887h2v1h-2zM582 888h3v1h-3zM585 889h2v1h-2zM587 888h1v1h-1zM588 886h1v2h-1zM589 885h1v1h-1zM590 884h1v1h-1zM591 883h1v1h-1zM592 881h1v2h-1zM593 880h1v1h-1zM594 879h10v1h-10zM604 878h4v1h-4zM608 877h3v1h-3zM611 878h2v1h-2zM613 879h2v1h-2zM615 880h2v1h-2zM617 881h10v1h-10zM627 882h2v1h-2zM629 883h2v1h-2zM631 884h2v1h-2zM633 885h10v1h-10zM643 886h2v1h-2zM645 887h1v1h-1zM646 888h2v1h-2zM648 889h2v1h-2zM650 890h4v1h-4zM654 891h5v1h-5zM659 889h1v2h-1zM660 887h1v2h-1zM661 885h1v2h-1zM662 884h1v1h-1zM663 882h1v2h-1zM664 880h1v2h-1zM665 878h1v2h-1zM666 877h2v1h-2zM668 876h2v1h-2zM670 875h3v1h-3zM673 874h3v1h-3zM676 875h4v1h-4zM680 876h4v1h-4zM684 875h2v1h-2zM686 874h3v1h-3zM689 873h2v1h-2zM691 872h2v1h-2zM693 871h2v1h-2zM695 870h2v1h-2zM697 869h5v1h-5zM702 868h13v1h-13zM715 867h2v1h-2zM717 866h1v1h-1zM718 865h2v1h-2zM720 864h2v1h-2zM722 863h2v1h-2zM724 862h4v1h-4zM728 861h3v1h-3zM731 862h2v1h-2zM733 863h2v1h-2zM735 864h2v1h-2zM737 865h3v1h-3zM740 866h2v1h-2zM742 867h3v1h-3zM745 868h2v1h-2zM747 869h1v1h-1zM748 870h2v1h-2zM750 871h1v1h-1zM751 872h1v1h-1zM752 873h2v1h-2zM754 874h2v1h-2zM756 873h2v1h-2zM758 872h3v1h-3zM761 871h5v1h-5zM766 870h6v1h-6zM772 869h2v1h-2zM774 868h3v1h-3zM777 867h2v1h-2zM779 868h1v1h-1zM780 869h2v1h-2zM782 870h1v1h-1zM783 871h1v1h-1zM784 872h2v1h-2zM786 873h2v1h-2zM788 874h2v1h-2zM790 875h3v1h-3zM793 876h3v1h-3zM796 875h2v1h-2zM798 874h3v1h-3zM801 873h3v1h-3zM804 874h2v1h-2zM806 875h3v1h-3zM809 876h2v1h-2zM811 877h1v2h-1zM812 879h1v1h-1zM813 880h1v2h-1zM814 882h1v1h-1zM815 883h1v2h-1zM816 885h1v1h-1zM817 886h1v2h-1zM818 888h1v1h-1zM819 887h1v1h-1zM820 886h1v1h-1zM821 885h1v1h-1zM822 884h2v1h-2zM824 883h1v1h-1zM825 882h1v1h-1zM826 881h2v1h-2zM828 880h4v1h-4zM832 879h6v1h-6zM838 878h6v1h-6zM844 877h2v1h-2zM846 876h3v1h-3zM849 875h2v1h-2zM851 876h1v1h-1zM852 877h1v1h-1zM853 878h1v1h-1zM854 879h2v1h-2zM856 880h1v1h-1zM857 881h1v1h-1zM858 882h2v1h-2zM860 883h2v1h-2zM862 884h3v1h-3zM865 885h3v1h-3zM868 884h2v1h-2zM870 883h3v1h-3zM873 882h2v1h-2zM875 881h2v1h-2zM877 880h2v1h-2zM879 879h2v1h-2zM881 878h2v1h-2zM883 879h2v1h-2zM885 880h2v1h-2zM887 881h2v1h-2zM889 882h3v1h-3zM892 883h2v1h-2zM894 884h3v1h-3zM897 885h2v1h-2zM899 886h2v1h-2zM901 887h1v1h-1zM902 888h2v1h-2zM904 889h2v1h-2zM906 890h1v1h-1zM907 891h1v1h-1zM908 892h1v1h-1zM909 893h1v1h-1zM910 894h1v2h-1zM911 896h1v1h-1zM912 897h1v1h-1zM913 898h1v1h-1zM914 899h2v1h-2zM916 900h4v1h-4zM920 901h11v1h-11zM931 899h1v2h-1zM932 897h1v2h-1zM933 895h1v2h-1zM934 894h1v1h-1zM935 892h1v2h-1zM936 890h1v2h-1zM937 888h1v2h-1zM938 887h1v1h-1zM939 886h2v1h-2zM941 885h1v1h-1zM942 884h2v1h-2zM944 883h2v1h-2zM946 882h4v1h-4zM950 883h29v1h-29zM979 882h1v1h-1zM980 880h1v2h-1zM981 879h1v1h-1zM982 878h1v1h-1zM983 877h1v1h-1zM984 875h1v2h-1zM985 874h1v1h-1zM986 873h1v1h-1zM987 874h1v1h-1zM988 875h2v1h-2zM990 876h1v1h-1zM991 877h1v1h-1zM992 878h2v1h-2zM994 879h2v1h-2zM996 880h2v1h-2zM998 881h3v1h-3zM1001 882h2v1h-2zM1003 883h1v1h-1zM1004 884h2v1h-2zM1006 885h1v1h-1zM1007 886h1v1h-1zM1008 887h2v1h-2zM1010 888h4v1h-4zM1014 889h8v1h-8zM1022 888h6v1h-6zM1028 889h2v1h-2zM1030 890h3v1h-3zM1033 891h5v1h-5zM1038 892h6v1h-6zM1044 893h2v1h-2zM1046 894h3v1h-3zM1049 895h5v1h-5zM1054 894h5v1h-5zM1059 893h1v1h-1zM1060 892h1v1h-1zM1061 891h1v1h-1zM1062 890h1v1h-1zM1063 889h1v1h-1zM1064 888h1v1h-1zM1065 887h1v1h-1zM1066 886h2v1h-2zM1068 885h2v1h-2zM1070 884h3v1h-3zM1073 883h3v1h-3zM1076 882h4v1h-4zM1080 881h6v1h-6zM1086 882h6v1h-6zM1092 883h2v1h-2zM1094 884h3v1h-3zM1097 885h3v1h-3zM1100 886h4v1h-4zM1104 887h6v1h-6zM1110 888h5v1h-5zM1115 887h1v1h-1zM1116 885h1v2h-1zM1117 884h1v1h-1zM1118 883h1v1h-1zM1119 882h1v1h-1zM1120 880h1v2h-1zM1121 879h1v1h-1zM1122 878h2v1h-2zM1124 879h2v1h-2zM1126 880h3v1h-3zM1129 881h2v1h-2zM1131 880h1v1h-1zM1132 879h1v1h-1zM1133 878h1v1h-1zM1134 877h2v1h-2zM1136 876h1v1h-1zM1137 875h1v1h-1zM1138 874h4v1h-4zM1142 875h6v1h-6zM1148 876h4v1h-4zM1152 877h3v1h-3zM1155 878h2v1h-2zM1157 879h2v1h-2zM1159 880h2v1h-2zM1161 881h3v1h-3zM1164 880h2v1h-2zM1166 879h3v1h-3zM1169 878h5v1h-5zM1174 879h6v1h-6zM1180 878h4v1h-4zM1184 877h3v1h-3zM1187 876h2v1h-2zM1189 875h2v1h-2zM1191 874h2v1h-2zM1193 873h3v1h-3zM1196 874h2v1h-2zM1198 875h3v1h-3zM1201 876h2v1h-2zM1203 877h2v1h-2zM1205 878h1v1h-1zM1206 879h2v1h-2zM1208 880h2v1h-2zM1210 881h1v1h-1zM1211 880h1v1h-1zM1212 878h1v2h-1zM1213 877h1v1h-1zM1214 876h1v1h-1zM1215 875h1v1h-1zM1216 873h1v2h-1zM1217 872h1v1h-1zM1218 871h1v1h-1zM1219 872h2v1h-2zM1221 873h1v1h-1zM1222 874h2v1h-2zM1224 875h2v1h-2zM1226 876h1v1h-1zM1227 877h2v1h-2zM1229 878h1v1h-1zM1230 879h2v1h-2zM1232 880h2v1h-2zM1234 881h1v1h-1zM1235 880h1v1h-1zM1236 879h2v1h-2zM1238 878h1v1h-1zM1239 877h1v1h-1zM1240 876h2v1h-2zM1242 875h4v1h-4zM1246 874h5v1h-5zM1251 873h2v1h-2zM1253 872h2v1h-2zM1255 871h2v1h-2zM1257 870h3v1h-3zM1260 869h2v1h-2zM1262 868h3v1h-3zM1265 867h2v1h-2zM1267 866h1v1h-1zM1268 865h2v1h-2zM1270 864h1v1h-1zM1271 863h1v1h-1zM1272 862h2v1h-2zM1274 861h1v1h-1zM1275 862h1v1h-1zM1276 863h2v1h-2zM1278 864h1v1h-1zM1279 865h1v1h-1zM1280 866h2v1h-2zM1282 867h1v1h-1zM1283 866h2v1h-2zM1285 865h2v1h-2zM1287 864h2v1h-2zM1289 863h3v1h-3zM1292 862h4v1h-4zM1296 861h3v1h-3zM1299 862h2v1h-2zM1301 863h2v1h-2zM1303 864h2v1h-2zM1305 865h5v1h-5zM1310 864h5v1h-5zM1315 863h2v1h-2zM1317 862h1v1h-1zM1318 861h2v1h-2zM1320 860h2v1h-2zM1322 859h2v1h-2zM1324 860h4v1h-4zM1328 861h3v1h-3zM1331 860h2v1h-2zM1333 859h2v1h-2zM1335 858h2v1h-2zM1337 857h11v1h-11zM1348 858h4v1h-4zM1352 859h4v1h-4zM1356 858h4v1h-4zM1360 857h6v1h-6zM1366 858h8v1h-8zM1374 857h6v1h-6zM1380 858h4v1h-4zM1384 859h4v1h-4zM1388 858h4v1h-4zM1392 857h6v1h-6zM1398 856h5v1h-5zM1403 857h2v1h-2zM1405 858h1v1h-1zM1406 859h2v1h-2zM1408 860h2v1h-2zM1410 861h2v1h-2zM1412 860h2v1h-2zM1414 859h3v1h-3zM1417 858h3v1h-3zM1420 859h4v1h-4zM1424 860h3v1h-3zM1427 861h1v1h-1zM1428 862h2v1h-2zM1430 863h1v1h-1zM1431 864h1v1h-1zM1432 865h2v1h-2zM1434 866h1v1h-1zM1435 865h1v1h-1zM1436 864h1v1h-1zM1437 863h1v1h-1zM1438 861h1v2h-1zM1439 860h1v1h-1zM1440 859h1v1h-1zM1441 858h1v1h-1zM1442 857h1v1h-1zM1443 858h1v2h-1zM1444 860h1v1h-1zM1445 861h1v1h-1zM1446 862h1v2h-1zM1447 864h1v1h-1zM1448 865h1v1h-1zM1449 866h1v2h-1zM1450 868h4v1h-4zM1454 869h5v1h-5zM1459 867h1v2h-1zM1460 865h1v2h-1zM1461 863h1v2h-1zM1462 862h1v1h-1zM1463 860h1v2h-1zM1464 858h1v2h-1zM1465 856h1v2h-1zM1466 855h1v1h-1zM1467 856h2v1h-2zM1469 857h1v1h-1zM1470 858h2v1h-2zM1472 859h2v1h-2zM1474 860h2v1h-2zM1476 859h2v1h-2zM1478 858h3v1h-3zM1481 857h2v1h-2zM1483 856h2v1h-2zM1485 855h2v1h-2zM1487 854h2v1h-2zM1489 853h10v1h-10zM1499 852h2v1h-2zM1501 851h2v1h-2zM1503 850h2v1h-2zM1505 849h3v1h-3zM1508 848h2v1h-2zM1510 847h3v1h-3zM1513 846h3v1h-3zM1516 847h2v1h-2zM1518 848h3v1h-3zM1521 849h2v1h-2zM1523 850h1v1h-1zM1524 851h1v1h-1zM1525 852h1v1h-1zM1526 853h1v1h-1zM1527 854h1v1h-1zM1528 855h1v1h-1zM1529 856h1v1h-1zM1530 857h2v1h-2zM1532 858h4v1h-4zM1536 859h4v1h-4zM1540 858h4v1h-4zM1544 857h4v1h-4zM1548 856h4v1h-4zM1552 855h3v1h-3zM1555 854h1v1h-1zM1556 853h2v1h-2zM1558 852h1v1h-1zM1559 851h1v1h-1zM1560 850h2v1h-2zM1562 849h1v1h-1zM1563 850h1v2h-1zM1564 852h1v1h-1zM1565 853h1v2h-1zM1566 855h1v1h-1zM1567 856h1v2h-1zM1568 858h1v1h-1zM1569 859h1v2h-1zM1570 861h4v1h-4zM1574 860h5v1h-5zM1579 861h1v1h-1zM1580 862h2v1h-2zM1582 863h1v1h-1zM1583 864h1v1h-1zM1584 865h2v1h-2zM1586 866h4v1h-4zM1590 865h6v1h-6zM1596 866h4v1h-4zM1600 867h3v1h-3zM1603 866h2v1h-2zM1605 865h1v1h-1zM1606 864h2v1h-2zM1608 863h2v1h-2zM1610 862h4v1h-4zM1614 861h6v1h-6zM1620 862h2v1h-2zM1622 863h3v1h-3zM1625 864h2v1h-2zM1627 865h1v1h-1zM1628 866h1v1h-1zM1629 867h1v1h-1zM1630 868h2v1h-2zM1632 869h1v1h-1zM1633 870h1v1h-1zM1634 871h17v1h-17zM1651 870h2v1h-2zM1653 869h2v1h-2zM1655 868h2v1h-2zM1657 867h3v1h-3zM1660 866h4v1h-4zM1664 865h3v1h-3zM1667 864h1v1h-1zM1668 863h1v1h-1zM1669 862h1v1h-1zM1670 861h1v1h-1zM1671 860h1v1h-1zM1672 859h1v1h-1zM1673 858h1v1h-1zM1674 857h2v1h-2zM1676 856h4v1h-4zM1680 855h3v1h-3z"/>
</g>
<g clip-path="url(#cs)">
<path shape-rendering="crispEdges" fill="#ff0000" d="M2 960h2v1h-2zM4 961h1v1h-1zM8 962h3v1h-3zM14 962h3v1h-3zM20 964h2v1h-2zM22 965h1v1h-1zM26 968h1v1h-1zM27 969h2v1h-2zM32 972h2v1h-2zM34 973h1v1h-1zM37 977h1v2h-1zM38 979h1v1h-1zM41 983h1v2h-1zM42 985h1v1h-1zM46 989h1v2h-1zM47 991h1v1h-1zM51 995h1v1h-1zM52 996h1v1h-1zM53 997h1v1h-1zM56 1001h1v1h-1zM57 1002h1v1h-1zM58 1003h1v1h-1zM62 1002h3v1h-3zM68 1001h1v1h-1zM69 1000h2v1h-2zM74 998h1v1h-1zM75 997h1v1h-1zM76 996h1v1h-1zM79 992h1v1h-1zM80 990h1v2h-1zM83 986h1v1h-1zM84 984h1v2h-1zM87 979h1v2h-1zM88 978h1v1h-1zM90 973h1v2h-1zM91 972h1v1h-1zM93 967h1v2h-1zM94 966h1v1h-1zM96 961h1v2h-1zM97 960h1v1h-1zM99 955h1v2h-1zM100 954h1v1h-1zM102 949h1v2h-1zM103 948h1v1h-1zM105 943h1v2h-1zM106 942h1v1h-1zM110 937h1v2h-1zM111 936h1v1h-1zM115 933h3v1h-3zM121 933h2v1h-2zM123 934h1v1h-1zM127 937h1v1h-1zM128 938h2v1h-2zM133 942h1v1h-1zM134 943h2v1h-2zM139 947h2v1h-2zM141 948h1v1h-1zM145 950h3v1h-3zM151 949h3v1h-3zM157 949h3v1h-3zM163 949h1v1h-1zM164 948h2v1h-2zM169 946h3v1h-3zM175 944h2v1h-2zM177 943h1v1h-1zM181 943h1v1h-1zM182 942h2v1h-2zM187 943h1v2h-1zM188 945h1v1h-1zM191 949h1v2h-1zM192 951h1v1h-1zM195 955h1v2h-1zM196 957h1v1h-1zM199 961h1v2h-1zM200 963h1v1h-1zM203 967h2v1h-2zM205 968h1v1h-1zM209 970h1v1h-1zM210 971h2v1h-2zM215 970h1v1h-1zM216 969h2v1h-2zM221 970h1v1h-1zM222 971h2v1h-2zM227 973h1v2h-1zM228 975h1v1h-1zM230 979h1v2h-1zM231 981h1v1h-1zM233 985h1v2h-1zM234 987h1v1h-1zM237 991h1v1h-1zM238 992h1v1h-1zM239 993h1v1h-1zM242 997h3v1h-3zM248 998h3v1h-3zM252 994h1v1h-1zM253 992h1v2h-1zM255 988h1v1h-1zM256 986h1v2h-1zM258 982h1v1h-1zM259 980h1v2h-1zM262 975h1v2h-1zM263 974h1v1h-1zM265 970h1v1h-1zM266 969h1v1h-1zM267 968h1v1h-1zM269 963h1v2h-1zM270 962h1v1h-1zM272 957h1v2h-1zM273 956h1v1h-1zM275 952h2v1h-2zM277 951h1v1h-1zM281 949h1v1h-1zM282 948h1v1h-1zM283 947h1v1h-1zM287 945h1v1h-1zM288 944h2v1h-2zM293 945h1v1h-1zM294 946h2v1h-2zM299 949h2v1h-2zM301 950h1v1h-1zM305 952h1v1h-1zM306 953h1v1h-1zM307 954h1v1h-1zM310 958h1v1h-1zM311 959h1v1h-1zM312 960h1v1h-1zM315 963h3v1h-3zM321 963h2v1h-2zM323 962h1v1h-1zM327 960h1v1h-1zM328 959h2v1h-2zM332 955h1v1h-1zM333 953h1v2h-1zM336 949h1v1h-1zM337 947h1v2h-1zM341 944h1v1h-1zM342 943h1v1h-1zM343 942h1v1h-1zM347 940h1v1h-1zM348 939h2v1h-2zM353 937h2v1h-2zM355 938h1v1h-1zM358 942h1v1h-1zM359 943h1v1h-1zM360 944h1v1h-1zM364 947h1v1h-1zM365 948h1v1h-1zM366 949h1v1h-1zM370 951h1v1h-1zM371 952h1v1h-1zM372 953h1v1h-1zM375 957h1v1h-1zM376 958h1v1h-1zM377 959h1v1h-1zM381 962h1v1h-1zM382 963h2v1h-2zM387 966h1v2h-1zM388 968h1v1h-1zM390 972h1v2h-1zM391 974h1v1h-1zM393 978h1v2h-1zM394 980h1v1h-1zM396 984h1v2h-1zM397 986h1v1h-1zM399 990h1v2h-1zM400 992h1v1h-1zM402 996h1v1h-1zM403 997h1v1h-1zM404 998h1v1h-1zM408 1001h1v1h-1zM409 1002h1v1h-1zM410 1003h1v1h-1zM414 1001h3v1h-3zM420 998h1v1h-1zM421 997h1v1h-1zM422 996h1v1h-1zM426 993h1v1h-1zM427 992h1v1h-1zM428 991h1v1h-1zM432 988h2v1h-2zM434 987h1v1h-1zM438 983h2v1h-2zM440 982h1v1h-1zM444 979h3v1h-3zM450 978h1v1h-1zM451 979h2v1h-2zM456 982h2v1h-2zM458 983h1v1h-1zM462 986h2v1h-2zM464 987h1v1h-1zM468 987h2v1h-2zM470 986h1v1h-1zM474 984h1v2h-1zM475 983h1v1h-1zM477 978h1v2h-1zM478 977h1v1h-1zM479 973h1v1h-1zM480 971h1v2h-1zM482 966h1v2h-1zM483 965h1v1h-1zM484 961h1v1h-1zM485 959h1v2h-1zM487 954h1v2h-1zM488 953h1v1h-1zM489 949h1v1h-1zM490 947h1v2h-1zM492 943h1v1h-1zM493 941h1v2h-1zM496 936h1v2h-1zM497 935h1v1h-1zM500 932h1v1h-1zM501 931h2v1h-2zM506 929h3v1h-3zM512 930h3v1h-3zM518 933h2v1h-2zM520 934h1v1h-1zM524 937h1v1h-1zM525 938h1v1h-1zM526 939h1v1h-1zM529 943h1v1h-1zM530 944h1v1h-1zM531 945h1v1h-1zM534 949h1v1h-1zM535 950h1v1h-1zM536 951h1v1h-1zM539 955h1v2h-1zM540 957h1v1h-1zM542 961h1v3h-1zM544 967h1v1h-1zM545 968h1v2h-1zM547 973h1v2h-1zM548 975h1v1h-1zM550 979h1v3h-1zM552 985h1v1h-1zM553 986h1v2h-1zM555 991h1v2h-1zM556 993h1v1h-1zM557 997h1v2h-1zM558 999h1v1h-1zM559 1003h1v1h-1zM560 1004h1v2h-1zM562 1009h1v2h-1zM563 1011h1v1h-1zM566 1015h1v1h-1zM567 1016h1v1h-1zM568 1017h1v1h-1zM572 1020h2v1h-2zM574 1021h1v1h-1zM578 1022h2v1h-2zM580 1021h1v1h-1zM584 1020h3v1h-3zM590 1017h1v1h-1zM591 1016h1v1h-1zM592 1015h1v1h-1zM596 1011h1v2h-1zM597 1010h1v1h-1zM600 1006h1v1h-1zM601 1005h1v1h-1zM602 1004h1v1h-1zM604 998h1v3h-1zM606 993h1v2h-1zM607 992h1v1h-1zM608 987h1v2h-1zM609 986h1v1h-1zM610 982h1v1h-1zM611 980h1v2h-1zM613 976h1v1h-1zM614 974h1v2h-1zM616 969h1v2h-1zM617 968h1v1h-1zM619 964h1v1h-1zM620 963h1v1h-1zM621 962h1v1h-1zM625 958h1v1h-1zM626 957h1v1h-1zM627 958h1v1h-1zM630 962h1v2h-1zM631 964h1v1h-1zM634 968h1v2h-1zM635 970h1v1h-1zM637 974h1v2h-1zM638 976h1v1h-1zM639 980h1v1h-1zM640 981h1v2h-1zM642 986h1v2h-1zM643 988h1v1h-1zM644 992h1v1h-1zM645 993h1v2h-1zM647 998h1v2h-1zM648 1000h1v1h-1zM649 1004h1v1h-1zM650 1005h1v2h-1zM653 1010h1v1h-1zM654 1011h1v2h-1zM657 1016h1v1h-1zM658 1017h2v1h-2zM663 1016h3v1h-3zM667 1013h1v1h-1zM668 1011h1v2h-1zM670 1007h1v1h-1zM671 1005h1v2h-1zM673 1001h1v1h-1zM674 999h1v2h-1zM675 994h1v2h-1zM676 993h1v1h-1zM677 988h1v2h-1zM678 987h1v1h-1zM679 981h1v3h-1zM681 975h1v3h-1zM682 971h1v1h-1zM683 969h1v2h-1zM684 965h1v1h-1zM685 963h1v2h-1zM687 957h1v3h-1zM689 951h1v3h-1zM691 947h1v1h-1zM692 945h1v2h-1zM695 941h1v1h-1zM696 939h1v2h-1zM699 935h2v1h-2zM701 934h1v1h-1zM705 932h3v1h-3zM711 933h3v1h-3zM717 934h1v1h-1zM718 935h2v1h-2zM723 937h2v1h-2zM725 938h1v1h-1zM729 940h3v1h-3zM735 942h2v1h-2zM737 943h1v1h-1zM741 946h1v1h-1zM742 947h2v1h-2zM746 951h1v1h-1zM747 952h1v2h-1zM749 957h1v1h-1zM750 958h1v2h-1zM752 963h1v2h-1zM753 965h1v1h-1zM754 969h1v1h-1zM755 970h1v2h-1zM757 975h1v3h-1zM759 981h1v2h-1zM760 983h1v1h-1zM761 987h1v1h-1zM762 988h1v2h-1zM764 993h1v1h-1zM765 994h1v2h-1zM768 999h1v2h-1zM769 1001h1v1h-1zM772 1002h3v1h-3zM778 1001h1v1h-1zM779 1000h1v1h-1zM780 999h1v1h-1zM783 995h1v1h-1zM784 994h1v1h-1zM785 993h1v1h-1zM789 989h1v1h-1zM790 987h1v2h-1zM794 983h2v1h-2zM796 982h1v1h-1zM800 981h3v1h-3zM806 983h3v1h-3zM812 986h1v2h-1zM813 988h1v1h-1zM816 992h1v1h-1zM817 993h1v1h-1zM818 994h1v1h-1zM822 998h1v2h-1zM823 1000h1v1h-1zM827 1004h2v1h-2zM829 1005h1v1h-1zM833 1007h2v1h-2zM835 1006h1v1h-1zM839 1002h1v1h-1zM840 1001h1v1h-1zM841 1000h1v1h-1zM844 996h1v1h-1zM845 995h1v1h-1zM846 994h1v1h-1zM849 989h1v2h-1zM850 988h1v1h-1zM854 983h1v2h-1zM855 982h1v1h-1zM859 979h3v1h-3zM865 978h2v1h-2zM867 979h1v1h-1zM871 982h1v1h-1zM872 983h1v1h-1zM873 984h1v1h-1zM877 987h2v1h-2zM879 988h1v1h-1zM883 989h3v1h-3zM889 989h3v1h-3zM895 988h1v1h-1zM896 987h2v1h-2zM901 990h1v1h-1zM902 991h1v2h-1zM906 996h1v1h-1zM907 997h1v2h-1zM909 1002h1v1h-1zM910 1003h1v1h-1zM911 1004h1v1h-1zM913 1008h1v2h-1zM914 1010h1v1h-1zM918 1014h1v2h-1zM919 1016h1v1h-1zM923 1019h3v1h-3zM929 1019h2v1h-2zM931 1018h1v1h-1zM934 1014h1v1h-1zM935 1013h1v1h-1zM936 1012h1v1h-1zM939 1007h1v2h-1zM940 1006h1v1h-1zM943 1001h1v2h-1zM944 1000h1v1h-1zM946 996h1v1h-1zM947 994h1v2h-1zM949 989h1v2h-1zM950 988h1v1h-1zM951 984h1v1h-1zM952 982h1v2h-1zM954 976h1v3h-1zM956 972h1v1h-1zM957 970h1v2h-1zM959 966h1v1h-1zM960 964h1v2h-1zM962 960h1v1h-1zM963 959h1v1h-1zM964 958h1v1h-1zM967 954h1v1h-1zM968 952h1v2h-1zM972 950h3v1h-3zM978 950h1v1h-1zM979 951h2v1h-2zM984 953h1v1h-1zM985 954h2v1h-2zM990 958h2v1h-2zM992 959h1v1h-1zM996 963h1v1h-1zM997 964h1v1h-1zM998 965h1v1h-1zM1001 969h1v1h-1zM1002 970h1v2h-1zM1004 975h1v2h-1zM1005 977h1v1h-1zM1006 981h1v1h-1zM1007 982h1v2h-1zM1009 987h1v2h-1zM1010 989h1v1h-1zM1011 993h1v1h-1zM1012 994h1v2h-1zM1014 999h1v2h-1zM1015 1001h1v1h-1zM1016 1005h1v1h-1zM1017 1006h1v2h-1zM1019 1011h1v1h-1zM1020 1012h1v1h-1zM1021 1013h1v1h-1zM1023 1017h1v1h-1zM1024 1018h1v1h-1zM1025 1019h1v1h-1zM1028 1021h2v1h-2zM1030 1022h1v1h-1zM1034 1022h3v1h-3zM1040 1022h3v1h-3zM1046 1023h3v1h-3zM1052 1023h3v1h-3zM1058 1023h1v1h-1zM1059 1022h2v1h-2zM1064 1019h2v1h-2zM1066 1018h1v1h-1zM1068 1014h1v1h-1zM1069 1012h1v2h-1zM1071 1008h1v1h-1zM1072 1006h1v2h-1zM1074 1002h1v1h-1zM1075 1000h1v2h-1zM1076 996h1v1h-1zM1077 994h1v2h-1zM1079 988h1v3h-1zM1081 982h1v3h-1zM1083 977h1v2h-1zM1084 976h1v1h-1zM1085 971h1v2h-1zM1086 970h1v1h-1zM1087 966h1v1h-1zM1088 964h1v2h-1zM1090 959h1v2h-1zM1091 958h1v1h-1zM1095 955h1v1h-1zM1096 954h1v1h-1zM1097 953h1v1h-1zM1100 955h1v1h-1zM1101 956h1v1h-1zM1102 957h1v1h-1zM1105 961h1v1h-1zM1106 962h1v2h-1zM1108 967h1v1h-1zM1109 968h1v2h-1zM1111 973h1v1h-1zM1112 974h1v2h-1zM1114 979h1v1h-1zM1115 980h1v1h-1zM1116 981h1v1h-1zM1119 985h1v1h-1zM1120 986h1v1h-1zM1121 987h1v1h-1zM1125 986h2v1h-2zM1127 985h1v1h-1zM1131 982h1v2h-1zM1132 981h1v1h-1zM1134 976h1v2h-1zM1135 975h1v1h-1zM1137 970h1v2h-1zM1138 969h1v1h-1zM1140 964h1v2h-1zM1141 963h1v1h-1zM1143 959h1v1h-1zM1144 957h1v2h-1zM1147 953h1v1h-1zM1148 952h1v1h-1zM1149 951h1v1h-1zM1153 948h1v1h-1zM1154 947h1v1h-1zM1155 948h1v1h-1zM1158 952h1v1h-1zM1159 953h1v1h-1zM1160 954h1v1h-1zM1163 958h1v1h-1zM1164 959h1v2h-1zM1167 964h1v2h-1zM1168 966h1v1h-1zM1170 970h1v1h-1zM1171 971h1v2h-1zM1173 976h1v1h-1zM1174 977h1v2h-1zM1176 982h1v1h-1zM1177 983h1v2h-1zM1180 986h3v1h-3zM1186 986h1v1h-1zM1187 985h1v1h-1zM1188 984h1v1h-1zM1191 980h1v1h-1zM1192 978h1v2h-1zM1195 974h1v1h-1zM1196 972h1v2h-1zM1199 968h1v1h-1zM1200 966h1v2h-1zM1203 962h2v1h-2zM1205 961h1v1h-1zM1209 959h1v1h-1zM1210 958h2v1h-2zM1215 960h2v1h-2zM1217 961h1v1h-1zM1221 964h1v1h-1zM1222 965h2v1h-2zM1227 969h1v1h-1zM1228 970h1v1h-1zM1229 971h1v1h-1zM1233 974h1v1h-1zM1234 975h1v1h-1zM1235 976h1v1h-1zM1238 980h1v1h-1zM1239 981h1v1h-1zM1240 982h1v1h-1zM1243 986h1v1h-1zM1244 987h1v1h-1zM1245 988h1v1h-1zM1249 991h1v1h-1zM1250 992h1v1h-1zM1251 991h1v1h-1zM1255 988h1v1h-1zM1256 987h2v1h-2zM1260 982h1v2h-1zM1261 981h1v1h-1zM1263 976h1v2h-1zM1264 975h1v1h-1zM1266 969h1v3h-1zM1268 965h1v1h-1zM1269 963h1v2h-1zM1271 958h1v2h-1zM1272 957h1v1h-1zM1274 952h1v2h-1zM1275 951h1v1h-1zM1279 948h1v1h-1zM1280 947h2v1h-2zM1285 946h3v1h-3zM1291 947h2v1h-2zM1293 948h1v1h-1zM1297 950h3v1h-3zM1303 951h1v1h-1zM1304 952h2v1h-2zM1309 953h3v1h-3zM1315 954h1v1h-1zM1316 955h2v1h-2zM1321 957h3v1h-3zM1327 958h1v1h-1zM1328 959h2v1h-2zM1333 957h1v1h-1zM1334 956h2v1h-2zM1339 953h1v1h-1zM1340 952h1v1h-1zM1341 951h1v1h-1zM1345 947h1v1h-1zM1346 946h1v1h-1zM1347 945h1v1h-1zM1351 942h1v1h-1zM1352 941h1v1h-1zM1353 940h1v1h-1zM1357 939h3v1h-3zM1363 939h1v1h-1zM1364 940h2v1h-2zM1369 942h2v1h-2zM1371 943h1v1h-1zM1375 945h1v1h-1zM1376 946h2v1h-2zM1381 950h1v1h-1zM1382 951h1v2h-1zM1386 956h1v1h-1zM1387 957h1v1h-1zM1388 958h1v1h-1zM1392 962h1v1h-1zM1393 963h1v1h-1zM1394 964h1v1h-1zM1398 967h2v1h-2zM1400 968h1v1h-1zM1404 970h1v1h-1zM1405 971h2v1h-2zM1410 973h1v1h-1zM1411 974h2v1h-2zM1416 976h1v1h-1zM1417 977h2v1h-2zM1422 981h1v2h-1zM1423 983h1v1h-1zM1427 987h1v1h-1zM1428 988h2v1h-2zM1433 991h1v1h-1zM1434 992h2v1h-2zM1439 993h3v1h-3zM1445 993h1v1h-1zM1446 992h2v1h-2zM1451 992h1v1h-1zM1452 991h2v1h-2zM1457 989h3v1h-3zM1463 988h1v1h-1zM1464 987h2v1h-2zM1468 984h1v1h-1zM1469 983h1v1h-1zM1470 982h1v1h-1zM1473 978h1v1h-1zM1474 977h1v1h-1zM1475 976h1v1h-1zM1477 971h1v2h-1zM1478 970h1v1h-1zM1480 965h1v2h-1zM1481 964h1v1h-1zM1483 960h1v1h-1zM1484 959h1v1h-1zM1485 958h1v1h-1zM1487 954h1v1h-1zM1488 953h1v1h-1zM1489 952h1v1h-1zM1492 948h1v1h-1zM1493 947h1v1h-1zM1494 946h1v1h-1zM1497 942h1v1h-1zM1498 941h1v1h-1zM1499 940h1v1h-1zM1503 938h2v1h-2zM1505 937h1v1h-1zM1509 936h1v1h-1zM1510 935h2v1h-2zM1515 934h1v1h-1zM1516 935h2v1h-2zM1521 936h2v1h-2zM1523 937h1v1h-1zM1527 940h1v1h-1zM1528 941h1v1h-1zM1529 942h1v1h-1zM1532 946h1v2h-1zM1533 948h1v1h-1zM1535 952h1v2h-1zM1536 954h1v1h-1zM1538 958h1v3h-1zM1540 964h1v2h-1zM1541 966h1v1h-1zM1542 970h1v2h-1zM1543 972h1v1h-1zM1544 976h1v1h-1zM1545 977h1v2h-1zM1547 982h1v2h-1zM1548 984h1v1h-1zM1550 988h1v1h-1zM1551 989h1v1h-1zM1552 990h1v1h-1zM1554 994h1v1h-1zM1555 993h1v1h-1zM1556 992h1v1h-1zM1560 989h1v1h-1zM1561 988h1v1h-1zM1562 987h1v1h-1zM1564 983h1v1h-1zM1565 982h1v1h-1zM1566 981h1v1h-1zM1568 977h1v1h-1zM1569 975h1v2h-1zM1573 971h1v1h-1zM1574 970h2v1h-2zM1579 968h1v2h-1zM1580 970h1v1h-1zM1582 974h1v1h-1zM1583 975h1v2h-1zM1585 980h1v1h-1zM1586 981h1v1h-1zM1587 982h1v1h-1zM1589 986h1v2h-1zM1590 988h1v1h-1zM1592 992h1v2h-1zM1593 994h1v1h-1zM1595 998h1v1h-1zM1596 999h1v2h-1zM1598 1004h1v1h-1zM1599 1005h1v2h-1zM1601 1010h1v1h-1zM1602 1011h2v1h-2zM1607 1010h3v1h-3zM1613 1007h1v1h-1zM1614 1005h1v2h-1zM1618 1000h1v2h-1zM1619 999h1v1h-1zM1621 994h1v2h-1zM1622 993h1v1h-1zM1624 988h1v2h-1zM1625 987h1v1h-1zM1627 983h2v1h-2zM1629 982h1v1h-1zM1633 980h2v1h-2zM1635 981h1v1h-1zM1639 984h1v1h-1zM1640 985h2v1h-2zM1644 989h1v1h-1zM1645 990h1v2h-1zM1648 995h1v1h-1zM1649 996h1v2h-1zM1653 998h1v1h-1zM1654 997h2v1h-2zM1659 995h1v2h-1zM1660 994h1v1h-1zM1663 990h1v1h-1zM1664 989h1v1h-1zM1665 988h1v1h-1zM1667 983h1v2h-1zM1668 982h1v1h-1zM1670 976h1v3h-1zM1672 972h1v1h-1zM1673 970h1v2h-1zM1675 965h1v2h-1zM1676 964h1v1h-1zM1678 958h1v3h-1zM1680 954h1v1h-1zM1681 952h1v2h-1z"/>
<path shape-rendering="crispEdges" fill="#20b2aa" d="M2 960h1v1h-1zM3 961h2v1h-2zM5 962h1v1h-1zM6 963h2v1h-2zM8 964h2v1h-2zM10 965h2v1h-2zM12 964h4v1h-4zM16 963h3v1h-3zM19 964h1v2h-1zM20 966h1v2h-1zM21 968h1v1h-1zM22 969h1v2h-1zM23 971h1v1h-1zM24 972h1v2h-1zM25 974h1v2h-1zM26 976h2v1h-2zM28 977h2v1h-2zM30 978h3v1h-3zM33 979h2v1h-2zM34 980h1v1h-1zM35 981h1v2h-1zM36 983h1v3h-1zM37 986h1v3h-1zM38 989h1v2h-1zM39 991h1v3h-1zM40 994h1v3h-1zM41 997h1v2h-1zM42 999h1v2h-1zM43 1001h2v1h-2zM45 1002h2v1h-2zM47 1003h2v1h-2zM49 1004h3v1h-3zM52 1005h4v1h-4zM56 1006h3v1h-3zM59 1005h1v1h-1zM60 1003h1v2h-1zM61 1002h1v1h-1zM62 1001h1v1h-1zM63 1000h1v1h-1zM64 998h1v2h-1zM65 997h1v1h-1zM66 996h1v1h-1zM67 995h2v1h-2zM69 994h2v1h-2zM71 993h2v1h-2zM73 992h2v1h-2zM75 990h1v2h-1zM76 988h1v2h-1zM77 986h1v2h-1zM78 984h1v2h-1zM79 982h1v2h-1zM80 980h1v2h-1zM81 978h1v2h-1zM82 975h1v3h-1zM83 972h1v3h-1zM84 970h1v2h-1zM85 967h1v3h-1zM86 964h1v3h-1zM87 961h1v3h-1zM88 959h1v2h-1zM89 956h1v3h-1zM90 954h1v2h-1zM91 952h1v2h-1zM92 950h1v2h-1zM93 949h1v1h-1zM94 947h1v2h-1zM95 946h1v1h-1zM96 944h1v2h-1zM97 942h1v2h-1zM98 941h1v1h-1zM99 940h1v1h-1zM100 938h1v2h-1zM101 937h1v1h-1zM102 936h1v1h-1zM103 935h1v1h-1zM104 933h1v2h-1zM105 932h1v1h-1zM106 931h2v1h-2zM108 930h2v1h-2zM110 929h3v1h-3zM113 928h2v1h-2zM115 929h1v2h-1zM116 931h1v1h-1zM117 932h1v2h-1zM118 934h1v1h-1zM119 935h1v2h-1zM120 937h1v1h-1zM121 938h1v2h-1zM122 940h1v1h-1zM123 941h1v1h-1zM124 942h1v1h-1zM125 943h1v1h-1zM126 944h1v2h-1zM127 946h1v1h-1zM128 947h1v1h-1zM129 948h1v1h-1zM130 949h10v1h-10zM140 950h4v1h-4zM144 951h4v1h-4zM148 950h2v1h-2zM150 949h3v1h-3zM153 948h5v1h-5zM158 949h5v1h-5zM163 948h1v1h-1zM164 947h1v1h-1zM165 946h1v1h-1zM166 945h1v1h-1zM167 944h1v1h-1zM168 943h1v1h-1zM169 942h1v1h-1zM170 941h2v1h-2zM172 940h4v1h-4zM176 939h3v1h-3zM179 940h1v1h-1zM180 941h1v1h-1zM181 942h1v1h-1zM182 943h1v2h-1zM183 945h1v1h-1zM184 946h1v1h-1zM185 947h1v1h-1zM186 948h1v2h-1zM187 950h1v3h-1zM188 953h1v4h-1zM189 957h1v3h-1zM190 960h1v3h-1zM191 963h1v3h-1zM192 966h1v4h-1zM193 970h1v3h-1zM194 973h1v2h-1zM195 974h1v1h-1zM196 975h4v1h-4zM200 976h3v1h-3zM203 974h1v2h-1zM204 973h1v1h-1zM205 971h1v2h-1zM206 970h1v1h-1zM207 968h1v2h-1zM208 967h1v1h-1zM209 965h1v2h-1zM210 964h1v1h-1zM211 965h2v1h-2zM213 966h2v1h-2zM215 967h2v1h-2zM217 968h2v1h-2zM218 969h1v1h-1zM219 970h1v2h-1zM220 972h1v2h-1zM221 974h1v2h-1zM222 976h1v2h-1zM223 978h1v2h-1zM224 980h1v2h-1zM225 982h1v2h-1zM226 984h1v3h-1zM227 987h1v3h-1zM228 990h1v3h-1zM229 993h1v3h-1zM230 996h1v2h-1zM231 998h1v3h-1zM232 1001h1v3h-1zM233 1004h1v3h-1zM234 1007h1v2h-1zM235 1006h1v2h-1zM236 1005h1v1h-1zM237 1004h1v1h-1zM238 1002h1v2h-1zM239 1001h1v1h-1zM240 1000h1v1h-1zM241 998h1v2h-1zM242 997h1v1h-1zM243 996h1v1h-1zM244 995h1v1h-1zM245 994h1v1h-1zM246 992h1v2h-1zM247 991h1v1h-1zM248 990h1v1h-1zM249 989h1v1h-1zM250 987h1v2h-1zM251 984h1v3h-1zM252 980h1v4h-1zM253 977h1v3h-1zM254 974h1v3h-1zM255 971h1v3h-1zM256 967h1v4h-1zM257 964h1v3h-1zM258 962h1v2h-1zM259 961h2v1h-2zM261 960h1v1h-1zM262 959h2v1h-2zM264 958h2v1h-2zM266 957h1v1h-1zM267 955h1v2h-1zM268 953h1v2h-1zM269 951h1v2h-1zM270 949h1v2h-1zM271 947h1v2h-1zM272 945h1v2h-1zM273 943h1v2h-1zM274 941h1v2h-1zM275 942h2v1h-2zM277 943h1v1h-1zM278 944h2v1h-2zM280 945h2v1h-2zM282 946h1v1h-1zM283 945h2v1h-2zM285 944h1v1h-1zM286 943h2v1h-2zM288 942h2v1h-2zM290 941h1v1h-1zM291 942h1v2h-1zM292 944h1v2h-1zM293 946h1v2h-1zM294 948h1v2h-1zM295 950h1v2h-1zM296 952h1v2h-1zM297 954h1v2h-1zM298 956h1v1h-1zM299 957h1v1h-1zM300 958h2v1h-2zM302 959h1v1h-1zM303 960h1v1h-1zM304 961h2v1h-2zM306 962h1v1h-1zM307 963h1v1h-1zM308 964h1v1h-1zM309 965h1v1h-1zM310 966h1v2h-1zM311 968h1v1h-1zM312 969h1v1h-1zM313 970h1v1h-1zM314 971h1v1h-1zM315 969h1v2h-1zM316 967h1v2h-1zM317 965h1v2h-1zM318 963h1v2h-1zM319 961h1v2h-1zM320 959h1v2h-1zM321 957h1v2h-1zM322 956h1v1h-1zM323 955h1v1h-1zM324 954h1v1h-1zM325 953h1v1h-1zM326 951h1v2h-1zM327 950h1v1h-1zM328 949h1v1h-1zM329 948h1v1h-1zM330 947h1v1h-1zM331 945h1v2h-1zM332 944h1v1h-1zM333 942h1v2h-1zM334 941h1v1h-1zM335 939h1v2h-1zM336 938h1v1h-1zM337 936h1v2h-1zM338 935h2v1h-2zM340 936h4v1h-4zM344 937h6v1h-6zM350 938h5v1h-5zM354 939h1v1h-1zM355 940h1v3h-1zM356 943h1v3h-1zM357 946h1v3h-1zM358 949h1v3h-1zM359 952h1v3h-1zM360 955h1v3h-1zM361 958h1v3h-1zM362 961h1v2h-1zM363 961h1v1h-1zM364 960h1v1h-1zM365 959h1v1h-1zM366 957h1v2h-1zM367 956h1v1h-1zM368 955h1v1h-1zM369 954h1v1h-1zM370 953h1v1h-1zM371 954h1v2h-1zM372 956h1v1h-1zM373 957h1v2h-1zM374 959h1v1h-1zM375 960h1v2h-1zM376 962h1v1h-1zM377 963h1v2h-1zM378 965h1v1h-1zM379 966h1v2h-1zM380 968h1v1h-1zM381 969h1v2h-1zM382 971h1v1h-1zM383 972h1v2h-1zM384 974h1v1h-1zM385 975h1v2h-1zM386 977h1v2h-1zM387 979h1v3h-1zM388 982h1v3h-1zM389 985h1v3h-1zM390 988h1v4h-1zM391 992h1v3h-1zM392 995h1v3h-1zM393 998h1v3h-1zM394 1001h1v2h-1zM395 1003h1v1h-1zM396 1004h2v1h-2zM398 1005h1v1h-1zM399 1006h1v1h-1zM400 1007h2v1h-2zM402 1008h1v1h-1zM403 1007h1v1h-1zM404 1006h1v1h-1zM405 1005h1v1h-1zM406 1004h1v1h-1zM407 1003h1v1h-1zM408 1002h1v1h-1zM409 1001h1v1h-1zM410 1000h1v1h-1zM411 999h1v1h-1zM412 998h1v1h-1zM413 997h1v1h-1zM414 996h2v1h-2zM416 995h1v1h-1zM417 994h1v1h-1zM418 993h1v1h-1zM419 992h1v1h-1zM420 991h1v1h-1zM421 990h1v1h-1zM422 989h2v1h-2zM424 988h1v1h-1zM425 987h1v1h-1zM426 986h1v1h-1zM427 985h2v1h-2zM429 984h1v1h-1zM430 983h2v1h-2zM432 982h2v1h-2zM434 981h1v1h-1zM435 980h1v1h-1zM436 979h1v1h-1zM437 978h1v1h-1zM438 977h1v1h-1zM439 976h1v1h-1zM440 975h1v1h-1zM441 974h1v1h-1zM442 973h1v1h-1zM443 974h1v1h-1zM444 975h2v1h-2zM446 976h1v1h-1zM447 977h1v1h-1zM448 978h2v1h-2zM450 979h1v2h-1zM451 981h1v2h-1zM452 983h1v2h-1zM453 985h1v2h-1zM454 987h1v3h-1zM455 990h1v2h-1zM456 992h1v2h-1zM457 994h1v2h-1zM458 996h1v2h-1zM459 996h1v1h-1zM460 995h1v1h-1zM461 994h1v1h-1zM462 993h1v1h-1zM463 992h1v1h-1zM464 991h1v1h-1zM465 990h1v1h-1zM466 988h1v2h-1zM467 986h1v2h-1zM468 984h1v2h-1zM469 981h1v3h-1zM470 979h1v2h-1zM471 976h1v3h-1zM472 974h1v2h-1zM473 972h1v2h-1zM474 969h1v3h-1zM475 965h1v4h-1zM476 961h1v4h-1zM477 958h1v3h-1zM478 954h1v4h-1zM479 951h1v3h-1zM480 947h1v4h-1zM481 943h1v4h-1zM482 941h1v2h-1zM483 939h1v2h-1zM484 938h1v1h-1zM485 937h1v1h-1zM486 935h1v2h-1zM487 934h1v1h-1zM488 933h1v1h-1zM489 931h1v2h-1zM490 930h2v1h-2zM492 929h2v1h-2zM494 928h3v1h-3zM497 927h3v1h-3zM500 928h2v1h-2zM502 929h3v1h-3zM505 930h3v1h-3zM508 931h2v1h-2zM510 932h3v1h-3zM513 933h2v1h-2zM515 934h1v1h-1zM516 935h1v2h-1zM517 937h1v1h-1zM518 938h1v1h-1zM519 939h1v1h-1zM520 940h1v2h-1zM521 942h1v1h-1zM522 943h1v1h-1zM523 944h1v2h-1zM524 946h1v1h-1zM525 947h1v1h-1zM526 948h1v2h-1zM527 950h1v1h-1zM528 951h1v1h-1zM529 952h1v2h-1zM530 954h1v1h-1zM531 955h1v1h-1zM532 956h1v1h-1zM533 957h1v1h-1zM534 958h1v2h-1zM535 960h1v1h-1zM536 961h1v1h-1zM537 962h1v1h-1zM538 963h1v2h-1zM539 965h1v4h-1zM540 969h1v4h-1zM541 973h1v4h-1zM542 977h1v4h-1zM543 981h1v4h-1zM544 985h1v4h-1zM545 989h1v4h-1zM546 993h1v3h-1zM547 996h1v2h-1zM548 998h1v2h-1zM549 1000h1v2h-1zM550 1002h1v2h-1zM551 1004h1v2h-1zM552 1006h1v2h-1zM553 1008h1v2h-1zM554 1010h1v1h-1zM555 1011h1v2h-1zM556 1013h1v2h-1zM557 1015h1v2h-1zM558 1017h1v1h-1zM559 1018h1v2h-1zM560 1020h1v2h-1zM561 1022h1v2h-1zM562 1024h4v1h-4zM566 1023h5v1h-5zM571 1022h2v1h-2zM573 1021h2v1h-2zM575 1020h2v1h-2zM577 1019h10v1h-10zM587 1017h1v2h-1zM588 1015h1v2h-1zM589 1013h1v2h-1zM590 1011h1v2h-1zM591 1009h1v2h-1zM592 1007h1v2h-1zM593 1005h1v2h-1zM594 1004h1v1h-1zM595 1002h1v2h-1zM596 1000h1v2h-1zM597 998h1v2h-1zM598 996h1v2h-1zM599 994h1v2h-1zM600 992h1v2h-1zM601 990h1v2h-1zM602 987h1v3h-1zM603 983h1v4h-1zM604 979h1v4h-1zM605 975h1v4h-1zM606 970h1v5h-1zM607 966h1v4h-1zM608 962h1v4h-1zM609 958h1v4h-1zM610 955h1v3h-1zM611 955h1v1h-1zM612 954h2v1h-2zM614 953h3v1h-3zM617 952h2v1h-2zM619 953h1v2h-1zM620 955h1v1h-1zM621 956h1v2h-1zM622 958h1v1h-1zM623 959h1v2h-1zM624 961h1v1h-1zM625 962h1v2h-1zM626 964h1v2h-1zM627 966h1v3h-1zM628 969h1v3h-1zM629 972h1v3h-1zM630 975h1v4h-1zM631 979h1v3h-1zM632 982h1v3h-1zM633 985h1v3h-1zM634 988h1v2h-1zM635 990h1v2h-1zM636 992h1v2h-1zM637 994h1v2h-1zM638 996h1v2h-1zM639 998h1v2h-1zM640 1000h1v2h-1zM641 1002h1v2h-1zM642 1004h1v3h-1zM643 1007h1v2h-1zM644 1009h1v2h-1zM645 1011h1v2h-1zM646 1013h1v3h-1zM647 1016h1v2h-1zM648 1018h1v2h-1zM649 1020h1v2h-1zM650 1022h1v2h-1zM651 1023h8v1h-8zM658 1022h1v1h-1zM659 1020h1v2h-1zM660 1017h1v3h-1zM661 1014h1v3h-1zM662 1012h1v2h-1zM663 1009h1v3h-1zM664 1006h1v3h-1zM665 1004h1v2h-1zM666 1001h1v3h-1zM667 997h1v4h-1zM668 993h1v4h-1zM669 990h1v3h-1zM670 986h1v4h-1zM671 983h1v3h-1zM672 979h1v4h-1zM673 975h1v4h-1zM674 972h1v3h-1zM675 968h1v4h-1zM676 964h1v4h-1zM677 960h1v4h-1zM678 956h1v4h-1zM679 952h1v4h-1zM680 948h1v4h-1zM681 944h1v4h-1zM682 941h1v3h-1zM683 940h1v1h-1zM684 939h1v1h-1zM685 938h1v1h-1zM686 937h1v1h-1zM687 936h1v1h-1zM688 935h1v1h-1zM689 934h1v1h-1zM690 933h4v1h-4zM694 934h5v1h-5zM699 933h2v1h-2zM701 932h2v1h-2zM703 931h2v1h-2zM705 930h2v1h-2zM707 931h1v1h-1zM708 932h2v1h-2zM710 933h1v1h-1zM711 934h1v1h-1zM712 935h2v1h-2zM714 936h1v1h-1zM715 937h2v1h-2zM717 938h1v1h-1zM718 939h2v1h-2zM720 940h2v1h-2zM722 941h4v1h-4zM726 942h6v1h-6zM732 943h2v1h-2zM734 944h3v1h-3zM737 945h2v1h-2zM738 946h1v1h-1zM739 947h1v2h-1zM740 949h1v2h-1zM741 951h1v2h-1zM742 953h1v3h-1zM743 956h1v2h-1zM744 958h1v2h-1zM745 960h1v2h-1zM746 962h1v4h-1zM747 966h1v4h-1zM748 970h1v4h-1zM749 974h1v5h-1zM750 979h1v4h-1zM751 983h1v5h-1zM752 988h1v4h-1zM753 992h1v4h-1zM754 996h1v3h-1zM755 999h1v1h-1zM756 1000h1v1h-1zM757 1001h1v1h-1zM758 1002h1v2h-1zM759 1004h1v1h-1zM760 1005h1v1h-1zM761 1006h1v1h-1zM762 1007h4v1h-4zM766 1006h5v1h-5zM770 1005h1v1h-1zM771 1003h1v2h-1zM772 1001h1v2h-1zM773 999h1v2h-1zM774 997h1v2h-1zM775 995h1v2h-1zM776 993h1v2h-1zM777 991h1v2h-1zM778 989h1v2h-1zM779 988h1v1h-1zM780 987h1v1h-1zM781 986h1v1h-1zM782 985h1v1h-1zM783 984h1v1h-1zM784 983h1v1h-1zM785 982h1v1h-1zM786 981h4v1h-4zM790 980h6v1h-6zM796 981h4v1h-4zM800 982h3v1h-3zM803 983h1v1h-1zM804 984h1v1h-1zM805 985h1v1h-1zM806 986h1v2h-1zM807 988h1v1h-1zM808 989h1v1h-1zM809 990h1v1h-1zM810 991h1v2h-1zM811 993h1v2h-1zM812 995h1v2h-1zM813 997h1v2h-1zM814 999h1v3h-1zM815 1002h1v2h-1zM816 1004h1v2h-1zM817 1006h1v2h-1zM818 1008h1v2h-1zM819 1009h8v1h-8zM827 1008h1v1h-1zM828 1007h1v1h-1zM829 1006h1v1h-1zM830 1005h2v1h-2zM832 1004h1v1h-1zM833 1003h1v1h-1zM834 1002h1v1h-1zM835 1000h1v2h-1zM836 998h1v2h-1zM837 996h1v2h-1zM838 994h1v2h-1zM839 992h1v2h-1zM840 990h1v2h-1zM841 988h1v2h-1zM842 987h1v1h-1zM843 985h1v2h-1zM844 983h1v2h-1zM845 982h1v1h-1zM846 980h1v2h-1zM847 979h1v1h-1zM848 977h1v2h-1zM849 975h1v2h-1zM850 974h2v1h-2zM852 975h4v1h-4zM856 976h3v1h-3zM859 977h1v1h-1zM860 978h1v1h-1zM861 979h1v1h-1zM862 980h1v1h-1zM863 981h1v1h-1zM864 982h1v1h-1zM865 983h1v1h-1zM866 984h1v1h-1zM867 985h1v2h-1zM868 987h1v1h-1zM869 988h1v2h-1zM870 990h1v1h-1zM871 991h1v2h-1zM872 993h1v1h-1zM873 994h1v2h-1zM874 996h1v1h-1zM875 995h1v1h-1zM876 993h1v2h-1zM877 992h1v1h-1zM878 991h1v1h-1zM879 990h1v1h-1zM880 988h1v2h-1zM881 987h1v1h-1zM882 986h2v1h-2zM884 985h4v1h-4zM888 984h3v1h-3zM891 985h1v1h-1zM892 986h1v1h-1zM893 987h1v1h-1zM894 988h1v1h-1zM895 989h1v1h-1zM896 990h1v1h-1zM897 991h1v1h-1zM898 992h1v2h-1zM899 994h1v2h-1zM900 996h1v3h-1zM901 999h1v3h-1zM902 1002h1v2h-1zM903 1004h1v3h-1zM904 1007h1v3h-1zM905 1010h1v2h-1zM906 1012h1v2h-1zM907 1014h1v2h-1zM908 1016h1v2h-1zM909 1018h1v2h-1zM910 1020h1v1h-1zM911 1021h1v2h-1zM912 1023h1v2h-1zM913 1025h1v2h-1zM914 1027h1v1h-1zM915 1026h1v1h-1zM916 1025h1v1h-1zM917 1024h1v1h-1zM918 1022h1v2h-1zM919 1021h1v1h-1zM920 1020h1v1h-1zM921 1019h1v1h-1zM922 1018h1v1h-1zM923 1017h2v1h-2zM925 1016h2v1h-2zM927 1015h2v1h-2zM929 1014h2v1h-2zM930 1013h1v1h-1zM931 1011h1v2h-1zM932 1009h1v2h-1zM933 1007h1v2h-1zM934 1004h1v3h-1zM935 1002h1v2h-1zM936 1000h1v2h-1zM937 998h1v2h-1zM938 996h1v2h-1zM939 994h1v2h-1zM940 992h1v2h-1zM941 990h1v2h-1zM942 988h1v2h-1zM943 986h1v2h-1zM944 984h1v2h-1zM945 982h1v2h-1zM946 979h1v3h-1zM947 976h1v3h-1zM948 973h1v3h-1zM949 970h1v3h-1zM950 966h1v4h-1zM951 963h1v3h-1zM952 960h1v3h-1zM953 957h1v3h-1zM954 955h1v2h-1zM955 954h1v1h-1zM956 953h1v1h-1zM957 952h1v1h-1zM958 950h1v2h-1zM959 949h1v1h-1zM960 948h1v1h-1zM961 947h1v1h-1zM962 946h2v1h-2zM964 947h4v1h-4zM968 948h3v1h-3zM971 949h1v1h-1zM972 950h1v2h-1zM973 952h1v1h-1zM974 953h1v1h-1zM975 954h1v1h-1zM976 955h1v2h-1zM977 957h1v1h-1zM978 958h2v1h-2zM980 957h4v1h-4zM984 956h3v1h-3zM987 957h1v2h-1zM988 959h1v1h-1zM989 960h1v2h-1zM990 962h1v1h-1zM991 963h1v2h-1zM992 965h1v1h-1zM993 966h1v2h-1zM994 968h1v2h-1zM995 970h1v2h-1zM996 972h1v2h-1zM997 974h1v2h-1zM998 976h1v2h-1zM999 978h1v2h-1zM1000 980h1v2h-1zM1001 982h1v2h-1zM1002 984h1v4h-1zM1003 988h1v4h-1zM1004 992h1v4h-1zM1005 996h1v4h-1zM1006 1000h1v4h-1zM1007 1004h1v4h-1zM1008 1008h1v4h-1zM1009 1012h1v4h-1zM1010 1016h1v3h-1zM1011 1019h1v1h-1zM1012 1020h2v1h-2zM1014 1021h1v1h-1zM1015 1022h1v1h-1zM1016 1023h2v1h-2zM1018 1024h2v1h-2zM1020 1023h4v1h-4zM1024 1022h6v1h-6zM1030 1021h8v1h-8zM1038 1022h6v1h-6zM1044 1023h2v1h-2zM1046 1024h3v1h-3zM1049 1025h3v1h-3zM1052 1024h2v1h-2zM1054 1023h3v1h-3zM1057 1022h2v1h-2zM1059 1020h1v2h-1zM1060 1018h1v2h-1zM1061 1016h1v2h-1zM1062 1014h1v2h-1zM1063 1012h1v2h-1zM1064 1010h1v2h-1zM1065 1008h1v2h-1zM1066 1005h1v3h-1zM1067 1002h1v3h-1zM1068 999h1v3h-1zM1069 996h1v3h-1zM1070 992h1v4h-1zM1071 989h1v3h-1zM1072 986h1v3h-1zM1073 983h1v3h-1zM1074 980h1v3h-1zM1075 976h1v4h-1zM1076 973h1v3h-1zM1077 969h1v4h-1zM1078 966h1v3h-1zM1079 962h1v4h-1zM1080 959h1v3h-1zM1081 955h1v4h-1zM1082 953h1v2h-1zM1083 952h1v1h-1zM1084 951h1v1h-1zM1085 950h1v1h-1zM1086 948h1v2h-1zM1087 947h1v1h-1zM1088 946h1v1h-1zM1089 945h1v1h-1zM1090 944h1v1h-1zM1091 945h1v2h-1zM1092 947h1v2h-1zM1093 949h1v2h-1zM1094 951h1v2h-1zM1095 953h1v2h-1zM1096 955h1v2h-1zM1097 957h1v2h-1zM1098 959h1v3h-1zM1099 962h1v2h-1zM1100 964h1v3h-1zM1101 967h1v3h-1zM1102 970h1v2h-1zM1103 972h1v3h-1zM1104 975h1v3h-1zM1105 978h1v2h-1zM1106 980h1v2h-1zM1107 982h1v2h-1zM1108 984h1v2h-1zM1109 986h1v2h-1zM1110 988h1v2h-1zM1111 990h1v2h-1zM1112 992h1v2h-1zM1113 994h1v2h-1zM1114 996h1v2h-1zM1115 995h1v2h-1zM1116 994h1v1h-1zM1117 993h1v1h-1zM1118 991h1v2h-1zM1119 990h1v1h-1zM1120 989h1v1h-1zM1121 987h1v2h-1zM1122 986h1v1h-1zM1123 984h1v2h-1zM1124 982h1v2h-1zM1125 980h1v2h-1zM1126 978h1v2h-1zM1127 976h1v2h-1zM1128 974h1v2h-1zM1129 972h1v2h-1zM1130 969h1v3h-1zM1131 966h1v3h-1zM1132 963h1v3h-1zM1133 960h1v3h-1zM1134 958h1v2h-1zM1135 955h1v3h-1zM1136 952h1v3h-1zM1137 949h1v3h-1zM1138 947h1v2h-1zM1139 947h3v1h-3zM1142 946h8v1h-8zM1150 947h5v1h-5zM1154 948h1v1h-1zM1155 949h1v4h-1zM1156 953h1v3h-1zM1157 956h1v3h-1zM1158 959h1v4h-1zM1159 963h1v3h-1zM1160 966h1v3h-1zM1161 969h1v4h-1zM1162 973h1v2h-1zM1163 975h1v2h-1zM1164 977h1v2h-1zM1165 979h1v2h-1zM1166 981h1v2h-1zM1167 983h1v2h-1zM1168 985h1v2h-1zM1169 987h1v2h-1zM1170 989h1v2h-1zM1171 990h1v1h-1zM1172 991h2v1h-2zM1174 992h3v1h-3zM1177 993h2v1h-2zM1178 992h1v1h-1zM1179 990h1v2h-1zM1180 988h1v2h-1zM1181 986h1v2h-1zM1182 984h1v2h-1zM1183 982h1v2h-1zM1184 980h1v2h-1zM1185 978h1v2h-1zM1186 976h1v2h-1zM1187 974h1v2h-1zM1188 972h1v2h-1zM1189 970h1v2h-1zM1190 968h1v2h-1zM1191 966h1v2h-1zM1192 964h1v2h-1zM1193 962h1v2h-1zM1194 960h1v2h-1zM1195 959h1v1h-1zM1196 958h1v1h-1zM1197 957h1v1h-1zM1198 955h1v2h-1zM1199 954h1v1h-1zM1200 953h1v1h-1zM1201 952h1v1h-1zM1202 951h1v1h-1zM1203 952h1v2h-1zM1204 954h1v2h-1zM1205 956h1v1h-1zM1206 957h1v2h-1zM1207 959h1v1h-1zM1208 960h1v2h-1zM1209 962h1v2h-1zM1210 964h2v1h-2zM1212 965h2v1h-2zM1214 966h3v1h-3zM1217 967h2v1h-2zM1219 968h1v1h-1zM1220 969h1v1h-1zM1221 970h1v1h-1zM1222 971h2v1h-2zM1224 972h1v1h-1zM1225 973h1v1h-1zM1226 974h1v1h-1zM1227 975h1v2h-1zM1228 977h1v1h-1zM1229 978h1v1h-1zM1230 979h1v2h-1zM1231 981h1v1h-1zM1232 982h1v1h-1zM1233 983h1v2h-1zM1234 985h1v1h-1zM1235 986h1v2h-1zM1236 988h1v2h-1zM1237 990h1v1h-1zM1238 991h1v2h-1zM1239 993h1v1h-1zM1240 994h1v2h-1zM1241 996h1v2h-1zM1242 998h1v1h-1zM1243 997h2v1h-2zM1245 996h2v1h-2zM1247 995h2v1h-2zM1249 994h2v1h-2zM1250 993h1v1h-1zM1251 989h1v4h-1zM1252 986h1v3h-1zM1253 983h1v3h-1zM1254 979h1v4h-1zM1255 976h1v3h-1zM1256 973h1v3h-1zM1257 969h1v4h-1zM1258 966h1v3h-1zM1259 964h1v2h-1zM1260 962h1v2h-1zM1261 960h1v2h-1zM1262 958h1v2h-1zM1263 956h1v2h-1zM1264 954h1v2h-1zM1265 952h1v2h-1zM1266 950h1v2h-1zM1267 949h1v1h-1zM1268 947h1v2h-1zM1269 946h1v1h-1zM1270 945h1v1h-1zM1271 944h1v1h-1zM1272 942h1v2h-1zM1273 941h1v1h-1zM1274 940h1v1h-1zM1275 941h1v1h-1zM1276 942h1v1h-1zM1277 943h1v1h-1zM1278 944h1v1h-1zM1279 945h1v1h-1zM1280 946h1v1h-1zM1281 947h1v1h-1zM1282 948h2v1h-2zM1284 949h2v1h-2zM1286 950h3v1h-3zM1289 951h5v1h-5zM1294 952h8v1h-8zM1302 951h5v1h-5zM1307 952h1v1h-1zM1308 953h1v1h-1zM1309 954h1v1h-1zM1310 955h1v1h-1zM1311 956h1v1h-1zM1312 957h1v1h-1zM1313 958h1v1h-1zM1314 959h2v1h-2zM1316 960h2v1h-2zM1318 961h3v1h-3zM1321 962h2v1h-2zM1323 961h2v1h-2zM1325 960h1v1h-1zM1326 959h2v1h-2zM1328 958h2v1h-2zM1330 957h1v1h-1zM1331 955h1v2h-1zM1332 953h1v2h-1zM1333 951h1v2h-1zM1334 949h1v2h-1zM1335 947h1v2h-1zM1336 945h1v2h-1zM1337 943h1v2h-1zM1338 942h2v1h-2zM1340 941h2v1h-2zM1342 940h3v1h-3zM1345 939h3v1h-3zM1348 938h4v1h-4zM1352 937h3v1h-3zM1355 938h2v1h-2zM1357 939h2v1h-2zM1359 940h2v1h-2zM1361 941h2v1h-2zM1363 942h1v1h-1zM1364 943h2v1h-2zM1366 944h1v1h-1zM1367 945h1v1h-1zM1368 946h2v1h-2zM1370 947h1v1h-1zM1371 948h2v1h-2zM1373 949h1v1h-1zM1374 950h2v1h-2zM1376 951h2v1h-2zM1378 952h1v1h-1zM1379 953h1v2h-1zM1380 955h1v2h-1zM1381 957h1v2h-1zM1382 959h1v2h-1zM1383 961h1v2h-1zM1384 963h1v2h-1zM1385 965h1v2h-1zM1386 967h1v1h-1zM1387 968h2v1h-2zM1389 969h1v1h-1zM1390 970h2v1h-2zM1392 971h2v1h-2zM1394 972h1v1h-1zM1395 971h2v1h-2zM1397 970h2v1h-2zM1399 969h2v1h-2zM1401 968h2v1h-2zM1403 969h1v2h-1zM1404 971h1v1h-1zM1405 972h1v1h-1zM1406 973h1v2h-1zM1407 975h1v1h-1zM1408 976h1v1h-1zM1409 977h1v2h-1zM1410 979h1v1h-1zM1411 980h2v1h-2zM1413 981h2v1h-2zM1415 982h2v1h-2zM1417 983h2v1h-2zM1419 984h1v2h-1zM1420 986h1v1h-1zM1421 987h1v2h-1zM1422 989h1v1h-1zM1423 990h1v2h-1zM1424 992h1v1h-1zM1425 993h1v2h-1zM1426 995h1v1h-1zM1427 996h2v1h-2zM1429 997h1v1h-1zM1430 998h2v1h-2zM1432 999h2v1h-2zM1434 1000h1v1h-1zM1435 998h1v2h-1zM1436 996h1v2h-1zM1437 994h1v2h-1zM1438 992h1v2h-1zM1439 990h1v2h-1zM1440 988h1v2h-1zM1441 986h1v2h-1zM1442 984h1v2h-1zM1443 985h1v1h-1zM1444 986h1v1h-1zM1445 987h1v1h-1zM1446 988h2v1h-2zM1448 989h1v1h-1zM1449 990h1v1h-1zM1450 991h4v1h-4zM1454 992h5v1h-5zM1459 990h1v2h-1zM1460 988h1v2h-1zM1461 986h1v2h-1zM1462 984h1v2h-1zM1463 982h1v2h-1zM1464 980h1v2h-1zM1465 978h1v2h-1zM1466 977h1v1h-1zM1467 975h1v2h-1zM1468 973h1v2h-1zM1469 971h1v2h-1zM1470 970h1v1h-1zM1471 968h1v2h-1zM1472 966h1v2h-1zM1473 964h1v2h-1zM1474 962h1v2h-1zM1475 960h1v2h-1zM1476 958h1v2h-1zM1477 956h1v2h-1zM1478 953h1v3h-1zM1479 951h1v2h-1zM1480 949h1v2h-1zM1481 947h1v2h-1zM1482 945h1v2h-1zM1483 945h1v1h-1zM1484 944h2v1h-2zM1486 943h3v1h-3zM1489 942h2v1h-2zM1491 941h1v1h-1zM1492 940h1v1h-1zM1493 939h1v1h-1zM1494 938h2v1h-2zM1496 937h1v1h-1zM1497 936h1v1h-1zM1498 935h4v1h-4zM1502 934h8v1h-8zM1510 935h5v1h-5zM1515 936h2v1h-2zM1517 937h2v1h-2zM1519 938h2v1h-2zM1521 939h2v1h-2zM1523 940h1v2h-1zM1524 942h1v2h-1zM1525 944h1v2h-1zM1526 946h1v2h-1zM1527 948h1v2h-1zM1528 950h1v2h-1zM1529 952h1v2h-1zM1530 954h1v3h-1zM1531 957h1v4h-1zM1532 961h1v3h-1zM1533 964h1v4h-1zM1534 968h1v3h-1zM1535 971h1v4h-1zM1536 975h1v3h-1zM1537 978h1v4h-1zM1538 982h1v3h-1zM1539 985h1v2h-1zM1540 987h1v3h-1zM1541 990h1v3h-1zM1542 993h1v2h-1zM1543 995h1v3h-1zM1544 998h1v3h-1zM1545 1001h1v2h-1zM1546 1003h1v2h-1zM1547 1003h1v1h-1zM1548 1001h1v2h-1zM1549 1000h1v1h-1zM1550 999h1v1h-1zM1551 998h1v1h-1zM1552 996h1v2h-1zM1553 995h1v1h-1zM1554 993h1v2h-1zM1555 989h1v4h-1zM1556 985h1v4h-1zM1557 981h1v4h-1zM1558 977h1v4h-1zM1559 973h1v4h-1zM1560 969h1v4h-1zM1561 965h1v4h-1zM1562 963h1v2h-1zM1563 963h1v1h-1zM1564 964h2v1h-2zM1566 965h3v1h-3zM1569 966h2v1h-2zM1571 967h1v1h-1zM1572 968h1v1h-1zM1573 969h1v1h-1zM1574 970h1v1h-1zM1575 971h1v1h-1zM1576 972h1v1h-1zM1577 973h1v1h-1zM1578 974h1v2h-1zM1579 976h1v4h-1zM1580 980h1v4h-1zM1581 984h1v3h-1zM1582 987h1v4h-1zM1583 991h1v3h-1zM1584 994h1v4h-1zM1585 998h1v4h-1zM1586 1002h1v2h-1zM1587 1004h1v1h-1zM1588 1005h1v1h-1zM1589 1006h1v1h-1zM1590 1007h1v1h-1zM1591 1008h1v1h-1zM1592 1009h1v1h-1zM1593 1010h1v1h-1zM1594 1011h1v1h-1zM1595 1012h1v1h-1zM1596 1013h1v1h-1zM1597 1014h1v1h-1zM1598 1015h1v1h-1zM1599 1016h1v1h-1zM1600 1017h1v1h-1zM1601 1018h1v1h-1zM1602 1018h1v2h-1zM1603 1016h1v2h-1zM1604 1014h1v2h-1zM1605 1012h1v2h-1zM1606 1009h1v3h-1zM1607 1007h1v2h-1zM1608 1005h1v2h-1zM1609 1003h1v2h-1zM1610 1000h1v3h-1zM1611 998h1v2h-1zM1612 996h1v2h-1zM1613 994h1v2h-1zM1614 992h1v2h-1zM1615 990h1v2h-1zM1616 988h1v2h-1zM1617 986h1v2h-1zM1618 983h1v3h-1zM1619 981h1v2h-1zM1620 979h1v2h-1zM1621 977h1v2h-1zM1622 974h1v3h-1zM1623 972h1v2h-1zM1624 970h1v2h-1zM1625 968h1v2h-1zM1626 966h1v2h-1zM1626 967h1v1h-1zM1627 968h1v3h-1zM1628 971h1v3h-1zM1629 974h1v3h-1zM1630 977h1v4h-1zM1631 981h1v3h-1zM1632 984h1v3h-1zM1633 987h1v3h-1zM1634 990h1v2h-1zM1635 992h1v2h-1zM1636 994h1v1h-1zM1637 995h1v1h-1zM1638 996h1v2h-1zM1639 998h1v1h-1zM1640 999h1v1h-1zM1641 1000h1v2h-1zM1642 1002h9v1h-9zM1651 1000h1v2h-1zM1652 998h1v2h-1zM1653 996h1v2h-1zM1654 994h1v2h-1zM1655 992h1v2h-1zM1656 990h1v2h-1zM1657 988h1v2h-1zM1658 986h1v2h-1zM1659 984h1v2h-1zM1660 982h1v2h-1zM1661 980h1v2h-1zM1662 978h1v2h-1zM1663 976h1v2h-1zM1664 974h1v2h-1zM1665 972h1v2h-1zM1666 970h1v2h-1zM1667 967h1v3h-1zM1668 964h1v3h-1zM1669 961h1v3h-1zM1670 959h1v2h-1zM1671 956h1v3h-1zM1672 953h1v3h-1zM1673 950h1v3h-1zM1674 948h1v2h-1zM1675 946h1v2h-1zM1676 944h1v2h-1zM1677 942h1v2h-1zM1678 940h1v2h-1zM1679 938h1v2h-1zM1680 936h1v2h-1zM1681 934h1v2h-1zM1682 932h1v2h-1z"/>
</g>
<g clip-path="url(#cd)">
<g shape-rendering="crispEdges" fill="#c0c0c0">
<rect x="10" y="1053" width="1" height="18"/>
<rect x="18" y="1053" width="1" height="18"/>
<rect x="26" y="1054" width="1" height="17"/>
<rect x="34" y="1055" width="1" height="16"/>
<rect x="42" y="1057" width="1" height="14"/>
<rect x="50" y="1060" width="1" height="11"/>
<rect x="58" y="1062" width="1" height="9"/>
<rect x="66" y="1063" width="1" height="8"/>
<rect x="74" y="1065" width="1" height="6"/>
<rect x="82" y="1065" width="1" height="6"/>
<rect x="90" y="1064" width="1" height="7"/>
<rect x="98" y="1062" width="1" height="9"/>
<rect x="106" y="1062" width="1" height="9"/>
<rect x="114" y="1061" width="1" height="10"/>
<rect x="122" y="1060" width="1" height="11"/>
<rect x="130" y="1060" width="1" height="11"/>
<rect x="138" y="1055" width="1" height="16"/>
<rect x="146" y="1052" width="1" height="19"/>
<rect x="154" y="1050" width="1" height="21"/>
<rect x="162" y="1048" width="1" height="23"/>
<rect x="170" y="1046" width="1" height="25"/>
<rect x="178" y="1045" width="1" height="26"/>
<rect x="186" y="1045" width="1" height="26"/>
<rect x="194" y="1046" width="1" height="25"/>
<rect x="202" y="1046" width="1" height="25"/>
<rect x="210" y="1040" width="1" height="31"/>
<rect x="218" y="1041" width="1" height="30"/>
<rect x="226" y="1042" width="1" height="29"/>
<rect x="234" y="1043" width="1" height="28"/>
<rect x="242" y="1044" width="1" height="27"/>
<rect x="250" y="1045" width="1" height="26"/>
<rect x="258" y="1043" width="1" height="28"/>
<rect x="266" y="1042" width="1" height="29"/>
<rect x="274" y="1041" width="1" height="30"/>
<rect x="282" y="1041" width="1" height="30"/>
<rect x="290" y="1041" width="1" height="30"/>
<rect x="298" y="1042" width="1" height="29"/>
<rect x="306" y="1043" width="1" height="28"/>
<rect x="314" y="1044" width="1" height="27"/>
<rect x="322" y="1045" width="1" height="26"/>
<rect x="330" y="1046" width="1" height="25"/>
<rect x="338" y="1046" width="1" height="25"/>
<rect x="346" y="1047" width="1" height="24"/>
<rect x="354" y="1047" width="1" height="24"/>
<rect x="362" y="1049" width="1" height="22"/>
<rect x="370" y="1048" width="1" height="23"/>
<rect x="378" y="1049" width="1" height="22"/>
<rect x="386" y="1051" width="1" height="20"/>
<rect x="394" y="1056" width="1" height="15"/>
<rect x="402" y="1059" width="1" height="12"/>
<rect x="410" y="1061" width="1" height="10"/>
<rect x="418" y="1063" width="1" height="8"/>
<rect x="426" y="1065" width="1" height="6"/>
<rect x="434" y="1066" width="1" height="5"/>
<rect x="442" y="1067" width="1" height="4"/>
<rect x="450" y="1068" width="1" height="3"/>
<rect x="458" y="1070" width="1" height="1"/>
<rect x="474" y="1070" width="1" height="1"/>
<rect x="482" y="1069" width="1" height="2"/>
<rect x="490" y="1068" width="1" height="3"/>
<rect x="498" y="1066" width="1" height="5"/>
<rect x="506" y="1065" width="1" height="6"/>
<rect x="514" y="1064" width="1" height="7"/>
<rect x="522" y="1063" width="1" height="8"/>
<rect x="530" y="1063" width="1" height="8"/>
<rect x="538" y="1063" width="1" height="8"/>
<rect x="546" y="1067" width="1" height="4"/>
<rect x="554" y="1070" width="1" height="1"/>
<rect x="562" y="1072" width="1" height="4"/>
<rect x="570" y="1072" width="1" height="10"/>
<rect x="578" y="1072" width="1" height="13"/>
<rect x="586" y="1072" width="1" height="17"/>
<rect x="594" y="1072" width="1" height="18"/>
<rect x="602" y="1072" width="1" height="18"/>
<rect x="610" y="1072" width="1" height="17"/>
<rect x="618" y="1072" width="1" height="18"/>
<rect x="626" y="1072" width="1" height="18"/>
<rect x="634" y="1072" width="1" height="19"/>
<rect x="642" y="1072" width="1" height="21"/>
<rect x="650" y="1072" width="1" height="23"/>
<rect x="658" y="1072" width="1" height="25"/>
<rect x="666" y="1072" width="1" height="24"/>
<rect x="674" y="1072" width="1" height="21"/>
<rect x="682" y="1072" width="1" height="19"/>
<rect x="690" y="1072" width="1" height="17"/>
<rect x="698" y="1072" width="1" height="14"/>
<rect x="706" y="1072" width="1" height="12"/>
<rect x="714" y="1072" width="1" height="9"/>
<rect x="722" y="1072" width="1" height="6"/>
<rect x="730" y="1072" width="1" height="3"/>
<rect x="738" y="1072" width="1" height="2"/>
<rect x="754" y="1072" width="1" height="1"/>
<rect x="762" y="1072" width="1" height="1"/>
<rect x="770" y="1072" width="1" height="1"/>
<rect x="786" y="1072" width="1" height="2"/>
<rect x="794" y="1072" width="1" height="1"/>
<rect x="802" y="1072" width="1" height="3"/>
<rect x="810" y="1072" width="1" height="4"/>
<rect x="818" y="1072" width="1" height="8"/>
<rect x="826" y="1072" width="1" height="10"/>
<rect x="834" y="1072" width="1" height="11"/>
<rect x="842" y="1072" width="1" height="11"/>
<rect x="850" y="1072" width="1" height="11"/>
<rect x="858" y="1072" width="1" height="13"/>
<rect x="866" y="1072" width="1" height="15"/>
<rect x="874" y="1072" width="1" height="16"/>
<rect x="882" y="1072" width="1" height="16"/>
<rect x="890" y="1072" width="1" height="17"/>
<rect x="898" y="1072" width="1" height="19"/>
<rect x="906" y="1072" width="1" height="22"/>
<rect x="914" y="1072" width="1" height="30"/>
<rect x="922" y="1072" width="1" height="38"/>
<rect x="930" y="1072" width="1" height="44"/>
<rect x="938" y="1072" width="1" height="44"/>
<rect x="946" y="1072" width="1" height="42"/>
<rect x="954" y="1072" width="1" height="41"/>
<rect x="962" y="1072" width="1" height="39"/>
<rect x="970" y="1072" width="1" height="38"/>
<rect x="978" y="1072" width="1" height="36"/>
<rect x="986" y="1072" width="1" height="31"/>
<rect x="994" y="1072" width="1" height="30"/>
<rect x="1002" y="1072" width="1" height="30"/>
<rect x="1010" y="1072" width="1" height="32"/>
<rect x="1018" y="1072" width="1" height="34"/>
<rect x="1026" y="1072" width="1" height="36"/>
<rect x="1034" y="1072" width="1" height="38"/>
<rect x="1042" y="1072" width="1" height="40"/>
<rect x="1050" y="1072" width="1" height="43"/>
<rect x="1058" y="1072" width="1" height="44"/>
<rect x="1066" y="1072" width="1" height="43"/>
<rect x="1074" y="1072" width="1" height="41"/>
<rect x="1082" y="1072" width="1" height="39"/>
<rect x="1090" y="1072" width="1" height="36"/>
<rect x="1098" y="1072" width="1" height="35"/>
<rect x="1106" y="1072" width="1" height="35"/>
<rect x="1114" y="1072" width="1" height="34"/>
<rect x="1122" y="1072" width="1" height="32"/>
<rect x="1130" y="1072" width="1" height="30"/>
<rect x="1138" y="1072" width="1" height="26"/>
<rect x="1146" y="1072" width="1" height="24"/>
<rect x="1154" y="1072" width="1" height="22"/>
<rect x="1162" y="1072" width="1" height="22"/>
<rect x="1170" y="1072" width="1" height="21"/>
<rect x="1178" y="1072" width="1" height="20"/>
<rect x="1186" y="1072" width="1" height="19"/>
<rect x="1194" y="1072" width="1" height="17"/>
<rect x="1202" y="1072" width="1" height="16"/>
<rect x="1210" y="1072" width="1" height="16"/>
<rect x="1218" y="1072" width="1" height="14"/>
<rect x="1226" y="1072" width="1" height="14"/>
<rect x="1234" y="1072" width="1" height="16"/>
<rect x="1242" y="1072" width="1" height="15"/>
<rect x="1250" y="1072" width="1" height="14"/>
<rect x="1258" y="1072" width="1" height="11"/>
<rect x="1266" y="1072" width="1" height="9"/>
<rect x="1274" y="1072" width="1" height="4"/>
<rect x="1282" y="1072" width="1" height="3"/>
<rect x="1298" y="1068" width="1" height="3"/>
<rect x="1306" y="1067" width="1" height="4"/>
<rect x="1314" y="1065" width="1" height="6"/>
<rect x="1322" y="1063" width="1" height="8"/>
<rect x="1330" y="1061" width="1" height="10"/>
<rect x="1338" y="1058" width="1" height="13"/>
<rect x="1346" y="1056" width="1" height="15"/>
<rect x="1354" y="1055" width="1" height="16"/>
<rect x="1362" y="1054" width="1" height="17"/>
<rect x="1370" y="1054" width="1" height="17"/>
<rect x="1378" y="1053" width="1" height="18"/>
<rect x="1386" y="1053" width="1" height="18"/>
<rect x="1394" y="1053" width="1" height="18"/>
<rect x="1402" y="1053" width="1" height="18"/>
<rect x="1410" y="1054" width="1" height="17"/>
<rect x="1418" y="1054" width="1" height="17"/>
<rect x="1426" y="1055" width="1" height="16"/>
<rect x="1434" y="1057" width="1" height="14"/>
<rect x="1442" y="1056" width="1" height="15"/>
<rect x="1450" y="1058" width="1" height="13"/>
<rect x="1458" y="1060" width="1" height="11"/>
<rect x="1466" y="1056" width="1" height="15"/>
<rect x="1474" y="1056" width="1" height="15"/>
<rect x="1482" y="1054" width="1" height="17"/>
<rect x="1490" y="1051" width="1" height="20"/>
<rect x="1498" y="1049" width="1" height="22"/>
<rect x="1506" y="1046" width="1" height="25"/>
<rect x="1514" y="1042" width="1" height="29"/>
<rect x="1522" y="1040" width="1" height="31"/>
<rect x="1530" y="1041" width="1" height="30"/>
<rect x="1538" y="1042" width="1" height="29"/>
<rect x="1546" y="1043" width="1" height="28"/>
<rect x="1554" y="1042" width="1" height="29"/>
<rect x="1562" y="1040" width="1" height="31"/>
<rect x="1570" y="1041" width="1" height="30"/>
<rect x="1578" y="1043" width="1" height="28"/>
<rect x="1586" y="1046" width="1" height="25"/>
<rect x="1594" y="1048" width="1" height="23"/>
<rect x="1602" y="1051" width="1" height="20"/>
<rect x="1610" y="1051" width="1" height="20"/>
<rect x="1618" y="1052" width="1" height="19"/>
<rect x="1626" y="1053" width="1" height="18"/>
<rect x="1634" y="1056" width="1" height="15"/>
<rect x="1642" y="1059" width="1" height="12"/>
<rect x="1650" y="1061" width="1" height="10"/>
<rect x="1658" y="1062" width="1" height="9"/>
<rect x="1666" y="1062" width="1" height="9"/>
<rect x="1674" y="1059" width="1" height="12"/>
<rect x="1682" y="1056" width="1" height="15"/>
</g>
<path shape-rendering="crispEdges" fill="#ff0000" d="M3 1050h3v1h-3zM9 1051h1v1h-1zM10 1052h2v1h-2zM15 1052h3v1h-3zM21 1053h3v1h-3zM27 1053h3v1h-3zM33 1053h1v1h-1zM34 1054h2v1h-2zM39 1054h3v1h-3zM45 1055h3v1h-3zM51 1055h2v1h-2zM53 1056h1v1h-1zM57 1056h3v1h-3zM63 1057h3v1h-3zM69 1058h3v1h-3zM75 1058h2v1h-2zM77 1059h1v1h-1zM81 1059h3v1h-3zM87 1060h3v1h-3zM93 1061h3v1h-3zM99 1062h3v1h-3zM105 1062h1v1h-1zM106 1063h2v1h-2zM111 1063h3v1h-3zM117 1063h3v1h-3zM123 1063h3v1h-3zM129 1063h3v1h-3zM135 1062h3v1h-3zM141 1061h3v1h-3zM147 1060h3v1h-3zM153 1059h3v1h-3zM159 1058h2v1h-2zM161 1057h1v1h-1zM165 1056h3v1h-3zM171 1055h3v1h-3zM177 1054h1v1h-1zM178 1053h2v1h-2zM183 1052h3v1h-3zM189 1051h1v1h-1zM190 1050h2v1h-2zM195 1049h2v1h-2zM197 1048h1v1h-1zM201 1047h3v1h-3zM207 1046h3v1h-3zM213 1045h2v1h-2zM215 1044h1v1h-1zM219 1044h1v1h-1zM220 1043h2v1h-2zM225 1043h3v1h-3zM231 1042h3v1h-3zM237 1042h3v1h-3zM243 1042h3v1h-3zM249 1042h2v1h-2zM251 1043h1v1h-1zM255 1043h3v1h-3zM261 1043h3v1h-3zM267 1043h3v1h-3zM273 1043h3v1h-3zM279 1043h3v1h-3zM285 1043h3v1h-3zM291 1043h3v1h-3zM297 1043h3v1h-3zM303 1043h3v1h-3zM309 1043h3v1h-3zM315 1043h3v1h-3zM321 1043h3v1h-3zM327 1044h3v1h-3zM333 1044h3v1h-3zM339 1044h3v1h-3zM345 1044h3v1h-3zM351 1045h3v1h-3zM357 1045h2v1h-2zM359 1046h1v1h-1zM363 1046h3v1h-3zM369 1047h3v1h-3zM375 1048h3v1h-3zM381 1048h3v1h-3zM387 1048h3v1h-3zM393 1048h1v1h-1zM394 1049h2v1h-2zM399 1051h3v1h-3zM405 1052h3v1h-3zM411 1053h3v1h-3zM417 1054h3v1h-3zM423 1055h3v1h-3zM429 1056h1v1h-1zM430 1057h2v1h-2zM435 1058h3v1h-3zM441 1060h3v1h-3zM447 1061h2v1h-2zM449 1062h1v1h-1zM453 1063h3v1h-3zM459 1064h2v1h-2zM461 1065h1v1h-1zM465 1066h3v1h-3zM471 1067h3v1h-3zM477 1067h2v1h-2zM479 1068h1v1h-1zM483 1068h3v1h-3zM489 1068h3v1h-3zM495 1069h3v1h-3zM501 1069h3v1h-3zM507 1068h3v1h-3zM513 1068h3v1h-3zM519 1068h3v1h-3zM525 1068h2v1h-2zM527 1067h1v1h-1zM531 1067h2v1h-2zM533 1066h1v1h-1zM537 1066h3v1h-3zM543 1066h3v1h-3zM549 1066h3v1h-3zM555 1066h3v1h-3zM561 1066h3v1h-3zM567 1066h2v1h-2zM569 1067h1v1h-1zM573 1068h2v1h-2zM575 1069h1v1h-1zM579 1070h2v1h-2zM581 1071h1v1h-1zM585 1073h3v1h-3zM591 1075h2v1h-2zM593 1076h1v1h-1zM597 1077h2v1h-2zM599 1078h1v1h-1zM603 1079h2v1h-2zM605 1080h1v1h-1zM609 1081h3v1h-3zM615 1083h3v1h-3zM621 1085h3v1h-3zM627 1086h3v1h-3zM633 1087h3v1h-3zM639 1088h3v1h-3zM645 1089h3v1h-3zM651 1089h1v1h-1zM652 1090h2v1h-2zM657 1090h3v1h-3zM663 1091h3v1h-3zM669 1091h2v1h-2zM671 1092h1v1h-1zM675 1092h3v1h-3zM681 1092h3v1h-3zM687 1092h3v1h-3zM693 1092h3v1h-3zM699 1092h3v1h-3zM705 1091h2v1h-2zM707 1090h1v1h-1zM711 1090h1v1h-1zM712 1089h2v1h-2zM717 1088h3v1h-3zM723 1087h1v1h-1zM724 1086h2v1h-2zM729 1085h3v1h-3zM735 1084h1v1h-1zM736 1083h2v1h-2zM741 1082h1v1h-1zM742 1081h2v1h-2zM747 1080h1v1h-1zM748 1079h2v1h-2zM753 1078h3v1h-3zM759 1077h2v1h-2zM761 1076h1v1h-1zM765 1075h3v1h-3zM771 1074h3v1h-3zM777 1073h3v1h-3zM783 1073h3v1h-3zM789 1073h1v1h-1zM790 1072h2v1h-2zM795 1072h3v1h-3zM801 1072h3v1h-3zM807 1073h3v1h-3zM813 1073h3v1h-3zM819 1074h3v1h-3zM825 1074h3v1h-3zM831 1075h3v1h-3zM837 1076h3v1h-3zM843 1077h3v1h-3zM849 1078h3v1h-3zM855 1079h3v1h-3zM861 1079h1v1h-1zM862 1080h2v1h-2zM867 1080h3v1h-3zM873 1081h1v1h-1zM874 1082h2v1h-2zM879 1083h3v1h-3zM885 1083h2v1h-2zM887 1084h1v1h-1zM891 1084h3v1h-3zM897 1085h3v1h-3zM903 1086h3v1h-3zM909 1087h1v1h-1zM910 1088h2v1h-2zM915 1089h2v1h-2zM917 1090h1v1h-1zM921 1092h3v1h-3zM927 1094h2v1h-2zM929 1095h1v1h-1zM933 1096h3v1h-3zM939 1098h3v1h-3zM945 1100h1v1h-1zM946 1101h2v1h-2zM951 1103h3v1h-3zM957 1105h3v1h-3zM963 1107h3v1h-3zM969 1108h1v1h-1zM970 1109h2v1h-2zM975 1110h3v1h-3zM981 1110h3v1h-3zM987 1110h3v1h-3zM993 1109h3v1h-3zM999 1108h3v1h-3zM1005 1107h3v1h-3zM1011 1106h3v1h-3zM1017 1106h3v1h-3zM1023 1105h3v1h-3zM1029 1105h3v1h-3zM1035 1105h3v1h-3zM1041 1105h3v1h-3zM1047 1106h3v1h-3zM1053 1106h3v1h-3zM1059 1107h3v1h-3zM1065 1108h2v1h-2zM1067 1109h1v1h-1zM1071 1110h3v1h-3zM1077 1110h1v1h-1zM1078 1111h2v1h-2zM1083 1111h3v1h-3zM1089 1111h3v1h-3zM1095 1111h3v1h-3zM1101 1111h3v1h-3zM1107 1110h3v1h-3zM1113 1110h2v1h-2zM1115 1109h1v1h-1zM1119 1108h3v1h-3zM1125 1107h3v1h-3zM1131 1106h3v1h-3zM1137 1105h3v1h-3zM1143 1104h1v1h-1zM1144 1103h2v1h-2zM1149 1102h3v1h-3zM1155 1101h3v1h-3zM1161 1100h3v1h-3zM1167 1099h2v1h-2zM1169 1098h1v1h-1zM1173 1097h2v1h-2zM1175 1096h1v1h-1zM1179 1096h1v1h-1zM1180 1095h2v1h-2zM1185 1095h3v1h-3zM1191 1094h2v1h-2zM1193 1093h1v1h-1zM1197 1092h3v1h-3zM1203 1091h3v1h-3zM1209 1091h2v1h-2zM1211 1090h1v1h-1zM1215 1090h3v1h-3zM1221 1090h2v1h-2zM1223 1089h1v1h-1zM1227 1089h3v1h-3zM1233 1088h3v1h-3zM1239 1088h3v1h-3zM1245 1087h3v1h-3zM1251 1087h3v1h-3zM1257 1086h3v1h-3zM1263 1085h3v1h-3zM1269 1084h3v1h-3zM1275 1084h1v1h-1zM1276 1083h2v1h-2zM1281 1082h3v1h-3zM1287 1081h1v1h-1zM1288 1080h2v1h-2zM1293 1079h3v1h-3zM1299 1078h1v1h-1zM1300 1077h2v1h-2zM1305 1076h2v1h-2zM1307 1075h1v1h-1zM1311 1074h3v1h-3zM1317 1073h3v1h-3zM1323 1072h2v1h-2zM1325 1071h1v1h-1zM1329 1069h3v1h-3zM1335 1067h3v1h-3zM1341 1066h3v1h-3zM1347 1065h2v1h-2zM1349 1064h1v1h-1zM1353 1063h3v1h-3zM1359 1061h3v1h-3zM1365 1060h3v1h-3zM1371 1059h3v1h-3zM1377 1058h3v1h-3zM1383 1057h3v1h-3zM1389 1057h1v1h-1zM1390 1056h2v1h-2zM1395 1056h3v1h-3zM1401 1055h3v1h-3zM1407 1054h3v1h-3zM1413 1054h3v1h-3zM1419 1054h3v1h-3zM1425 1054h3v1h-3zM1431 1054h3v1h-3zM1437 1054h3v1h-3zM1443 1054h3v1h-3zM1449 1055h3v1h-3zM1455 1055h3v1h-3zM1461 1055h3v1h-3zM1467 1056h3v1h-3zM1473 1056h3v1h-3zM1479 1056h3v1h-3zM1485 1056h3v1h-3zM1491 1055h3v1h-3zM1497 1055h3v1h-3zM1503 1054h3v1h-3zM1509 1053h3v1h-3zM1515 1052h2v1h-2zM1517 1051h1v1h-1zM1521 1050h3v1h-3zM1527 1049h3v1h-3zM1533 1048h2v1h-2zM1535 1047h1v1h-1zM1539 1046h3v1h-3zM1545 1045h3v1h-3zM1551 1044h3v1h-3zM1557 1044h2v1h-2zM1559 1043h1v1h-1zM1563 1043h2v1h-2zM1565 1042h1v1h-1zM1569 1042h3v1h-3zM1575 1042h3v1h-3zM1581 1042h3v1h-3zM1587 1042h3v1h-3zM1593 1043h3v1h-3zM1599 1043h3v1h-3zM1605 1044h3v1h-3zM1611 1044h3v1h-3zM1617 1045h3v1h-3zM1623 1046h2v1h-2zM1625 1047h1v1h-1zM1629 1048h3v1h-3zM1635 1049h1v1h-1zM1636 1050h2v1h-2zM1641 1050h1v1h-1zM1642 1051h2v1h-2zM1647 1052h3v1h-3zM1653 1053h1v1h-1zM1654 1054h2v1h-2zM1659 1055h3v1h-3zM1665 1056h3v1h-3zM1671 1056h3v1h-3zM1677 1057h3v1h-3z"/>
<rect x="3" y="1033" width="206.5" height="17" fill="#fff"/>
</g>
<text x="7.3" y="15.8" class="m" font-size="12.5px" fill="#000" textLength="217.5" lengthAdjust="spacingAndGlyphs">USDCHF, Daily:&#160; US Dollar vs Swiss Franc</text>
<text x="5" y="833.5" class="m" font-size="12.5px" fill="#000">RSI(14) 64.81</text>
<rect x="4" y="927" width="146" height="15" fill="#fff"/>
<text x="5" y="939.5" class="m" font-size="12.5px" fill="#000" textLength="143" lengthAdjust="spacingAndGlyphs">Stoch(5,3,3) 92.77 75.44</text>
<text x="5" y="1047.5" class="m" font-size="12.5px" fill="#000" textLength="199" lengthAdjust="spacingAndGlyphs">MACD(12,26,9) 0.003323 0.003008</text>
<g shape-rendering="crispEdges" fill="#000">
<rect x="2" y="1124" width="1" height="4"/>
<rect x="130" y="1124" width="1" height="4"/>
<rect x="258" y="1124" width="1" height="4"/>
<rect x="386" y="1124" width="1" height="4"/>
<rect x="514" y="1124" width="1" height="4"/>
<rect x="642" y="1124" width="1" height="4"/>
<rect x="770" y="1124" width="1" height="4"/>
<rect x="898" y="1124" width="1" height="4"/>
<rect x="1026" y="1124" width="1" height="4"/>
<rect x="1154" y="1124" width="1" height="4"/>
<rect x="1282" y="1124" width="1" height="4"/>
<rect x="1410" y="1124" width="1" height="4"/>
<rect x="1538" y="1124" width="1" height="4"/>
<rect x="1666" y="1124" width="1" height="4"/>
</g>
<text x="1.5" y="1139" class="m" font-size="12.5px" fill="#000">29 Feb 2024</text>
<text x="129.5" y="1139" class="m" font-size="12.5px" fill="#000">20 Mar 2024</text>
<text x="257.5" y="1139" class="m" font-size="12.5px" fill="#000">10 Apr 2024</text>
<text x="385.5" y="1139" class="m" font-size="12.5px" fill="#000">2 May 2024</text>
<text x="513.5" y="1139" class="m" font-size="12.5px" fill="#000">24 May 2024</text>
<text x="641.5" y="1139" class="m" font-size="12.5px" fill="#000">17 Jun 2024</text>
<text x="769.5" y="1139" class="m" font-size="12.5px" fill="#000">9 Jul 2024</text>
<text x="897.5" y="1139" class="m" font-size="12.5px" fill="#000">31 Jul 2024</text>
<text x="1025.5" y="1139" class="m" font-size="12.5px" fill="#000">22 Aug 2024</text>
<text x="1153.5" y="1139" class="m" font-size="12.5px" fill="#000">13 Sep 2024</text>
<text x="1281.5" y="1139" class="m" font-size="12.5px" fill="#000">7 Oct 2024</text>
<text x="1409.5" y="1139" class="m" font-size="12.5px" fill="#000">28 Oct 2024</text>
<text x="1537.5" y="1139" class="m" font-size="12.5px" fill="#000">19 Nov 2024</text>
<text x="1665.5" y="1139" class="m" font-size="12.5px" fill="#000">11 Dec 2024</text>
<text x="929.7" y="96.6" font-size="48.70px" fill="#000" textLength="468.5" lengthAdjust="spacingAndGlyphs">USDCHF - Daily Chart</text>
<text x="354.2" y="98.1" font-size="23.50px" fill="#000" textLength="223.3" lengthAdjust="spacingAndGlyphs">0.9223 (7-month high)</text>
<text x="1345.5" y="292.4" font-size="23.50px" fill="#000" textLength="223.0" lengthAdjust="spacingAndGlyphs">0.8956 (4-month high)</text>
<text x="1009.8" y="722.5" font-size="23.50px" fill="#000" textLength="211.7" lengthAdjust="spacingAndGlyphs">0.8372 (9 month low)</text>
<text x="993.7" y="434.7" font-size="24.10px" fill="#008080" textLength="83.3" lengthAdjust="spacingAndGlyphs">20-SMA</text>
<text x="1489.5" y="591.0" font-size="24.10px" fill="#ff8c00" textLength="83.5" lengthAdjust="spacingAndGlyphs">50-SMA</text>
<text x="1225.0" y="377.7" font-size="24.10px" fill="#9400d3" textLength="96.5" lengthAdjust="spacingAndGlyphs">200-SMA</text>
<text x="1809.8" y="162.8" font-size="24.10px" fill="#ff0000" textLength="71.6" lengthAdjust="spacingAndGlyphs">0.9150</text>
<text x="1761.8" y="207.6" font-size="24.10px" fill="#ff0000" textLength="150.6" lengthAdjust="spacingAndGlyphs">0.9085-0.9100</text>
<text x="1737.3" y="248.4" font-size="24.10px" fill="#ff0000" textLength="210.3" lengthAdjust="spacingAndGlyphs">0.9040 (78.6% Fibo)</text>
<text x="1809.8" y="301.9" font-size="24.10px" fill="#ff0000" textLength="71.6" lengthAdjust="spacingAndGlyphs">0.8950</text>
<text x="1809.8" y="370.3" font-size="24.10px" fill="#008000" textLength="71.6" lengthAdjust="spacingAndGlyphs">0.8840</text>
<text x="1745.4" y="407.0" font-size="24.10px" fill="#008000" textLength="191.0" lengthAdjust="spacingAndGlyphs">0.8800 (50% Fibo)</text>
<text x="1809.8" y="435.5" font-size="24.10px" fill="#008000" textLength="71.6" lengthAdjust="spacingAndGlyphs">0.8750</text>
<text x="1729.5" y="467.8" font-size="24.10px" fill="#008000" textLength="209.0" lengthAdjust="spacingAndGlyphs">0.8700 (38.2% Fibo)</text>
<text x="1577.3" y="892.9" font-size="20.60px" fill="#008000" textLength="322.6" lengthAdjust="spacingAndGlyphs">RSI rises, below 70 overbought level</text>
<text x="1641.7" y="1003.2" font-size="20.60px" fill="#008000" textLength="212.6" lengthAdjust="spacingAndGlyphs">Stochastics trend higher</text>
<text x="1594.1" y="1102.5" font-size="20.60px" fill="#008000" textLength="302.5" lengthAdjust="spacingAndGlyphs">MACD regains positive momentum</text>
</svg></body></html>
